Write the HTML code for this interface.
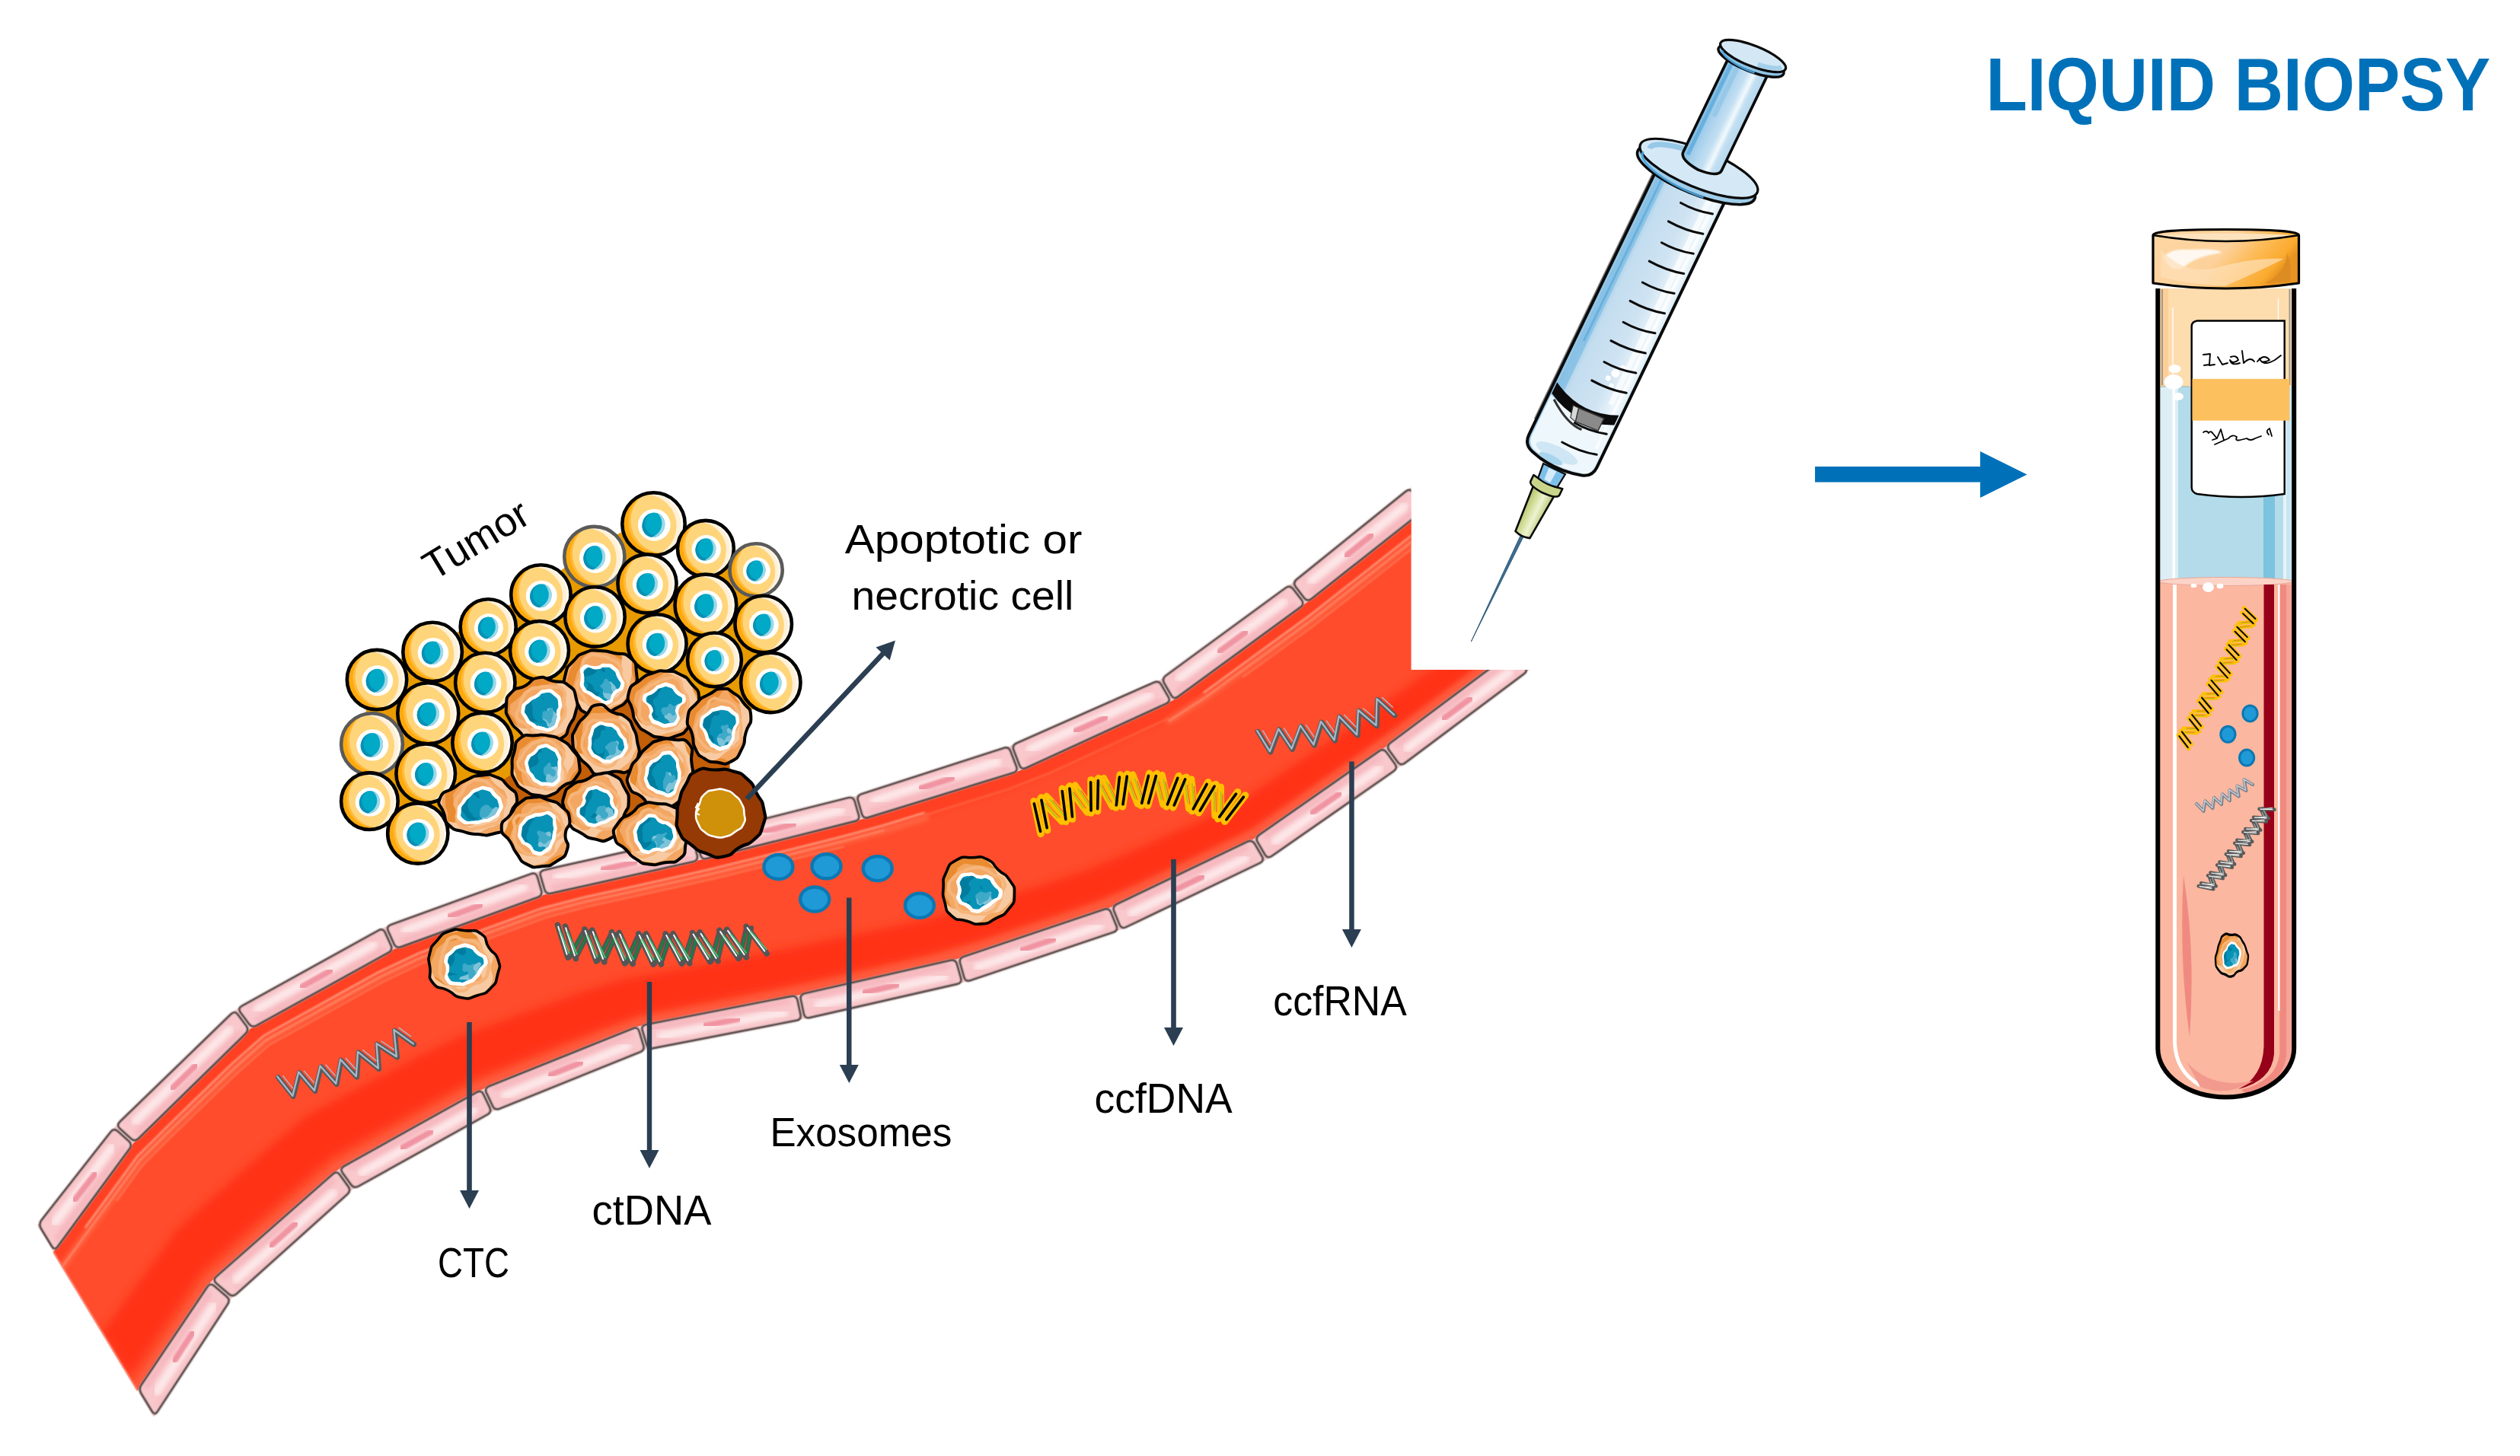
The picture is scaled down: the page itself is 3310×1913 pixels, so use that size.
<!DOCTYPE html>
<html><head><meta charset="utf-8"><title>Liquid biopsy</title>
<style>
html,body{margin:0;padding:0;background:#fff;}
body{width:3310px;height:1913px;overflow:hidden;font-family:"Liberation Sans",sans-serif;}
svg{display:block;}
text{font-family:"Liberation Sans",sans-serif;}
</style></head><body>
<svg width="3310" height="1913" viewBox="0 0 3310 1913">
<defs>
<clipPath id="vclip"><path d="M0 0H1853.5V880H3310V1913H0Z"/></clipPath>
<filter id="blur3" x="-5%" y="-5%" width="110%" height="110%"><feGaussianBlur stdDeviation="3"/></filter>
<filter id="blur6" x="-5%" y="-5%" width="110%" height="110%"><feGaussianBlur stdDeviation="6"/></filter>
<filter id="blur1" x="-5%" y="-5%" width="110%" height="110%"><feGaussianBlur stdDeviation="1.2"/></filter>
<clipPath id="lumclip"><path d="M70.3,1645 175.5,1502.1 329,1351.7 518.3,1247.1 715,1175.7 919.4,1130.1 1131.8,1076.8 1339.5,1012.7 1540,920.7 1715.5,792.4 1874.8,666.5 2031.3,540.5 L2100.5,771 1989.5,854 1819,981.7 1646.6,1101.9 1458.8,1191.9 1257.2,1259.7 1048.3,1307.2 839.8,1347.8 634,1430.7 444.1,1536.6 277.4,1683.2 180.7,1827Z"/></clipPath>
<radialGradient id="ycell" cx="0.5" cy="0.5" r="0.5">
<stop offset="0" stop-color="#ffd57c"/><stop offset="0.74" stop-color="#ffd57c"/><stop offset="0.80" stop-color="#ffc24a"/><stop offset="1" stop-color="#ffb11e"/></radialGradient>
<clipPath id="c858_688"><circle cx="858.5" cy="688.5" r="41.2"/></clipPath>
<clipPath id="n858_688"><ellipse cx="858.4" cy="689.7" rx="14.8" ry="16.3" transform="rotate(18 858.4 689.7)"/></clipPath>
<clipPath id="c926_720"><circle cx="926.9" cy="720.8" r="36.9"/></clipPath>
<clipPath id="n926_720"><ellipse cx="926.9" cy="721.9" rx="13.3" ry="14.7" transform="rotate(18 926.9 721.9)"/></clipPath>
<clipPath id="c780_731"><circle cx="780.8" cy="731.5" r="39.6"/></clipPath>
<clipPath id="n780_731"><ellipse cx="780.7" cy="732.7" rx="14.2" ry="15.7" transform="rotate(18 780.7 732.7)"/></clipPath>
<clipPath id="c993_748"><circle cx="993.1" cy="748.8" r="34.6"/></clipPath>
<clipPath id="n993_748"><ellipse cx="993" cy="749.9" rx="12.4" ry="13.7" transform="rotate(18 993 749.9)"/></clipPath>
<clipPath id="c850_766"><circle cx="850" cy="766.9" r="38.5"/></clipPath>
<clipPath id="n850_766"><ellipse cx="850" cy="768.1" rx="13.8" ry="15.3" transform="rotate(18 850 768.1)"/></clipPath>
<clipPath id="c710_781"><circle cx="710.4" cy="781.5" r="39.2"/></clipPath>
<clipPath id="n710_781"><ellipse cx="710.4" cy="782.7" rx="14.1" ry="15.6" transform="rotate(18 710.4 782.7)"/></clipPath>
<clipPath id="c926_795"><circle cx="926.9" cy="795" r="40.4"/></clipPath>
<clipPath id="n926_795"><ellipse cx="926.9" cy="796.2" rx="14.5" ry="16" transform="rotate(18 926.9 796.2)"/></clipPath>
<clipPath id="c781_810"><circle cx="781.5" cy="810.4" r="39.2"/></clipPath>
<clipPath id="n781_810"><ellipse cx="781.5" cy="811.6" rx="14.1" ry="15.6" transform="rotate(18 781.5 811.6)"/></clipPath>
<clipPath id="c1002_820"><circle cx="1002.7" cy="820" r="37.3"/></clipPath>
<clipPath id="n1002_820"><ellipse cx="1002.7" cy="821.1" rx="13.4" ry="14.8" transform="rotate(18 1002.7 821.1)"/></clipPath>
<clipPath id="c641_823"><circle cx="641.2" cy="823.8" r="36.5"/></clipPath>
<clipPath id="n641_823"><ellipse cx="641.1" cy="824.9" rx="13.1" ry="14.5" transform="rotate(18 641.1 824.9)"/></clipPath>
<clipPath id="c863_845"><circle cx="863.1" cy="845.8" r="38.5"/></clipPath>
<clipPath id="n863_845"><ellipse cx="863" cy="846.9" rx="13.8" ry="15.3" transform="rotate(18 863 846.9)"/></clipPath>
<clipPath id="c708_854"><circle cx="708.5" cy="854.6" r="38.5"/></clipPath>
<clipPath id="n708_854"><ellipse cx="708.4" cy="855.8" rx="13.8" ry="15.3" transform="rotate(18 708.4 855.8)"/></clipPath>
<clipPath id="c568_856"><circle cx="568.1" cy="856.5" r="38.8"/></clipPath>
<clipPath id="n568_856"><ellipse cx="568" cy="857.7" rx="14" ry="15.4" transform="rotate(18 568 857.7)"/></clipPath>
<clipPath id="c938_866"><circle cx="938.5" cy="866.9" r="35.4"/></clipPath>
<clipPath id="n938_866"><ellipse cx="938.4" cy="868" rx="12.7" ry="14" transform="rotate(18 938.4 868)"/></clipPath>
<clipPath id="c495_893"><circle cx="495" cy="893.1" r="39.2"/></clipPath>
<clipPath id="n495_893"><ellipse cx="495" cy="894.3" rx="14.1" ry="15.6" transform="rotate(18 495 894.3)"/></clipPath>
<clipPath id="c1012_896"><circle cx="1012.3" cy="896.9" r="39.2"/></clipPath>
<clipPath id="n1012_896"><ellipse cx="1012.3" cy="898.1" rx="14.1" ry="15.6" transform="rotate(18 1012.3 898.1)"/></clipPath>
<clipPath id="c637_896"><circle cx="637.3" cy="896.9" r="39.2"/></clipPath>
<clipPath id="n637_896"><ellipse cx="637.3" cy="898.1" rx="14.1" ry="15.6" transform="rotate(18 637.3 898.1)"/></clipPath>
<clipPath id="c562_937"><circle cx="562.3" cy="937.3" r="40"/></clipPath>
<clipPath id="n562_937"><ellipse cx="562.3" cy="938.5" rx="14.4" ry="15.9" transform="rotate(18 562.3 938.5)"/></clipPath>
<clipPath id="c633_975"><circle cx="633.5" cy="975.8" r="39.2"/></clipPath>
<clipPath id="n633_975"><ellipse cx="633.4" cy="976.9" rx="14.1" ry="15.6" transform="rotate(18 633.4 976.9)"/></clipPath>
<clipPath id="c488_977"><circle cx="488.5" cy="977.7" r="40.4"/></clipPath>
<clipPath id="n488_977"><ellipse cx="488.4" cy="978.9" rx="14.5" ry="16" transform="rotate(18 488.4 978.9)"/></clipPath>
<clipPath id="c559_1016"><circle cx="559.2" cy="1016.2" r="38.8"/></clipPath>
<clipPath id="n559_1016"><ellipse cx="559.2" cy="1017.3" rx="14" ry="15.4" transform="rotate(18 559.2 1017.3)"/></clipPath>
<clipPath id="c485_1052"><circle cx="485.4" cy="1052.7" r="37.3"/></clipPath>
<clipPath id="n485_1052"><ellipse cx="485.4" cy="1053.8" rx="13.4" ry="14.8" transform="rotate(18 485.4 1053.8)"/></clipPath>
<clipPath id="c548_1095"><circle cx="548.8" cy="1095" r="39.6"/></clipPath>
<clipPath id="n548_1095"><ellipse cx="548.8" cy="1096.2" rx="14.2" ry="15.7" transform="rotate(18 548.8 1096.2)"/></clipPath>
<clipPath id="o789_895"><path d="M833.1 903.9C829 915.9 831.8 911.1 823.7 920.1C815.6 929.1 819.7 924.6 808.7 930.8C797.7 936.9 803.8 936.6 790.8 938.6C777.8 940.6 781.3 942.6 769.7 936.8C758.2 931.1 764.5 931.8 756.1 921.4C747.6 910.9 748.8 917.4 744.4 905.4C740 893.5 739.9 897.8 742.8 885.6C745.7 873.3 744.4 878.1 753 868.7C761.7 859.3 757.1 861.8 768.7 857.3C780.3 852.8 775.2 854.9 787.8 855.1C800.4 855.4 793.1 854.9 806.5 858C819.8 861 818 855.5 827.9 864.3C837.7 873 834.3 870.9 836 884.1C837.7 897.3 837.1 891.9 833.1 903.9Z"/></clipPath>
<clipPath id="on789_895"><path d="M814.7 901.3C812.8 907.8 810.5 902.8 805.2 909.2C799.8 915.5 804.9 918.2 798.6 920.3C792.3 922.4 793.2 919 786.2 915.5C779.3 912.1 783.6 914.1 777.7 910C771.7 905.9 771.6 909.3 768.3 903.3C764.9 897.2 767.3 900 767.6 891.7C767.9 883.4 763.7 882.4 769.3 878.4C774.8 874.4 776 880.3 784.3 879.6C792.6 879 787.3 876.4 794.2 876.5C801.1 876.6 799.4 875.6 805 880C810.5 884.4 807.5 882.6 810.8 889.7C814 896.8 816.6 894.8 814.7 901.3Z"/></clipPath>
<clipPath id="o712_932"><path d="M755.8 936.7C753 948.3 754.1 941.8 748.3 952.7C742.5 963.5 748.6 962.8 738.5 969.2C728.4 975.6 731.7 970.3 718.1 971.8C704.4 973.3 709.5 977.5 697.4 973.8C685.4 970.1 691.2 970 682 960.8C672.8 951.6 675.4 957.3 669.7 946.2C664.1 935.1 664.3 939.8 665.1 927.6C665.8 915.3 663.7 918.4 672 909.5C680.4 900.6 678.7 907.2 690.1 900.9C701.5 894.6 694.3 892.7 706.2 890.6C718.2 888.4 712.4 891.3 725.8 894.6C739.2 897.8 736.1 892.5 746.4 900.3C756.8 908 753.7 905.7 756.8 917.8C759.9 929.9 758.6 925 755.8 936.7Z"/></clipPath>
<clipPath id="on712_932"><path d="M731.1 935.3C730.1 942 733 938.6 730.6 945.3C728.2 951.9 730.4 952.3 723.9 955.3C717.4 958.4 718.9 956.2 711.1 954.4C703.3 952.7 706.6 954.2 700.6 950C694.5 945.9 696.7 948.2 693 941.9C689.4 935.6 688.5 937.7 689.7 931.2C690.8 924.7 691.4 927 696.5 922.3C701.7 917.6 698.8 921.1 705.2 917.1C711.5 913.1 707.9 911.2 715.6 910.2C723.2 909.3 722.1 909.3 728 914.3C734 919.3 732.4 918.2 733.4 925.2C734.4 932.2 732 928.6 731.1 935.3Z"/></clipPath>
<clipPath id="o871_924"><path d="M911.1 936.7C906.3 949.7 911.9 945.5 904 955.7C896.1 965.8 899.3 962.7 887.4 967.2C875.4 971.6 880.3 970.5 868.1 969C855.8 967.5 861.1 968.9 850.5 962.6C840 956.3 843.2 960.4 836.5 950.1C829.7 939.8 833.9 945 830.4 931.7C826.8 918.5 822.6 923 825.8 910.4C829.1 897.7 829.7 902.5 840.2 893.9C850.7 885.2 845.5 888.3 857.3 884.3C869.1 880.3 863.5 881.2 875.6 881.8C887.7 882.4 882.7 880.6 893.6 886.2C904.5 891.7 900.1 888.3 908.3 898.5C916.5 908.6 917.3 903.9 918.2 916.7C919.1 929.4 915.8 923.7 911.1 936.7Z"/></clipPath>
<clipPath id="on871_924"><path d="M887.5 930.5C884.9 938.5 891.7 937.3 888.4 943.9C885.1 950.5 885.1 948.9 877.6 950.4C870.1 951.9 872.8 951.3 865.9 948.3C859 945.4 859.8 947.7 856.9 941.6C854 935.5 860 937.7 857.2 930C854.4 922.3 847.8 925 848.5 918.5C849.2 911.9 852.6 915.3 859.2 910.4C865.8 905.5 861.5 906 868.4 903.7C875.3 901.3 873.3 900.8 879.8 903.3C886.3 905.8 882.4 905.7 887.8 911.2C893.3 916.7 896.3 913.5 896.2 919.9C896.1 926.3 890.1 922.5 887.5 930.5Z"/></clipPath>
<clipPath id="o945_953"><path d="M979.6 962.7C975.6 977.1 980.9 971.5 974.3 984.2C967.7 996.8 970.8 995 959.9 1000.7C948.9 1006.5 953 1002.7 941.5 1001.4C930 1000 934.8 1002.6 925.5 996.8C916.2 991 918.9 994.6 913.5 984C908.1 973.4 912.7 978.6 909.3 965C905.8 951.4 901.1 957.1 903.2 943.2C905.3 929.3 906 933.7 915.5 923.3C925 913 920.7 918.3 931.8 912.1C942.8 906 937.7 905.3 948.6 905C959.5 904.6 955 905 964.4 911.1C973.8 917.3 969.4 913.5 976.7 923.5C984 933.4 985.4 927.9 986.3 941C987.2 954 983.6 948.3 979.6 962.7Z"/></clipPath>
<clipPath id="on945_953"><path d="M962 959.5C959.5 968.1 963.5 965.5 959.5 972.4C955.5 979.3 956.5 978.2 950 980.1C943.4 982.1 945.6 981.1 939.9 978.3C934.2 975.6 936.4 977.2 932.8 971.8C929.1 966.5 932.1 969.7 929 962.3C925.8 954.9 922.2 957.5 923.3 949.6C924.4 941.7 926.1 943.8 932.4 938.7C938.7 933.5 935.8 935.9 942.2 934.1C948.5 932.3 945.5 932.2 951.4 933.2C957.4 934.3 954.9 932.8 960 937.2C965.2 941.7 966.2 939.2 966.8 946.6C967.4 954 964.4 950.8 962 959.5Z"/></clipPath>
<clipPath id="o796_974"><path d="M837.1 974.6C839.1 987.1 841.6 982.1 838 994.8C834.5 1007.5 837.5 1006.3 826.5 1012.6C815.5 1018.9 818.5 1011.7 805.1 1013.7C791.6 1015.7 797.3 1021.4 786.1 1018.6C775 1015.8 780.5 1014.2 771.6 1005.4C762.7 996.7 765.8 1002.6 759.3 992.3C752.9 982.1 753 986.8 752.3 974.6C751.5 962.4 751.5 967.1 757 955.8C762.6 944.4 759.7 950.5 769 940.6C778.4 930.7 773.1 927.6 785.1 926.1C797.1 924.5 792.7 930.5 805 935.9C817.3 941.3 812.9 935.2 821.9 942.3C831 949.4 827.1 946.5 832.1 957.3C837.2 968.1 835.1 962.1 837.1 974.6Z"/></clipPath>
<clipPath id="on796_974"><path d="M819.1 975.9C820.5 982.9 821 981.6 817.1 987.7C813.2 993.8 814.1 990.7 807.4 994.2C800.7 997.6 803.8 998.3 797 998.1C790.2 997.9 793.1 997.4 786.9 993.6C780.7 989.9 781.6 992.7 778.4 986.8C775.2 980.9 777.3 983.1 777.4 975.9C777.5 968.7 776.2 972.3 778.8 965.2C781.3 958.1 778.9 958.3 784.9 954.6C791 951 789.6 953.2 797 954.3C804.4 955.4 801.9 953.9 807.2 957.9C812.5 962 809 960.6 812.9 966.6C816.9 972.5 817.7 968.9 819.1 975.9Z"/></clipPath>
<clipPath id="o714_1004"><path d="M756 1022.3C748.9 1032.3 749.6 1025.7 739.4 1032.8C729.3 1040 736.3 1039.6 725.6 1043.7C714.8 1047.8 719.2 1046.8 707.2 1045.1C695.2 1043.3 699.9 1045.2 689.6 1038.5C679.3 1031.8 681.8 1035.6 676.2 1024.8C670.6 1014.1 673 1018.6 672.7 1006.3C672.4 994.1 671.8 1000.3 675.4 988.2C678.9 976.1 674.1 977.3 683.3 970C692.6 962.7 690.6 967.4 703.1 966.3C715.6 965.1 709.3 964.6 720.8 966.7C732.3 968.8 727.3 966.5 737.6 972.5C747.9 978.5 743.9 974.7 751.6 984.7C759.3 994.8 759.2 990.2 760.7 1002.7C762.2 1015.2 763.1 1012.2 756 1022.3Z"/></clipPath>
<clipPath id="on714_1004"><path d="M732.3 1013.1C731.4 1020.3 734.6 1020.4 729.8 1025.3C725 1030.2 725.4 1027.9 717.8 1027.8C710.2 1027.7 712.9 1028.6 707 1025.1C701 1021.6 703.9 1022.9 699.9 1017.3C696 1011.7 696.5 1014.9 695 1008.3C693.5 1001.8 692.7 1003.5 695.5 997.6C698.3 991.7 697.9 995.4 703.5 990.5C709 985.6 705.4 984.6 712.2 982.8C719 981.1 717.4 981.7 723.8 985.2C730.2 988.8 728.6 987.3 731.5 993.5C734.4 999.6 732.3 997.1 732.6 1003.7C732.8 1010.3 733.2 1005.9 732.3 1013.1Z"/></clipPath>
<clipPath id="o870_1016"><path d="M909.7 1020.1C908.8 1032.8 911.4 1028.2 905.6 1039.2C899.8 1050.1 902.4 1045.7 892.3 1052.9C882.3 1060.1 887.4 1058.1 875.5 1060.7C863.6 1063.4 867.4 1065.5 856.6 1060.9C845.8 1056.4 853.1 1056.1 843.1 1047.1C833.1 1038.1 831.7 1045.8 826.6 1034C821.5 1022.3 823.7 1024.9 827.8 1011.8C831.8 998.8 831.2 1005.1 838.7 995C846.3 984.8 841.2 988.9 850.4 981.4C859.5 973.9 854.7 975.7 866.1 972.5C877.6 969.3 871.7 970.1 884.8 971.8C897.8 973.6 897.4 968 905.2 977.7C913 987.4 906.8 986.9 908.3 1001C909.8 1015.1 910.6 1007.3 909.7 1020.1Z"/></clipPath>
<clipPath id="on870_1016"><path d="M890.1 1019.4C889.6 1026.4 890.2 1022.6 887.2 1029.9C884.2 1037.2 887 1038.2 881.1 1041.3C875.2 1044.5 876.5 1041.4 869.4 1039.4C862.3 1037.5 865.7 1039.5 859.8 1035.5C854 1031.6 854.5 1034.2 851.8 1027.6C849.1 1020.9 850.5 1023.1 851.8 1015.5C853.1 1008 851.5 1010.2 855.7 1004.9C859.8 999.5 858.2 1003.9 864.4 999.4C870.6 995 867.3 992.4 874.2 991.5C881.1 990.7 880.3 991.1 885.1 996.8C889.9 1002.6 887 1001.4 888.6 1008.9C890.3 1016.4 890.5 1012.4 890.1 1019.4Z"/></clipPath>
<clipPath id="o629_1058"><path d="M678.9 1048.5C680.3 1059.7 675.6 1054.3 671.7 1066.7C667.8 1079 675.2 1075.9 667.3 1085.5C659.3 1095.2 661.2 1092 647.9 1095.5C634.6 1099 640.4 1097 627.4 1096.1C614.3 1095.1 621.1 1096.3 608.8 1092.6C596.5 1088.8 599.2 1093 590.5 1084.8C581.9 1076.6 587 1080.1 582.8 1067.9C578.7 1055.8 573.4 1059.4 578 1048.4C582.6 1037.3 585 1042.6 596.7 1034.8C608.3 1026.9 601.2 1030.1 612.9 1024.8C624.7 1019.4 618.9 1019.9 632 1018.7C645.1 1017.5 640.5 1016.5 652.3 1021.2C664.1 1026 658.5 1024 667.3 1033C676.2 1042.1 677.4 1037.3 678.9 1048.5Z"/></clipPath>
<clipPath id="on629_1058"><path d="M654.6 1054.8C656.2 1061.5 656.4 1059.6 653 1065.8C649.6 1072.1 650.7 1070 644.4 1073.6C638.1 1077.1 641.1 1074.9 634 1076.5C626.8 1078.1 631.3 1078.4 623 1078.4C614.7 1078.4 614.8 1081.2 609.1 1076.6C603.4 1072 605.2 1072.1 605.8 1064.7C606.5 1057.3 607 1060.2 611.1 1054.3C615.1 1048.5 612.8 1051.8 618 1047.1C623.2 1042.3 619.5 1042.9 626.6 1040C633.6 1037.1 632 1036.4 639.1 1038.4C646.3 1040.3 642.9 1040.4 648 1045.9C653.2 1051.4 652.9 1048.2 654.6 1054.8Z"/></clipPath>
<clipPath id="o783_1059"><path d="M819.9 1070.5C815.7 1081.3 819.4 1075.5 813.1 1086C806.8 1096.5 811.9 1096.5 801.1 1101.9C790.2 1107.4 793.3 1104.9 780.5 1102.3C767.8 1099.7 773.8 1100.8 762.8 1094.2C751.9 1087.7 754.8 1092.4 747.8 1082.6C740.7 1072.8 744 1077.1 741.7 1064.9C739.4 1052.7 737.4 1057.4 740.9 1046.1C744.3 1034.7 742.7 1038 752.1 1030.9C761.6 1023.9 757.9 1029.5 769.3 1024.8C780.7 1020.2 773.8 1018.8 786.3 1017C798.9 1015.2 795.7 1013.3 807 1019.3C818.3 1025.4 814 1023.7 820.3 1035.1C826.5 1046.5 825.8 1041.7 825.7 1053.5C825.6 1065.3 824.1 1059.7 819.9 1070.5Z"/></clipPath>
<clipPath id="on783_1059"><path d="M807.2 1067.5C806 1073.7 804.4 1071.3 798.2 1075.2C792.1 1079.1 795.6 1077 788.7 1079.2C781.9 1081.4 784.5 1083.2 777.7 1081.8C770.9 1080.5 773.6 1080.6 768.3 1075.1C762.9 1069.6 761.5 1071.9 761.6 1065.4C761.8 1059 766 1062.4 768.8 1055.7C771.6 1049 766.7 1051.4 770.1 1045.3C773.4 1039.3 772 1039.3 778.9 1037.5C785.8 1035.7 783.6 1037.1 790.6 1040C797.7 1043 796.3 1040.7 800 1046.2C803.7 1051.8 799.4 1049.6 801.8 1056.7C804.2 1063.8 808.4 1061.4 807.2 1067.5Z"/></clipPath>
<clipPath id="o706_1092"><path d="M742.6 1095.9C741.5 1109.2 748.8 1104.5 745 1116.4C741.2 1128.3 742.2 1124.3 731.2 1131.6C720.2 1138.9 725 1136.9 712 1138.2C699.1 1139.6 703.3 1141.2 692.3 1135.6C681.2 1130 686.1 1131.4 678.8 1121.5C671.5 1111.6 677 1117.2 670.3 1105.9C663.6 1094.6 658.6 1099.5 658.7 1087.5C658.8 1075.5 662.7 1080.8 670.7 1069.9C678.8 1059 672.8 1062.1 682.9 1054.7C693.1 1047.3 688.8 1048.7 701.2 1047.6C713.6 1046.4 708 1047.1 720.1 1051.2C732.2 1055.2 728.2 1051.2 737.5 1059.7C746.9 1068.2 746.5 1064.6 748.2 1076.7C749.9 1088.7 743.6 1082.7 742.6 1095.9Z"/></clipPath>
<clipPath id="on706_1092"><path d="M725.9 1095.5C724.8 1102.5 726.4 1099 723.3 1105.5C720.2 1112 722.7 1110.7 716.6 1115C710.4 1119.3 711.6 1120.3 704.9 1118.5C698.2 1116.7 702.1 1114.8 696.3 1109.6C690.6 1104.4 691.2 1109.1 687.6 1103C684 1096.9 684.5 1098.7 685.5 1091.4C686.5 1084.1 686 1086.6 690.6 1081.1C695.3 1075.6 693.1 1077.8 699.4 1075C705.7 1072.1 701.8 1073.6 709.5 1072.6C717.2 1071.6 716.8 1067.9 722.5 1071.9C728.2 1075.8 725.4 1076.7 726.6 1084.5C727.7 1092.4 727 1088.5 725.9 1095.5Z"/></clipPath>
<clipPath id="o858_1095"><path d="M900.6 1091.2C900.7 1103.6 903.1 1096.8 900.6 1109.1C898.2 1121.4 902.7 1119.9 893.2 1128C883.7 1136.1 885.7 1130.9 872.1 1133.5C858.6 1136 865 1137.3 852.6 1135.6C840.3 1133.9 845.3 1134.9 835.1 1128.4C824.8 1121.9 831.2 1125.3 822 1116C812.7 1106.8 810.4 1112.4 807.4 1100.5C804.3 1088.7 805.3 1091.2 812.7 1080.5C820.2 1069.8 819.1 1076.4 829.7 1068.4C840.3 1060.4 833 1060.6 844.5 1056.5C856 1052.4 851.1 1054.9 864.2 1056C877.2 1057.2 871.6 1054.6 883.6 1059.9C895.6 1065.2 894.5 1061.4 900.1 1071.8C905.8 1082.2 900.4 1078.7 900.6 1091.2Z"/></clipPath>
<clipPath id="on858_1095"><path d="M883.5 1094.2C884.9 1101.2 884.9 1099.2 881.3 1105.7C877.6 1112.3 879.3 1111.2 872.6 1113.8C865.8 1116.5 868.8 1112.6 861.1 1113.7C853.3 1114.8 855.9 1118.8 849.3 1117.1C842.8 1115.5 845.4 1114.8 841.4 1108.7C837.4 1102.6 838.4 1105.8 837.4 1098.8C836.4 1091.9 835.5 1094.4 838.4 1088C841.4 1081.5 840.1 1084.3 846.3 1079.6C852.5 1074.9 850.2 1073.4 857.1 1073.9C864 1074.5 860.2 1077.7 866.9 1081.2C873.6 1084.8 871.6 1080.4 877.1 1084.7C882.7 1089 882.1 1087.2 883.5 1094.2Z"/></clipPath>
<clipPath id="o608_1266"><path d="M653.6 1280.3C650.4 1292.8 653.6 1288.9 644.6 1298.2C635.5 1307.4 639.4 1303.8 626.5 1308C613.6 1312.2 618.8 1313.1 605.9 1310.8C593.1 1308.4 600.3 1307.3 587.9 1301C575.5 1294.6 576.5 1301.3 568.8 1291.6C561.1 1281.9 566.2 1284.8 564.8 1271.8C563.4 1258.9 561.5 1264.7 564.5 1252.8C567.6 1240.8 565.5 1245.6 574 1235.9C582.6 1226.2 577.8 1228 590.2 1223.6C602.6 1219.2 597.3 1221.5 611.3 1222.7C625.2 1223.9 621.8 1219.7 632.1 1227.1C642.4 1234.6 634.8 1233.9 642.1 1245.1C649.5 1256.4 650.3 1249 654.1 1260.8C657.9 1272.5 656.7 1267.8 653.6 1280.3Z"/></clipPath>
<clipPath id="on608_1266"><path d="M628.8 1273.7C624.7 1280.2 628.1 1277.2 623.4 1282C618.7 1286.9 621.6 1285.3 614.6 1288.1C607.7 1290.9 610.8 1291.4 602.5 1290.5C594.2 1289.5 593.7 1291.6 589.7 1285.3C585.7 1279 590.9 1279.7 590.5 1271.6C590.1 1263.6 586.9 1267.5 588.4 1261.2C589.8 1254.8 589.6 1257.6 594.9 1252.5C600.1 1247.5 597 1248.3 604.1 1246.1C611.3 1243.8 609.1 1243.3 616.3 1245.8C623.5 1248.2 619.3 1247.8 625.7 1253.4C632.1 1258.9 634.5 1255.6 635.5 1262.4C636.6 1269.1 632.8 1267.1 628.8 1273.7Z"/></clipPath>
<clipPath id="o1283_1170"><path d="M1332.4 1175.5C1332 1188.5 1332.7 1184.4 1324.5 1194.9C1316.2 1205.4 1319.5 1200.5 1307.6 1206.9C1295.8 1213.2 1301.6 1212.9 1288.9 1213.9C1276.1 1214.9 1282.3 1213.5 1269.3 1209.9C1256.3 1206.3 1259.3 1211.3 1249.8 1203.1C1240.3 1194.8 1244.4 1197.3 1240.8 1185C1237.2 1172.7 1238.5 1178.9 1239.1 1166.1C1239.7 1153.3 1237 1158.6 1242.6 1146.7C1248.2 1134.8 1244.3 1137 1255.8 1130.3C1267.3 1123.7 1263.3 1127 1277.1 1126.7C1290.9 1126.3 1285.9 1124 1297.3 1129.4C1308.6 1134.8 1301.7 1134 1311.2 1142.9C1320.6 1151.7 1318.6 1144.9 1325.7 1155.8C1332.7 1166.7 1332.8 1162.4 1332.4 1175.5Z"/></clipPath>
<clipPath id="on1283_1170"><path d="M1311.8 1174.6C1310.8 1181.6 1307.7 1178.8 1301.3 1184C1294.8 1189.1 1299 1186.5 1292.4 1190.1C1285.9 1193.6 1288.4 1195.4 1281.6 1194.7C1274.8 1194 1278.5 1192.4 1272 1188C1265.5 1183.5 1265.1 1187.4 1262.1 1181.3C1259.1 1175.3 1262.9 1178 1262.9 1169.7C1262.9 1161.5 1258.4 1162.9 1262.2 1156.6C1265.9 1150.3 1266.3 1151.5 1274.2 1150.8C1282 1150.2 1278.1 1153.4 1285.6 1154.6C1293.2 1155.8 1290.5 1151.7 1296.7 1154.5C1302.9 1157.3 1299.3 1156.2 1304.3 1162.9C1309.3 1169.6 1312.8 1167.6 1311.8 1174.6Z"/></clipPath>
<linearGradient id="barrelg" x1="0" x2="1" y1="0" y2="0">
<stop offset="0" stop-color="#8fc4e6"/><stop offset="0.10" stop-color="#9fcdea"/><stop offset="0.22" stop-color="#c3ddef"/>
<stop offset="0.62" stop-color="#cfe3f2"/><stop offset="0.80" stop-color="#e3f0f8"/><stop offset="0.90" stop-color="#f4fafd"/><stop offset="1" stop-color="#d5e8f4"/></linearGradient>
<linearGradient id="shaftg" x1="0" x2="1" y1="0" y2="0">
<stop offset="0" stop-color="#7fbce3"/><stop offset="0.25" stop-color="#a6d0ec"/><stop offset="0.55" stop-color="#c4e0f2"/>
<stop offset="0.70" stop-color="#f2f9fd"/><stop offset="0.80" stop-color="#c4e0f2"/><stop offset="1" stop-color="#b5d7ee"/></linearGradient>
<linearGradient id="hubg" x1="0" x2="1" y1="0" y2="0">
<stop offset="0" stop-color="#aebf62"/><stop offset="0.35" stop-color="#d6e09e"/><stop offset="0.6" stop-color="#eef2d2"/><stop offset="1" stop-color="#b9c774"/></linearGradient>
<clipPath id="tubeclip"><path d="M2834.3 379 V1377.5 A89.4 64 0 0 0 3013.2 1377.5 V379 Z"/></clipPath>
<linearGradient id="capg" x1="0" x2="1" y1="0" y2="0.35">
<stop offset="0" stop-color="#fdd6a2"/><stop offset="0.55" stop-color="#fdd19a"/><stop offset="0.75" stop-color="#fdbb58"/><stop offset="0.93" stop-color="#fbab30"/><stop offset="1" stop-color="#e89422"/></linearGradient>
<clipPath id="o2930_1255"><path d="M2979.2 1264.8C2976.6 1277.5 2976.9 1274.1 2966.5 1282.1C2956.1 1290 2959.6 1283.3 2948 1288.6C2936.5 1293.9 2943.5 1296.1 2931.8 1297.9C2920.2 1299.7 2925.7 1298.1 2913.2 1294C2900.7 1289.9 2903.8 1294.7 2894.3 1285.6C2884.8 1276.5 2886.2 1279.7 2884.7 1266.7C2883.3 1253.8 2885.8 1259.2 2889.9 1246.7C2894 1234.2 2890.3 1240.3 2896.9 1229.3C2903.5 1218.3 2898.8 1218.9 2909.7 1213.8C2920.7 1208.8 2916.8 1213.8 2929.8 1214.2C2942.9 1214.6 2937.5 1210.6 2948.9 1215C2960.2 1219.4 2955.2 1217.8 2963.8 1227.4C2972.3 1237 2969.3 1231.4 2974.5 1243.9C2979.6 1256.4 2981.9 1252.1 2979.2 1264.8Z"/></clipPath>
<clipPath id="on2930_1255"><path d="M2951.7 1260.4C2949.5 1267.7 2952.3 1266 2947.5 1270.5C2942.8 1275.1 2944.2 1271.8 2937.5 1274.1C2930.8 1276.4 2935.1 1276.8 2927.4 1277.5C2919.7 1278.1 2920.2 1280.8 2914.4 1276.2C2908.6 1271.6 2911.2 1271.8 2910 1263.8C2908.8 1255.7 2907.8 1258.4 2910.8 1252.1C2913.7 1245.7 2914.1 1250.2 2918.8 1244.8C2923.5 1239.3 2919.1 1239.7 2924.9 1235.7C2930.8 1231.7 2929.3 1231.6 2936.4 1232.8C2943.6 1234.1 2940.5 1234.2 2946.4 1239.4C2952.4 1244.7 2952.5 1241.6 2954.3 1248.6C2956.1 1255.5 2954 1253.1 2951.7 1260.4Z"/></clipPath>
</defs>
<g clip-path="url(#vclip)">
<path d="M49,1610 151,1480 310,1326 505,1218 706,1145 912,1099 1123,1046 1327,980 1524,893 1696,767 1853.5,640 2010,514 L2120,797 2009,880 1838,1008 1663,1130 1471,1222 1266,1291 1055,1339 849,1379 648,1460 463,1563 304,1706 202,1862Z" fill="#f8c9cd"/>
<path d="M70.3,1645 175.5,1502.1 329,1351.7 518.3,1247.1 715,1175.7 919.4,1130.1 1131.8,1076.8 1339.5,1012.7 1540,920.7 1715.5,792.4 1874.8,666.5 2031.3,540.5 L2100.5,771 1989.5,854 1819,981.7 1646.6,1101.9 1458.8,1191.9 1257.2,1259.7 1048.3,1307.2 839.8,1347.8 634,1430.7 444.1,1536.6 277.4,1683.2 180.7,1827Z" fill="#ff4c2c"/>
<g clip-path="url(#lumclip)">
<path d="M134.3,1750.6 167.5,1705.2 200.6,1659.7 233.7,1614.3 275.3,1576.4 317.6,1539.2 360,1502 403.1,1465.7 453,1439.1 503.2,1412.7 553.3,1386.3 604.1,1361.6 657.5,1342.2 710.8,1322.8 764.1,1303.4 818.2,1286.8 874.2,1276.6 930.2,1266.3 986.1,1256.1 1041.8,1245 1097.4,1233.3 1152.9,1221.5 1208.3,1209.4 1263,1194.9 1317.2,1178.4 1371.3,1161.9 1425,1144.3 1477,1122.6 1528.5,1099.6 1580,1076.6 1630.3,1051.7 1676.8,1020.4 1723.4,989.1 1769.9,957.8 1815.9,925.9 1861.3,893.1 1906.7,860.4 1952.1,827.6 1997.4,794.9 2042.7,762.2 2088.1,729.5 L2097.8,761.8 2052.7,795.1 2007.7,828.5 1962.7,861.9 1917.7,895.2 1872.6,928.6 1827.6,962 1781.8,994.4 1735.7,1026.3 1689.5,1058.2 1643.4,1090 1592.9,1114.5 1542.1,1138.4 1491.3,1162.3 1439.8,1184.6 1386.5,1202.4 1333.1,1220 1279.7,1237.5 1225.6,1252.6 1170.8,1264.9 1115.8,1277.2 1060.9,1289.5 1005.8,1300.7 950.5,1311.3 895.2,1321.9 840,1332.5 787.1,1351.4 734.8,1372 682.4,1392.6 630.1,1413.1 580.5,1439.4 531.2,1466.5 481.9,1493.6 432.9,1521.1 390.6,1557.9 348.4,1595 306.2,1632.1 264.9,1670 233.2,1716.2 201.4,1762.5 169.7,1808.8 Z" fill="#ff3217" filter="url(#blur6)"/>
<path d="M175.2,1817.9 206.7,1771.3 238.1,1724.8 269.6,1678.2 310.7,1640.2 352.8,1603 394.9,1565.8 437,1528.7 485.8,1500.9 534.8,1473.5 583.9,1446.2 633.3,1419.5 685.4,1398.6 737.6,1377.7 789.7,1356.8 842.3,1337.5 897.5,1326.6 952.6,1315.8 1007.7,1305 1062.7,1293.5 1117.5,1281 1172.2,1268.5 1227,1255.9 1280.9,1240.6 1334.2,1222.7 1387.5,1204.9 1440.6,1186.8 1492,1164.2 1542.7,1140 1593.4,1115.8 1643.8,1091.1 1689.8,1058.9 1735.8,1026.7 1781.9,994.5 1827.5,961.8 1872.5,928.1 1917.4,894.4 1962.3,860.6 2007.2,826.9 2052.2,793.2 2097.1,759.4 L2101.9,775.6 2057,809.1 2012.1,842.7 1967.1,876.2 1922.2,909.8 1877.3,943.4 1832.4,976.9 1786.7,1009.4 1740.7,1041.5 1694.7,1073.5 1648.7,1105.6 1598.1,1129.8 1547.6,1154 1497,1178.3 1445.8,1200.7 1392.6,1218.6 1339.5,1236.5 1286.3,1254.4 1232.4,1269.6 1177.8,1282 1123.1,1294.4 1068.4,1306.8 1013.5,1318 958.4,1328.7 903.4,1339.4 848.4,1350.1 796,1369.9 744,1390.9 692,1411.9 640,1432.8 590.8,1459.7 541.9,1487 492.9,1514.3 444.3,1542.1 402.2,1579.1 360,1616.1 317.9,1653.1 276.7,1691 245.4,1737.5 214.2,1784 182.9,1830.6 Z" fill="#ff5a3c" filter="url(#blur3)"/>
<path d="M68.1,1641.4 102.3,1595 136.5,1548.6 170.8,1502.2 211.4,1461.3 252.5,1420.9 293.7,1380.5 336.7,1342.5 387.2,1314.6 437.6,1286.7 488.1,1258.8 540.3,1234.6 594.5,1215 648.7,1195.3 702.9,1175.7 758.9,1161.9 815.2,1149.3 871.4,1136.8 927.7,1123.9 983.6,1109.8 1039.5,1095.7 1095.4,1081.7 1151.1,1066.4 1206.2,1049.4 1261.3,1032.4 1316.4,1015.5 1369.8,994.1 1422.3,970.1 1474.7,946 1527.1,922 1574.9,890 1621.4,856 1668,821.9 1714.5,787.8 1759.7,752 1804.9,716.2 1850.2,680.5 1895.2,644.5 1940.1,608.3 1985,572.1 2029.9,535.9 L2038.2,563.5 1993.3,599.4 1948.4,635.3 1903.5,671.2 1858.5,706.9 1813.3,742.4 1768.1,778 1722.8,813.4 1676.4,847.2 1629.9,881.1 1583.4,914.9 1535.3,946 1483.1,970 1430.9,994.1 1378.6,1018 1325.2,1038.9 1270.3,1056 1215.4,1073.1 1160.4,1089.9 1104.9,1104.8 1049.2,1118.7 993.4,1132.5 937.6,1146.3 881.5,1158.9 825.3,1171.3 769.2,1183.6 713.7,1198.1 659.7,1217.9 605.7,1237.7 551.8,1257.5 500,1282 449.7,1309.8 399.4,1337.7 349.1,1365.5 306.2,1403.4 264.9,1443.4 223.7,1483.4 183,1523.9 149.1,1570.4 115.2,1616.8 81.3,1663.2 Z" fill="#ff4122" filter="url(#blur3)"/>
<path d="M81.9,1664.1 115.7,1617.7 149.6,1571.3 183.5,1524.8 224.2,1484.3 265.4,1444.3 306.7,1404.4 349.6,1366.5 399.9,1338.6 450.2,1310.8 500.5,1283 552.2,1258.5 606.2,1238.6 660.2,1218.8 714.1,1199 769.6,1184.5 825.8,1172.2 881.9,1159.8 938,1147.2 993.8,1133.5 1049.6,1119.6 1105.3,1105.7 1160.8,1090.9 1215.8,1074" fill="none" stroke="#ff7f5c" stroke-width="9" opacity="0.55" stroke-linecap="round" filter="url(#blur3)"/>
<path d="M112.5,1612.3 146.5,1565.8 180.4,1519.4 221.1,1478.8 262.3,1438.7 303.6,1398.6 346.5,1360.7 396.8,1332.9 447.2,1305 497.5,1277.2 549.4,1252.7 603.4,1233 657.4,1213.2 711.4,1193.4 767,1179.1 823.2,1166.7 879.4,1154.3 935.5,1141.6 991.3,1127.8 1047.1,1113.9 1103,1099.9 1158.5,1085 1213.5,1068.1" fill="none" stroke="#ffa68c" stroke-width="2.6" opacity="0.85" stroke-linecap="round" filter="url(#blur1)"/>
<path d="M81.9,1664.1 115.7,1617.7 149.6,1571.3 183.5,1524.8 224.2,1484.3 265.4,1444.3 306.7,1404.4 349.6,1366.5 399.9,1338.6 450.2,1310.8 500.5,1283 552.2,1258.5 606.2,1238.6 660.2,1218.8 714.1,1199 769.6,1184.5 825.8,1172.2 881.9,1159.8 938,1147.2 993.8,1133.5 1049.6,1119.6 1105.3,1105.7 1160.8,1090.9" fill="none" stroke="#ff9272" stroke-width="2.2" opacity="0.8" stroke-linecap="round" filter="url(#blur1)"/>
<path d="M153.3,1577.6 187.1,1531.2 227.8,1490.8 269.1,1450.9 310.4,1411 353.2,1373.2 403.4,1345.4 453.7,1317.5 503.9,1289.7 555.6,1265.1 609.5,1245.3 663.4,1225.4 717.3,1205.6 772.6,1190.9 828.7,1178.6 884.8,1166.3 940.9,1153.8 996.6,1140.1 1052.4,1126.3 1108.1,1112.5" fill="none" stroke="#ff8a68" stroke-width="2.0" opacity="0.7" stroke-linecap="round" filter="url(#blur1)"/>
<path d="M1535.7,947 1583.8,915.9 1630.2,882.1 1676.7,848.3 1723.2,814.4 1768.4,779 1813.6,743.5 1858.8,708 1903.9,672.3 1948.8,636.4 1993.7,600.6 2038.6,564.7" fill="none" stroke="#ff7f5c" stroke-width="9" opacity="0.55" stroke-linecap="round" filter="url(#blur3)"/>
<path d="M1581.6,909.7 1628.1,875.8 1674.6,841.9 1721.1,808.1 1766.3,772.6 1811.6,737 1856.8,701.4 1901.8,665.6 1946.7,629.7 1991.6,593.7 2036.5,557.8" fill="none" stroke="#ffa68c" stroke-width="2.6" opacity="0.85" stroke-linecap="round" filter="url(#blur1)"/>
<path d="M1535.7,947 1583.8,915.9 1630.2,882.1 1676.7,848.3 1723.2,814.4 1768.4,779 1813.6,743.5 1858.8,708 1903.9,672.3 1948.8,636.4 1993.7,600.6" fill="none" stroke="#ff9272" stroke-width="2.2" opacity="0.8" stroke-linecap="round" filter="url(#blur1)"/>
<path d="M1632.7,889.4 1679.2,855.7 1725.6,821.9 1770.9,786.6 1816.1,751.2 1861.3,715.7 1906.3,680.1 1951.2,644.3" fill="none" stroke="#ff8a68" stroke-width="2.0" opacity="0.7" stroke-linecap="round" filter="url(#blur1)"/>
<path d="M1214.6,1071.1 1269.5,1054 1324.5,1036.9 1377.9,1016 1430.2,992.1 1482.4,968 1534.6,944" fill="none" stroke="#ff6f4e" stroke-width="3" opacity="0.6" stroke-linecap="round" filter="url(#blur1)"/>
</g>
<path d="M54 1614.3 Q50.4 1608.3 54.7 1602.8L145.3 1487.2 Q149.6 1481.7 154.8 1486.4L169 1499.1 Q174.2 1503.8 170 1509.5L75.8 1637.7 Q71.6 1643.3 68 1637.3Z" fill="#f9c8cc"/>
<path d="M72.4,1605 L145.9,1507.9" stroke="#fde9ea" stroke-width="13" stroke-linecap="round" opacity="0.95" filter="url(#blur3)"/>
<path d="M75.2,1627.6 L162.3,1509.3" stroke="#f4aeb6" stroke-width="7" stroke-linecap="round" opacity="0.8" filter="url(#blur3)"/>
<path d="M60.3,1603 L145.2,1493.8" stroke="#f6bcc2" stroke-width="5" stroke-linecap="round" opacity="0.8" filter="url(#blur3)"/>
<path d="M97.9 1576.6 L125 1542" stroke="#f08c9b" stroke-width="8" stroke-linecap="round" opacity="0.9" filter="url(#blur1)"/>
<path d="M54 1614.3 Q50.4 1608.3 54.7 1602.8L145.3 1487.2 Q149.6 1481.7 154.8 1486.4L169 1499.1 Q174.2 1503.8 170 1509.5L75.8 1637.7 Q71.6 1643.3 68 1637.3Z" fill="none" stroke="#9a8c8a" stroke-width="5" opacity="0.45"/>
<path d="M54 1614.3 Q50.4 1608.3 54.7 1602.8L145.3 1487.2 Q149.6 1481.7 154.8 1486.4L169 1499.1 Q174.2 1503.8 170 1509.5L75.8 1637.7 Q71.6 1643.3 68 1637.3Z" fill="none" stroke="#5c4e4c" stroke-width="2.4" opacity="0.9"/>
<path d="M157.8 1483.2 Q152.6 1478.5 157.6 1473.6L303.4 1332.4 Q308.4 1327.5 312.6 1333.2L323.3 1347.6 Q327.5 1353.2 322.5 1358.1L182.1 1495.7 Q177.1 1500.6 171.9 1495.9Z" fill="#f9c8cc"/>
<path d="M178.2,1472 L300.2,1353.1" stroke="#fde9ea" stroke-width="13" stroke-linecap="round" opacity="0.95" filter="url(#blur3)"/>
<path d="M181.3,1488.2 L315.4,1357" stroke="#f4aeb6" stroke-width="7" stroke-linecap="round" opacity="0.8" filter="url(#blur3)"/>
<path d="M164.1,1472.8 L302.1,1339" stroke="#f6bcc2" stroke-width="5" stroke-linecap="round" opacity="0.8" filter="url(#blur3)"/>
<path d="M225.6 1430.3 L257.2 1399.6" stroke="#f08c9b" stroke-width="8" stroke-linecap="round" opacity="0.9" filter="url(#blur1)"/>
<path d="M157.8 1483.2 Q152.6 1478.5 157.6 1473.6L303.4 1332.4 Q308.4 1327.5 312.6 1333.2L323.3 1347.6 Q327.5 1353.2 322.5 1358.1L182.1 1495.7 Q177.1 1500.6 171.9 1495.9Z" fill="none" stroke="#9a8c8a" stroke-width="5" opacity="0.45"/>
<path d="M157.8 1483.2 Q152.6 1478.5 157.6 1473.6L303.4 1332.4 Q308.4 1327.5 312.6 1333.2L323.3 1347.6 Q327.5 1353.2 322.5 1358.1L182.1 1495.7 Q177.1 1500.6 171.9 1495.9Z" fill="none" stroke="#5c4e4c" stroke-width="2.4" opacity="0.9"/>
<path d="M316.1 1330.6 Q311.9 1324.9 318 1321.5L497 1222.5 Q503.1 1219.1 506 1225.4L513.4 1241.8 Q516.3 1248.2 510.2 1251.6L337.1 1347.3 Q331 1350.6 326.8 1345Z" fill="#f9c8cc"/>
<path d="M338.8,1324.6 L489.1,1241.4" stroke="#fde9ea" stroke-width="13" stroke-linecap="round" opacity="0.95" filter="url(#blur3)"/>
<path d="M338,1340.2 L503.4,1248.8" stroke="#f4aeb6" stroke-width="7" stroke-linecap="round" opacity="0.8" filter="url(#blur3)"/>
<path d="M324.7,1322.2 L494.2,1228.4" stroke="#f6bcc2" stroke-width="5" stroke-linecap="round" opacity="0.8" filter="url(#blur3)"/>
<path d="M396.3 1296.4 L434.8 1275.1" stroke="#f08c9b" stroke-width="8" stroke-linecap="round" opacity="0.9" filter="url(#blur1)"/>
<path d="M316.1 1330.6 Q311.9 1324.9 318 1321.5L497 1222.5 Q503.1 1219.1 506 1225.4L513.4 1241.8 Q516.3 1248.2 510.2 1251.6L337.1 1347.3 Q331 1350.6 326.8 1345Z" fill="none" stroke="#9a8c8a" stroke-width="5" opacity="0.45"/>
<path d="M316.1 1330.6 Q311.9 1324.9 318 1321.5L497 1222.5 Q503.1 1219.1 506 1225.4L513.4 1241.8 Q516.3 1248.2 510.2 1251.6L337.1 1347.3 Q331 1350.6 326.8 1345Z" fill="none" stroke="#5c4e4c" stroke-width="2.4" opacity="0.9"/>
<path d="M510 1223.6 Q507.1 1217.2 513.6 1214.9L697.4 1148.1 Q703.9 1145.8 705.9 1152.5L710.9 1169.7 Q712.9 1176.5 706.3 1178.9L526.9 1244 Q520.3 1246.4 517.4 1240Z" fill="#f9c8cc"/>
<path d="M533,1221.4 L686.8,1165.5" stroke="#fde9ea" stroke-width="13" stroke-linecap="round" opacity="0.95" filter="url(#blur3)"/>
<path d="M529.2,1237 L700,1175" stroke="#f4aeb6" stroke-width="7" stroke-linecap="round" opacity="0.8" filter="url(#blur3)"/>
<path d="M519.9,1216.6 L693.7,1153.5" stroke="#f6bcc2" stroke-width="5" stroke-linecap="round" opacity="0.8" filter="url(#blur3)"/>
<path d="M590.4 1204 L631.7 1189" stroke="#f08c9b" stroke-width="8" stroke-linecap="round" opacity="0.9" filter="url(#blur1)"/>
<path d="M510 1223.6 Q507.1 1217.2 513.6 1214.9L697.4 1148.1 Q703.9 1145.8 705.9 1152.5L710.9 1169.7 Q712.9 1176.5 706.3 1178.9L526.9 1244 Q520.3 1246.4 517.4 1240Z" fill="none" stroke="#9a8c8a" stroke-width="5" opacity="0.45"/>
<path d="M510 1223.6 Q507.1 1217.2 513.6 1214.9L697.4 1148.1 Q703.9 1145.8 705.9 1152.5L710.9 1169.7 Q712.9 1176.5 706.3 1178.9L526.9 1244 Q520.3 1246.4 517.4 1240Z" fill="none" stroke="#5c4e4c" stroke-width="2.4" opacity="0.9"/>
<path d="M710.1 1151.2 Q708.1 1144.5 715 1143L903 1101 Q909.9 1099.5 911.5 1106.3L915.6 1123.8 Q917.2 1130.6 910.4 1132.1L723.9 1173.7 Q717.1 1175.2 715.2 1168.5Z" fill="#f9c8cc"/>
<path d="M733.2,1152 L891.3,1116.7" stroke="#fde9ea" stroke-width="13" stroke-linecap="round" opacity="0.95" filter="url(#blur3)"/>
<path d="M727.2,1167.1 L904.2,1127.6" stroke="#f4aeb6" stroke-width="7" stroke-linecap="round" opacity="0.8" filter="url(#blur3)"/>
<path d="M720.9,1145.6 L899,1105.8" stroke="#f6bcc2" stroke-width="5" stroke-linecap="round" opacity="0.8" filter="url(#blur3)"/>
<path d="M791.6 1142.3 L834.6 1132.7" stroke="#f08c9b" stroke-width="8" stroke-linecap="round" opacity="0.9" filter="url(#blur1)"/>
<path d="M710.1 1151.2 Q708.1 1144.5 715 1143L903 1101 Q909.9 1099.5 911.5 1106.3L915.6 1123.8 Q917.2 1130.6 910.4 1132.1L723.9 1173.7 Q717.1 1175.2 715.2 1168.5Z" fill="none" stroke="#9a8c8a" stroke-width="5" opacity="0.45"/>
<path d="M710.1 1151.2 Q708.1 1144.5 715 1143L903 1101 Q909.9 1099.5 911.5 1106.3L915.6 1123.8 Q917.2 1130.6 910.4 1132.1L723.9 1173.7 Q717.1 1175.2 715.2 1168.5Z" fill="none" stroke="#5c4e4c" stroke-width="2.4" opacity="0.9"/>
<path d="M915.7 1105.3 Q914.1 1098.5 920.9 1096.8L1114.1 1048.2 Q1120.9 1046.5 1122.8 1053.3L1127.8 1070.6 Q1129.7 1077.3 1122.9 1079L928.3 1127.9 Q921.5 1129.6 919.9 1122.8Z" fill="#f9c8cc"/>
<path d="M938.4,1105.6 L1103.1,1064.2" stroke="#fde9ea" stroke-width="13" stroke-linecap="round" opacity="0.95" filter="url(#blur3)"/>
<path d="M931.8,1121.1 L1116.5,1074.7" stroke="#f4aeb6" stroke-width="7" stroke-linecap="round" opacity="0.8" filter="url(#blur3)"/>
<path d="M926.7,1099.3 L1110.3,1053.2" stroke="#f6bcc2" stroke-width="5" stroke-linecap="round" opacity="0.8" filter="url(#blur3)"/>
<path d="M1000.2 1093.3 L1042.9 1082.6" stroke="#f08c9b" stroke-width="8" stroke-linecap="round" opacity="0.9" filter="url(#blur1)"/>
<path d="M915.7 1105.3 Q914.1 1098.5 920.9 1096.8L1114.1 1048.2 Q1120.9 1046.5 1122.8 1053.3L1127.8 1070.6 Q1129.7 1077.3 1122.9 1079L928.3 1127.9 Q921.5 1129.6 919.9 1122.8Z" fill="none" stroke="#9a8c8a" stroke-width="5" opacity="0.45"/>
<path d="M915.7 1105.3 Q914.1 1098.5 920.9 1096.8L1114.1 1048.2 Q1120.9 1046.5 1122.8 1053.3L1127.8 1070.6 Q1129.7 1077.3 1122.9 1079L928.3 1127.9 Q921.5 1129.6 919.9 1122.8Z" fill="none" stroke="#5c4e4c" stroke-width="2.4" opacity="0.9"/>
<path d="M1127 1052.1 Q1125.1 1045.3 1131.8 1043.2L1318.2 982.8 Q1324.9 980.7 1327.4 987.2L1334.9 1006.8 Q1337.4 1013.4 1330.7 1015.4L1140.6 1074 Q1133.9 1076.1 1132 1069.4Z" fill="#f9c8cc"/>
<path d="M1149.6,1050.9 L1309,1000.5" stroke="#fde9ea" stroke-width="13" stroke-linecap="round" opacity="0.95" filter="url(#blur3)"/>
<path d="M1143.7,1066.9 L1323.7,1011.2" stroke="#f4aeb6" stroke-width="7" stroke-linecap="round" opacity="0.8" filter="url(#blur3)"/>
<path d="M1137.6,1045.3 L1315,988.3" stroke="#f6bcc2" stroke-width="5" stroke-linecap="round" opacity="0.8" filter="url(#blur3)"/>
<path d="M1209.4 1035.6 L1251.3 1022.1" stroke="#f08c9b" stroke-width="8" stroke-linecap="round" opacity="0.9" filter="url(#blur1)"/>
<path d="M1127 1052.1 Q1125.1 1045.3 1131.8 1043.2L1318.2 982.8 Q1324.9 980.7 1327.4 987.2L1334.9 1006.8 Q1337.4 1013.4 1330.7 1015.4L1140.6 1074 Q1133.9 1076.1 1132 1069.4Z" fill="none" stroke="#9a8c8a" stroke-width="5" opacity="0.45"/>
<path d="M1127 1052.1 Q1125.1 1045.3 1131.8 1043.2L1318.2 982.8 Q1324.9 980.7 1327.4 987.2L1334.9 1006.8 Q1337.4 1013.4 1330.7 1015.4L1140.6 1074 Q1133.9 1076.1 1132 1069.4Z" fill="none" stroke="#5c4e4c" stroke-width="2.4" opacity="0.9"/>
<path d="M1331.5 985.7 Q1329 979.1 1335.4 976.3L1515.6 896.7 Q1522 893.9 1525.5 899.9L1534.5 915.5 Q1538 921.6 1531.6 924.5L1347.8 1008.9 Q1341.5 1011.8 1339 1005.3Z" fill="#f9c8cc"/>
<path d="M1354.1,983.3 L1508.3,913.9" stroke="#fde9ea" stroke-width="13" stroke-linecap="round" opacity="0.95" filter="url(#blur3)"/>
<path d="M1350.2,1001.1 L1524.1,921.5" stroke="#f4aeb6" stroke-width="7" stroke-linecap="round" opacity="0.8" filter="url(#blur3)"/>
<path d="M1341.5,978.2 L1512.9,902.1" stroke="#f6bcc2" stroke-width="5" stroke-linecap="round" opacity="0.8" filter="url(#blur3)"/>
<path d="M1412.5 960.5 L1452.7 942.7" stroke="#f08c9b" stroke-width="8" stroke-linecap="round" opacity="0.9" filter="url(#blur1)"/>
<path d="M1331.5 985.7 Q1329 979.1 1335.4 976.3L1515.6 896.7 Q1522 893.9 1525.5 899.9L1534.5 915.5 Q1538 921.6 1531.6 924.5L1347.8 1008.9 Q1341.5 1011.8 1339 1005.3Z" fill="none" stroke="#9a8c8a" stroke-width="5" opacity="0.45"/>
<path d="M1331.5 985.7 Q1329 979.1 1335.4 976.3L1515.6 896.7 Q1522 893.9 1525.5 899.9L1534.5 915.5 Q1538 921.6 1531.6 924.5L1347.8 1008.9 Q1341.5 1011.8 1339 1005.3Z" fill="none" stroke="#5c4e4c" stroke-width="2.4" opacity="0.9"/>
<path d="M1529.3 897.8 Q1525.8 891.7 1531.4 887.6L1688.6 772.4 Q1694.2 768.3 1698.5 773.8L1709.5 788.1 Q1713.7 793.7 1708.1 797.8L1547.4 915.3 Q1541.8 919.4 1538.3 913.3Z" fill="#f9c8cc"/>
<path d="M1549.9,889.8 L1684.3,791.4" stroke="#fde9ea" stroke-width="13" stroke-linecap="round" opacity="0.95" filter="url(#blur3)"/>
<path d="M1548.6,907.3 L1700.5,796.2" stroke="#f4aeb6" stroke-width="7" stroke-linecap="round" opacity="0.8" filter="url(#blur3)"/>
<path d="M1537.4,887.9 L1686.9,778.4" stroke="#f6bcc2" stroke-width="5" stroke-linecap="round" opacity="0.8" filter="url(#blur3)"/>
<path d="M1601.1 856.3 L1636.6 830.3" stroke="#f08c9b" stroke-width="8" stroke-linecap="round" opacity="0.9" filter="url(#blur1)"/>
<path d="M1529.3 897.8 Q1525.8 891.7 1531.4 887.6L1688.6 772.4 Q1694.2 768.3 1698.5 773.8L1709.5 788.1 Q1713.7 793.7 1708.1 797.8L1547.4 915.3 Q1541.8 919.4 1538.3 913.3Z" fill="none" stroke="#9a8c8a" stroke-width="5" opacity="0.45"/>
<path d="M1529.3 897.8 Q1525.8 891.7 1531.4 887.6L1688.6 772.4 Q1694.2 768.3 1698.5 773.8L1709.5 788.1 Q1713.7 793.7 1708.1 797.8L1547.4 915.3 Q1541.8 919.4 1538.3 913.3Z" fill="none" stroke="#5c4e4c" stroke-width="2.4" opacity="0.9"/>
<path d="M1702 771.2 Q1697.7 765.6 1703.2 761.2L1846.3 645.8 Q1851.8 641.4 1856.2 646.8L1868.7 662.4 Q1873.1 667.9 1867.6 672.2L1722.7 786.6 Q1717.2 791 1712.9 785.4Z" fill="#f9c8cc"/>
<path d="M1722.6,762 L1843.2,665.8" stroke="#fde9ea" stroke-width="13" stroke-linecap="round" opacity="0.95" filter="url(#blur3)"/>
<path d="M1723,778.9 L1859.9,670.6" stroke="#f4aeb6" stroke-width="7" stroke-linecap="round" opacity="0.8" filter="url(#blur3)"/>
<path d="M1709.4,761.1 L1845,652.1" stroke="#f6bcc2" stroke-width="5" stroke-linecap="round" opacity="0.8" filter="url(#blur3)"/>
<path d="M1767.8 730.3 L1802.1 702.7" stroke="#f08c9b" stroke-width="8" stroke-linecap="round" opacity="0.9" filter="url(#blur1)"/>
<path d="M1702 771.2 Q1697.7 765.6 1703.2 761.2L1846.3 645.8 Q1851.8 641.4 1856.2 646.8L1868.7 662.4 Q1873.1 667.9 1867.6 672.2L1722.7 786.6 Q1717.2 791 1712.9 785.4Z" fill="none" stroke="#9a8c8a" stroke-width="5" opacity="0.45"/>
<path d="M1702 771.2 Q1697.7 765.6 1703.2 761.2L1846.3 645.8 Q1851.8 641.4 1856.2 646.8L1868.7 662.4 Q1873.1 667.9 1867.6 672.2L1722.7 786.6 Q1717.2 791 1712.9 785.4Z" fill="none" stroke="#5c4e4c" stroke-width="2.4" opacity="0.9"/>
<path d="M1859.6 644.1 Q1855.2 638.6 1860.7 634.2L2002.8 519.8 Q2008.3 515.4 2012.7 520.8L2025.2 536.4 Q2029.6 541.9 2024.2 546.3L1882 660.7 Q1876.5 665.1 1872.2 659.6Z" fill="#f9c8cc"/>
<path d="M1880.9,635.4 L1999.7,539.8" stroke="#fde9ea" stroke-width="13" stroke-linecap="round" opacity="0.95" filter="url(#blur3)"/>
<path d="M1882.1,652.8 L2016.4,544.6" stroke="#f4aeb6" stroke-width="7" stroke-linecap="round" opacity="0.8" filter="url(#blur3)"/>
<path d="M1867.1,634.3 L2001.5,526.1" stroke="#f6bcc2" stroke-width="5" stroke-linecap="round" opacity="0.8" filter="url(#blur3)"/>
<path d="M1925.3 604 L1959.5 576.4" stroke="#f08c9b" stroke-width="8" stroke-linecap="round" opacity="0.9" filter="url(#blur1)"/>
<path d="M1859.6 644.1 Q1855.2 638.6 1860.7 634.2L2002.8 519.8 Q2008.3 515.4 2012.7 520.8L2025.2 536.4 Q2029.6 541.9 2024.2 546.3L1882 660.7 Q1876.5 665.1 1872.2 659.6Z" fill="none" stroke="#9a8c8a" stroke-width="5" opacity="0.45"/>
<path d="M1859.6 644.1 Q1855.2 638.6 1860.7 634.2L2002.8 519.8 Q2008.3 515.4 2012.7 520.8L2025.2 536.4 Q2029.6 541.9 2024.2 546.3L1882 660.7 Q1876.5 665.1 1872.2 659.6Z" fill="none" stroke="#5c4e4c" stroke-width="2.4" opacity="0.9"/>
<path d="M199.6 1854.2 Q203.2 1860.2 207 1854.3L299 1713.7 Q302.8 1707.8 297.5 1703.3L281.5 1689.6 Q276.2 1685.1 272.3 1690.9L185.8 1819.3 Q181.9 1825.1 185.6 1831.1Z" fill="#f9c8cc"/>
<path d="M206.7,1827.7 L280.1,1717.1" stroke="#fde9ea" stroke-width="13" stroke-linecap="round" opacity="0.95" filter="url(#blur3)"/>
<path d="M192.3,1821.4 L274.4,1699.2" stroke="#f4aeb6" stroke-width="7" stroke-linecap="round" opacity="0.8" filter="url(#blur3)"/>
<path d="M207.2,1845.9 L293,1715.2" stroke="#f6bcc2" stroke-width="5" stroke-linecap="round" opacity="0.8" filter="url(#blur3)"/>
<path d="M229 1788 L253.1 1751.1" stroke="#f08c9b" stroke-width="8" stroke-linecap="round" opacity="0.9" filter="url(#blur1)"/>
<path d="M199.6 1854.2 Q203.2 1860.2 207 1854.3L299 1713.7 Q302.8 1707.8 297.5 1703.3L281.5 1689.6 Q276.2 1685.1 272.3 1690.9L185.8 1819.3 Q181.9 1825.1 185.6 1831.1Z" fill="none" stroke="#9a8c8a" stroke-width="5" opacity="0.45"/>
<path d="M199.6 1854.2 Q203.2 1860.2 207 1854.3L299 1713.7 Q302.8 1707.8 297.5 1703.3L281.5 1689.6 Q276.2 1685.1 272.3 1690.9L185.8 1819.3 Q181.9 1825.1 185.6 1831.1Z" fill="none" stroke="#5c4e4c" stroke-width="2.4" opacity="0.9"/>
<path d="M300.3 1700 Q305.6 1704.5 310.8 1699.8L456.2 1569.2 Q461.4 1564.5 457.3 1558.8L446.5 1543.7 Q442.5 1538 437.2 1542.6L284.3 1677.1 Q279.1 1681.7 284.4 1686.3Z" fill="#f9c8cc"/>
<path d="M311.4,1680.7 L437.5,1568.6" stroke="#fde9ea" stroke-width="13" stroke-linecap="round" opacity="0.95" filter="url(#blur3)"/>
<path d="M292.8,1677.8 L437,1550.8" stroke="#f4aeb6" stroke-width="7" stroke-linecap="round" opacity="0.8" filter="url(#blur3)"/>
<path d="M311.4,1693.8 L450.2,1569.3" stroke="#f6bcc2" stroke-width="5" stroke-linecap="round" opacity="0.8" filter="url(#blur3)"/>
<path d="M355.8 1636.9 L388.5 1607.5" stroke="#f08c9b" stroke-width="8" stroke-linecap="round" opacity="0.9" filter="url(#blur1)"/>
<path d="M300.3 1700 Q305.6 1704.5 310.8 1699.8L456.2 1569.2 Q461.4 1564.5 457.3 1558.8L446.5 1543.7 Q442.5 1538 437.2 1542.6L284.3 1677.1 Q279.1 1681.7 284.4 1686.3Z" fill="none" stroke="#9a8c8a" stroke-width="5" opacity="0.45"/>
<path d="M300.3 1700 Q305.6 1704.5 310.8 1699.8L456.2 1569.2 Q461.4 1564.5 457.3 1558.8L446.5 1543.7 Q442.5 1538 437.2 1542.6L284.3 1677.1 Q279.1 1681.7 284.4 1686.3Z" fill="none" stroke="#5c4e4c" stroke-width="2.4" opacity="0.9"/>
<path d="M460.9 1556.2 Q464.9 1561.9 471 1558.5L640 1464.5 Q646.1 1461.1 643.1 1454.8L635.1 1438.1 Q632.1 1431.7 626 1435.2L452.1 1532.1 Q446 1535.5 450.1 1541.2Z" fill="#f9c8cc"/>
<path d="M476.6,1540.6 L621.3,1460" stroke="#fde9ea" stroke-width="13" stroke-linecap="round" opacity="0.95" filter="url(#blur3)"/>
<path d="M459.9,1534.4 L624.1,1442.9" stroke="#f4aeb6" stroke-width="7" stroke-linecap="round" opacity="0.8" filter="url(#blur3)"/>
<path d="M473.1,1552.9 L633.9,1463.4" stroke="#f6bcc2" stroke-width="5" stroke-linecap="round" opacity="0.8" filter="url(#blur3)"/>
<path d="M528.1 1508.3 L566.5 1486.9" stroke="#f08c9b" stroke-width="8" stroke-linecap="round" opacity="0.9" filter="url(#blur1)"/>
<path d="M460.9 1556.2 Q464.9 1561.9 471 1558.5L640 1464.5 Q646.1 1461.1 643.1 1454.8L635.1 1438.1 Q632.1 1431.7 626 1435.2L452.1 1532.1 Q446 1535.5 450.1 1541.2Z" fill="none" stroke="#9a8c8a" stroke-width="5" opacity="0.45"/>
<path d="M460.9 1556.2 Q464.9 1561.9 471 1558.5L640 1464.5 Q646.1 1461.1 643.1 1454.8L635.1 1438.1 Q632.1 1431.7 626 1435.2L452.1 1532.1 Q446 1535.5 450.1 1541.2Z" fill="none" stroke="#5c4e4c" stroke-width="2.4" opacity="0.9"/>
<path d="M647 1452.9 Q650 1459.2 656.5 1456.6L840.5 1382.4 Q847 1379.8 845 1373.1L839.7 1355.4 Q837.7 1348.7 831.3 1351.3L642.5 1427.2 Q636 1429.9 639.1 1436.2Z" fill="#f9c8cc"/>
<path d="M664.8,1439.2 L822.9,1375.6" stroke="#fde9ea" stroke-width="13" stroke-linecap="round" opacity="0.95" filter="url(#blur3)"/>
<path d="M649.7,1430.6 L828.3,1358.8" stroke="#f4aeb6" stroke-width="7" stroke-linecap="round" opacity="0.8" filter="url(#blur3)"/>
<path d="M659.5,1451.2 L834.7,1380.6" stroke="#f6bcc2" stroke-width="5" stroke-linecap="round" opacity="0.8" filter="url(#blur3)"/>
<path d="M722.3 1412.6 L763.1 1396.2" stroke="#f08c9b" stroke-width="8" stroke-linecap="round" opacity="0.9" filter="url(#blur1)"/>
<path d="M647 1452.9 Q650 1459.2 656.5 1456.6L840.5 1382.4 Q847 1379.8 845 1373.1L839.7 1355.4 Q837.7 1348.7 831.3 1351.3L642.5 1427.2 Q636 1429.9 639.1 1436.2Z" fill="none" stroke="#9a8c8a" stroke-width="5" opacity="0.45"/>
<path d="M647 1452.9 Q650 1459.2 656.5 1456.6L840.5 1382.4 Q847 1379.8 845 1373.1L839.7 1355.4 Q837.7 1348.7 831.3 1351.3L642.5 1427.2 Q636 1429.9 639.1 1436.2Z" fill="none" stroke="#5c4e4c" stroke-width="2.4" opacity="0.9"/>
<path d="M849.2 1371.9 Q851.2 1378.6 858 1377.2L1046 1340.8 Q1052.8 1339.4 1051.4 1332.6L1047.6 1314.5 Q1046.1 1307.6 1039.3 1309L848.8 1346.1 Q841.9 1347.4 843.9 1354.1Z" fill="#f9c8cc"/>
<path d="M869.1,1361.9 L1028.6,1330.9" stroke="#fde9ea" stroke-width="13" stroke-linecap="round" opacity="0.95" filter="url(#blur3)"/>
<path d="M855.4,1350.7 L1035.6,1315.6" stroke="#f4aeb6" stroke-width="7" stroke-linecap="round" opacity="0.8" filter="url(#blur3)"/>
<path d="M861.8,1372.6 L1040.3,1337.9" stroke="#f6bcc2" stroke-width="5" stroke-linecap="round" opacity="0.8" filter="url(#blur3)"/>
<path d="M926.4 1347.5 L969.6 1339.1" stroke="#f08c9b" stroke-width="8" stroke-linecap="round" opacity="0.9" filter="url(#blur1)"/>
<path d="M849.2 1371.9 Q851.2 1378.6 858 1377.2L1046 1340.8 Q1052.8 1339.4 1051.4 1332.6L1047.6 1314.5 Q1046.1 1307.6 1039.3 1309L848.8 1346.1 Q841.9 1347.4 843.9 1354.1Z" fill="none" stroke="#9a8c8a" stroke-width="5" opacity="0.45"/>
<path d="M849.2 1371.9 Q851.2 1378.6 858 1377.2L1046 1340.8 Q1052.8 1339.4 1051.4 1332.6L1047.6 1314.5 Q1046.1 1307.6 1039.3 1309L848.8 1346.1 Q841.9 1347.4 843.9 1354.1Z" fill="none" stroke="#5c4e4c" stroke-width="2.4" opacity="0.9"/>
<path d="M1055.7 1331.7 Q1057.1 1338.5 1064 1337L1257 1293 Q1263.9 1291.5 1262 1284.7L1257 1266.9 Q1255.1 1260.2 1248.2 1261.8L1057.3 1305.2 Q1050.4 1306.7 1051.9 1313.6Z" fill="#f9c8cc"/>
<path d="M1075.9,1320.9 L1238.9,1283.9" stroke="#fde9ea" stroke-width="13" stroke-linecap="round" opacity="0.95" filter="url(#blur3)"/>
<path d="M1063.3,1309.8 L1244.9,1268.5" stroke="#f4aeb6" stroke-width="7" stroke-linecap="round" opacity="0.8" filter="url(#blur3)"/>
<path d="M1068,1332 L1251.1,1290.4" stroke="#f6bcc2" stroke-width="5" stroke-linecap="round" opacity="0.8" filter="url(#blur3)"/>
<path d="M1135.2 1304.1 L1178.1 1294.3" stroke="#f08c9b" stroke-width="8" stroke-linecap="round" opacity="0.9" filter="url(#blur1)"/>
<path d="M1055.7 1331.7 Q1057.1 1338.5 1064 1337L1257 1293 Q1263.9 1291.5 1262 1284.7L1257 1266.9 Q1255.1 1260.2 1248.2 1261.8L1057.3 1305.2 Q1050.4 1306.7 1051.9 1313.6Z" fill="none" stroke="#9a8c8a" stroke-width="5" opacity="0.45"/>
<path d="M1055.7 1331.7 Q1057.1 1338.5 1064 1337L1257 1293 Q1263.9 1291.5 1262 1284.7L1257 1266.9 Q1255.1 1260.2 1248.2 1261.8L1057.3 1305.2 Q1050.4 1306.7 1051.9 1313.6Z" fill="none" stroke="#5c4e4c" stroke-width="2.4" opacity="0.9"/>
<path d="M1266.2 1283.6 Q1268.1 1290.3 1274.7 1288.1L1462.3 1224.9 Q1468.9 1222.7 1466.3 1216.2L1459.3 1199.1 Q1456.7 1192.6 1450.1 1194.8L1265.9 1256.8 Q1259.3 1259 1261.2 1265.8Z" fill="#f9c8cc"/>
<path d="M1285.4,1270.8 L1443.2,1217.7" stroke="#fde9ea" stroke-width="13" stroke-linecap="round" opacity="0.95" filter="url(#blur3)"/>
<path d="M1272.2,1260.8 L1447.5,1201.8" stroke="#f4aeb6" stroke-width="7" stroke-linecap="round" opacity="0.8" filter="url(#blur3)"/>
<path d="M1278.4,1282.7 L1456.1,1222.9" stroke="#f6bcc2" stroke-width="5" stroke-linecap="round" opacity="0.8" filter="url(#blur3)"/>
<path d="M1342.4 1248.2 L1384.1 1234.1" stroke="#f08c9b" stroke-width="8" stroke-linecap="round" opacity="0.9" filter="url(#blur1)"/>
<path d="M1266.2 1283.6 Q1268.1 1290.3 1274.7 1288.1L1462.3 1224.9 Q1468.9 1222.7 1466.3 1216.2L1459.3 1199.1 Q1456.7 1192.6 1450.1 1194.8L1265.9 1256.8 Q1259.3 1259 1261.2 1265.8Z" fill="none" stroke="#9a8c8a" stroke-width="5" opacity="0.45"/>
<path d="M1266.2 1283.6 Q1268.1 1290.3 1274.7 1288.1L1462.3 1224.9 Q1468.9 1222.7 1466.3 1216.2L1459.3 1199.1 Q1456.7 1192.6 1450.1 1194.8L1265.9 1256.8 Q1259.3 1259 1261.2 1265.8Z" fill="none" stroke="#5c4e4c" stroke-width="2.4" opacity="0.9"/>
<path d="M1470.4 1214.6 Q1473 1221 1479.3 1218L1654.7 1134 Q1661 1131 1657.5 1124.9L1648.2 1108.9 Q1644.6 1102.9 1638.3 1105.9L1467.1 1187.9 Q1460.8 1190.9 1463.4 1197.4Z" fill="#f9c8cc"/>
<path d="M1487.9,1199.5 L1634.6,1129.2" stroke="#fde9ea" stroke-width="13" stroke-linecap="round" opacity="0.95" filter="url(#blur3)"/>
<path d="M1473.8,1191.2 L1636.8,1113.1" stroke="#f4aeb6" stroke-width="7" stroke-linecap="round" opacity="0.8" filter="url(#blur3)"/>
<path d="M1482.3,1212.3 L1648.2,1132.8" stroke="#f6bcc2" stroke-width="5" stroke-linecap="round" opacity="0.8" filter="url(#blur3)"/>
<path d="M1540 1171 L1579.7 1151.9" stroke="#f08c9b" stroke-width="8" stroke-linecap="round" opacity="0.9" filter="url(#blur1)"/>
<path d="M1470.4 1214.6 Q1473 1221 1479.3 1218L1654.7 1134 Q1661 1131 1657.5 1124.9L1648.2 1108.9 Q1644.6 1102.9 1638.3 1105.9L1467.1 1187.9 Q1460.8 1190.9 1463.4 1197.4Z" fill="none" stroke="#9a8c8a" stroke-width="5" opacity="0.45"/>
<path d="M1470.4 1214.6 Q1473 1221 1479.3 1218L1654.7 1134 Q1661 1131 1657.5 1124.9L1648.2 1108.9 Q1644.6 1102.9 1638.3 1105.9L1467.1 1187.9 Q1460.8 1190.9 1463.4 1197.4Z" fill="none" stroke="#5c4e4c" stroke-width="2.4" opacity="0.9"/>
<path d="M1661.3 1122.7 Q1664.8 1128.7 1670.5 1124.7L1830.5 1013.3 Q1836.2 1009.3 1832.1 1003.6L1821.3 988.6 Q1817.2 982.9 1811.4 986.9L1654.2 1096.7 Q1648.4 1100.7 1652 1106.7Z" fill="#f9c8cc"/>
<path d="M1676.3,1104.9 L1810.5,1011.3" stroke="#fde9ea" stroke-width="13" stroke-linecap="round" opacity="0.95" filter="url(#blur3)"/>
<path d="M1661.2,1098.9 L1810.7,994.5" stroke="#f4aeb6" stroke-width="7" stroke-linecap="round" opacity="0.8" filter="url(#blur3)"/>
<path d="M1672.7,1118.5 L1824.1,1013" stroke="#f6bcc2" stroke-width="5" stroke-linecap="round" opacity="0.8" filter="url(#blur3)"/>
<path d="M1723.6 1068 L1759.7 1042.8" stroke="#f08c9b" stroke-width="8" stroke-linecap="round" opacity="0.9" filter="url(#blur1)"/>
<path d="M1661.3 1122.7 Q1664.8 1128.7 1670.5 1124.7L1830.5 1013.3 Q1836.2 1009.3 1832.1 1003.6L1821.3 988.6 Q1817.2 982.9 1811.4 986.9L1654.2 1096.7 Q1648.4 1100.7 1652 1106.7Z" fill="none" stroke="#9a8c8a" stroke-width="5" opacity="0.45"/>
<path d="M1661.3 1122.7 Q1664.8 1128.7 1670.5 1124.7L1830.5 1013.3 Q1836.2 1009.3 1832.1 1003.6L1821.3 988.6 Q1817.2 982.9 1811.4 986.9L1654.2 1096.7 Q1648.4 1100.7 1652 1106.7Z" fill="none" stroke="#5c4e4c" stroke-width="2.4" opacity="0.9"/>
<path d="M1835.7 1001 Q1839.8 1006.7 1845.4 1002.5L2001.6 885.5 Q2007.2 881.3 2003 875.7L1992 860.9 Q1987.8 855.3 1982.2 859.5L1826.3 976.1 Q1820.7 980.3 1824.8 986Z" fill="#f9c8cc"/>
<path d="M1849.8,983 L1981.8,884.1" stroke="#fde9ea" stroke-width="13" stroke-linecap="round" opacity="0.95" filter="url(#blur3)"/>
<path d="M1833.8,977.9 L1981.7,867.2" stroke="#f4aeb6" stroke-width="7" stroke-linecap="round" opacity="0.8" filter="url(#blur3)"/>
<path d="M1847.1,996.3 L1995.3,885.4" stroke="#f6bcc2" stroke-width="5" stroke-linecap="round" opacity="0.8" filter="url(#blur3)"/>
<path d="M1896.3 944.1 L1931.5 917.7" stroke="#f08c9b" stroke-width="8" stroke-linecap="round" opacity="0.9" filter="url(#blur1)"/>
<path d="M1835.7 1001 Q1839.8 1006.7 1845.4 1002.5L2001.6 885.5 Q2007.2 881.3 2003 875.7L1992 860.9 Q1987.8 855.3 1982.2 859.5L1826.3 976.1 Q1820.7 980.3 1824.8 986Z" fill="none" stroke="#9a8c8a" stroke-width="5" opacity="0.45"/>
<path d="M1835.7 1001 Q1839.8 1006.7 1845.4 1002.5L2001.6 885.5 Q2007.2 881.3 2003 875.7L1992 860.9 Q1987.8 855.3 1982.2 859.5L1826.3 976.1 Q1820.7 980.3 1824.8 986Z" fill="none" stroke="#5c4e4c" stroke-width="2.4" opacity="0.9"/>
<path d="M2006.6 873.1 Q2010.8 878.7 2016.4 874.5L2112.6 802.5 Q2118.2 798.3 2114 792.7L2103 777.9 Q2098.8 772.3 2093.2 776.5L1996.9 848.5 Q1991.3 852.7 1995.5 858.3Z" fill="#f9c8cc"/>
<path d="M2020.6,855.1 L2092.8,801.1" stroke="#fde9ea" stroke-width="13" stroke-linecap="round" opacity="0.95" filter="url(#blur3)"/>
<path d="M2004.4,850.2 L2092.7,784.2" stroke="#f4aeb6" stroke-width="7" stroke-linecap="round" opacity="0.8" filter="url(#blur3)"/>
<path d="M2018,868.4 L2106.3,802.4" stroke="#f6bcc2" stroke-width="5" stroke-linecap="round" opacity="0.8" filter="url(#blur3)"/>
<path d="M2037.1 838.7 L2072.4 812.3" stroke="#f08c9b" stroke-width="8" stroke-linecap="round" opacity="0.9" filter="url(#blur1)"/>
<path d="M2006.6 873.1 Q2010.8 878.7 2016.4 874.5L2112.6 802.5 Q2118.2 798.3 2114 792.7L2103 777.9 Q2098.8 772.3 2093.2 776.5L1996.9 848.5 Q1991.3 852.7 1995.5 858.3Z" fill="none" stroke="#9a8c8a" stroke-width="5" opacity="0.45"/>
<path d="M2006.6 873.1 Q2010.8 878.7 2016.4 874.5L2112.6 802.5 Q2118.2 798.3 2114 792.7L2103 777.9 Q2098.8 772.3 2093.2 776.5L1996.9 848.5 Q1991.3 852.7 1995.5 858.3Z" fill="none" stroke="#5c4e4c" stroke-width="2.4" opacity="0.9"/>
<path d="M70.3,1645 L180.7,1827" stroke="#ff7a66" stroke-width="3" opacity="0.7"/>
</g>
<path d="M858.5 688.5 L780.8 731.5" stroke="#e79b00" stroke-width="22.2"/>
<path d="M858.5 688.5 L780.8 731.5 L850 766.9 Z" fill="#e79b00"/>
<path d="M858.5 688.5 L926.9 720.8" stroke="#e79b00" stroke-width="21.5"/>
<path d="M858.5 688.5 L850 766.9" stroke="#e79b00" stroke-width="21.9"/>
<path d="M780.8 731.5 L710.4 781.5" stroke="#e79b00" stroke-width="21.7"/>
<path d="M780.8 731.5 L710.4 781.5 L781.5 810.4 Z" fill="#e79b00"/>
<path d="M780.8 731.5 L850 766.9" stroke="#e79b00" stroke-width="21.5"/>
<path d="M780.8 731.5 L850 766.9 L781.5 810.4 Z" fill="#e79b00"/>
<path d="M780.8 731.5 L781.5 810.4" stroke="#e79b00" stroke-width="21.7"/>
<path d="M926.9 720.8 L993.1 748.8" stroke="#e79b00" stroke-width="19.7"/>
<path d="M926.9 720.8 L993.1 748.8 L926.9 795 Z" fill="#e79b00"/>
<path d="M926.9 720.8 L926.9 795" stroke="#e79b00" stroke-width="21.3"/>
<path d="M993.1 748.8 L926.9 795" stroke="#e79b00" stroke-width="20.6"/>
<path d="M993.1 748.8 L926.9 795 L1002.7 820 Z" fill="#e79b00"/>
<path d="M993.1 748.8 L1002.7 820" stroke="#e79b00" stroke-width="19.8"/>
<path d="M710.4 781.5 L781.5 810.4" stroke="#e79b00" stroke-width="21.6"/>
<path d="M710.4 781.5 L781.5 810.4 L708.5 854.6 Z" fill="#e79b00"/>
<path d="M710.4 781.5 L641.2 823.8" stroke="#e79b00" stroke-width="20.8"/>
<path d="M710.4 781.5 L641.2 823.8 L708.5 854.6 Z" fill="#e79b00"/>
<path d="M710.4 781.5 L708.5 854.6" stroke="#e79b00" stroke-width="21.4"/>
<path d="M850 766.9 L781.5 810.4" stroke="#e79b00" stroke-width="21.4"/>
<path d="M850 766.9 L781.5 810.4 L863.1 845.8 Z" fill="#e79b00"/>
<path d="M850 766.9 L926.9 795" stroke="#e79b00" stroke-width="21.7"/>
<path d="M850 766.9 L926.9 795 L863.1 845.8 Z" fill="#e79b00"/>
<path d="M850 766.9 L863.1 845.8" stroke="#e79b00" stroke-width="21.2"/>
<path d="M781.5 810.4 L708.5 854.6" stroke="#e79b00" stroke-width="21.4"/>
<path d="M781.5 810.4 L708.5 854.6 L789.2 895 Z" fill="#e79b00"/>
<path d="M781.5 810.4 L863.1 845.8" stroke="#e79b00" stroke-width="21.4"/>
<path d="M781.5 810.4 L863.1 845.8 L789.2 895 Z" fill="#e79b00"/>
<path d="M781.5 810.4 L789.2 895" stroke="#e79b00" stroke-width="23"/>
<path d="M926.9 795 L1002.7 820" stroke="#e79b00" stroke-width="21.4"/>
<path d="M926.9 795 L1002.7 820 L938.5 866.9 Z" fill="#e79b00"/>
<path d="M926.9 795 L863.1 845.8" stroke="#e79b00" stroke-width="21.7"/>
<path d="M926.9 795 L863.1 845.8 L938.5 866.9 Z" fill="#e79b00"/>
<path d="M926.9 795 L938.5 866.9" stroke="#e79b00" stroke-width="20.8"/>
<path d="M1002.7 820 L938.5 866.9" stroke="#e79b00" stroke-width="20"/>
<path d="M1002.7 820 L938.5 866.9 L1012.3 896.9 Z" fill="#e79b00"/>
<path d="M1002.7 820 L1012.3 896.9" stroke="#e79b00" stroke-width="21"/>
<path d="M641.2 823.8 L708.5 854.6" stroke="#e79b00" stroke-width="20.6"/>
<path d="M641.2 823.8 L708.5 854.6 L637.3 896.9 Z" fill="#e79b00"/>
<path d="M641.2 823.8 L568.1 856.5" stroke="#e79b00" stroke-width="20.7"/>
<path d="M641.2 823.8 L568.1 856.5 L637.3 896.9 Z" fill="#e79b00"/>
<path d="M641.2 823.8 L637.3 896.9" stroke="#e79b00" stroke-width="20.8"/>
<path d="M708.5 854.6 L637.3 896.9" stroke="#e79b00" stroke-width="21.4"/>
<path d="M708.5 854.6 L637.3 896.9 L712.3 932.3 Z" fill="#e79b00"/>
<path d="M708.5 854.6 L789.2 895" stroke="#e79b00" stroke-width="22.7"/>
<path d="M708.5 854.6 L789.2 895 L712.3 932.3 Z" fill="#e79b00"/>
<path d="M708.5 854.6 L712.3 932.3" stroke="#e79b00" stroke-width="22.5"/>
<path d="M863.1 845.8 L938.5 866.9" stroke="#e79b00" stroke-width="20.3"/>
<path d="M863.1 845.8 L938.5 866.9 L871.9 924.6 Z" fill="#e79b00"/>
<path d="M863.1 845.8 L789.2 895" stroke="#e79b00" stroke-width="22.7"/>
<path d="M863.1 845.8 L789.2 895 L871.9 924.6 Z" fill="#e79b00"/>
<path d="M863.1 845.8 L871.9 924.6" stroke="#e79b00" stroke-width="22.7"/>
<path d="M938.5 866.9 L1012.3 896.9" stroke="#e79b00" stroke-width="20.5"/>
<path d="M938.5 866.9 L1012.3 896.9 L945 953.8 Z" fill="#e79b00"/>
<path d="M938.5 866.9 L871.9 924.6" stroke="#e79b00" stroke-width="21.9"/>
<path d="M938.5 866.9 L871.9 924.6 L945 953.8 Z" fill="#e79b00"/>
<path d="M938.5 866.9 L945 953.8" stroke="#e79b00" stroke-width="21.8"/>
<path d="M1012.3 896.9 L945 953.8" stroke="#e79b00" stroke-width="22.8"/>
<path d="M568.1 856.5 L637.3 896.9" stroke="#e79b00" stroke-width="21.5"/>
<path d="M568.1 856.5 L637.3 896.9 L562.3 937.3 Z" fill="#e79b00"/>
<path d="M568.1 856.5 L495 893.1" stroke="#e79b00" stroke-width="21.5"/>
<path d="M568.1 856.5 L495 893.1 L562.3 937.3 Z" fill="#e79b00"/>
<path d="M568.1 856.5 L562.3 937.3" stroke="#e79b00" stroke-width="21.7"/>
<path d="M637.3 896.9 L562.3 937.3" stroke="#e79b00" stroke-width="21.8"/>
<path d="M637.3 896.9 L562.3 937.3 L633.5 975.8 Z" fill="#e79b00"/>
<path d="M637.3 896.9 L633.5 975.8" stroke="#e79b00" stroke-width="21.6"/>
<path d="M637.3 896.9 L633.5 975.8 L712.3 932.3 Z" fill="#e79b00"/>
<path d="M637.3 896.9 L712.3 932.3" stroke="#e79b00" stroke-width="22.7"/>
<path d="M495 893.1 L562.3 937.3" stroke="#e79b00" stroke-width="21.8"/>
<path d="M495 893.1 L562.3 937.3 L488.5 977.7 Z" fill="#e79b00"/>
<path d="M495 893.1 L488.5 977.7" stroke="#e79b00" stroke-width="21.9"/>
<path d="M562.3 937.3 L633.5 975.8" stroke="#e79b00" stroke-width="21.8"/>
<path d="M562.3 937.3 L633.5 975.8 L559.2 1016.2 Z" fill="#e79b00"/>
<path d="M562.3 937.3 L488.5 977.7" stroke="#e79b00" stroke-width="22.1"/>
<path d="M562.3 937.3 L488.5 977.7 L559.2 1016.2 Z" fill="#e79b00"/>
<path d="M562.3 937.3 L559.2 1016.2" stroke="#e79b00" stroke-width="21.7"/>
<path d="M633.5 975.8 L559.2 1016.2" stroke="#e79b00" stroke-width="21.5"/>
<path d="M633.5 975.8 L559.2 1016.2 L629.6 1058.5 Z" fill="#e79b00"/>
<path d="M633.5 975.8 L712.3 932.3" stroke="#e79b00" stroke-width="22.7"/>
<path d="M633.5 975.8 L712.3 932.3 L714.2 1004.6 Z" fill="#e79b00"/>
<path d="M633.5 975.8 L714.2 1004.6" stroke="#e79b00" stroke-width="22.3"/>
<path d="M633.5 975.8 L714.2 1004.6 L629.6 1058.5 Z" fill="#e79b00"/>
<path d="M633.5 975.8 L629.6 1058.5" stroke="#e79b00" stroke-width="22.8"/>
<path d="M488.5 977.7 L559.2 1016.2" stroke="#e79b00" stroke-width="21.8"/>
<path d="M488.5 977.7 L559.2 1016.2 L485.4 1052.7 Z" fill="#e79b00"/>
<path d="M488.5 977.7 L485.4 1052.7" stroke="#e79b00" stroke-width="21.4"/>
<path d="M559.2 1016.2 L485.4 1052.7" stroke="#e79b00" stroke-width="20.9"/>
<path d="M559.2 1016.2 L485.4 1052.7 L548.8 1095 Z" fill="#e79b00"/>
<path d="M559.2 1016.2 L548.8 1095" stroke="#e79b00" stroke-width="21.6"/>
<path d="M559.2 1016.2 L548.8 1095 L629.6 1058.5 Z" fill="#e79b00"/>
<path d="M559.2 1016.2 L629.6 1058.5" stroke="#e79b00" stroke-width="22.7"/>
<path d="M485.4 1052.7 L548.8 1095" stroke="#e79b00" stroke-width="21.2"/>
<path d="M548.8 1095 L629.6 1058.5" stroke="#e79b00" stroke-width="22.9"/>
<path d="M789.2 895 L712.3 932.3" stroke="#e79b00" stroke-width="24.1"/>
<path d="M789.2 895 L712.3 932.3 L796.2 974.6 Z" fill="#e79b00"/>
<path d="M789.2 895 L871.9 924.6" stroke="#e79b00" stroke-width="24.3"/>
<path d="M789.2 895 L871.9 924.6 L796.2 974.6 Z" fill="#e79b00"/>
<path d="M789.2 895 L796.2 974.6" stroke="#e79b00" stroke-width="24"/>
<path d="M712.3 932.3 L796.2 974.6" stroke="#e79b00" stroke-width="23.8"/>
<path d="M712.3 932.3 L796.2 974.6 L714.2 1004.6 Z" fill="#e79b00"/>
<path d="M712.3 932.3 L714.2 1004.6" stroke="#e79b00" stroke-width="23.5"/>
<path d="M871.9 924.6 L945 953.8" stroke="#e79b00" stroke-width="24.2"/>
<path d="M871.9 924.6 L945 953.8 L870.8 1016.2 Z" fill="#e79b00"/>
<path d="M871.9 924.6 L796.2 974.6" stroke="#e79b00" stroke-width="24"/>
<path d="M871.9 924.6 L796.2 974.6 L870.8 1016.2 Z" fill="#e79b00"/>
<path d="M871.9 924.6 L870.8 1016.2" stroke="#e79b00" stroke-width="24.1"/>
<path d="M945 953.8 L870.8 1016.2" stroke="#e79b00" stroke-width="24"/>
<path d="M796.2 974.6 L714.2 1004.6" stroke="#e79b00" stroke-width="23.4"/>
<path d="M796.2 974.6 L714.2 1004.6 L783.5 1059.2 Z" fill="#e79b00"/>
<path d="M796.2 974.6 L870.8 1016.2" stroke="#e79b00" stroke-width="23.8"/>
<path d="M796.2 974.6 L870.8 1016.2 L783.5 1059.2 Z" fill="#e79b00"/>
<path d="M796.2 974.6 L783.5 1059.2" stroke="#e79b00" stroke-width="23.5"/>
<path d="M714.2 1004.6 L629.6 1058.5" stroke="#e79b00" stroke-width="23.5"/>
<path d="M714.2 1004.6 L629.6 1058.5 L706.5 1092.3 Z" fill="#e79b00"/>
<path d="M714.2 1004.6 L783.5 1059.2" stroke="#e79b00" stroke-width="23.2"/>
<path d="M714.2 1004.6 L783.5 1059.2 L706.5 1092.3 Z" fill="#e79b00"/>
<path d="M714.2 1004.6 L706.5 1092.3" stroke="#e79b00" stroke-width="23.5"/>
<path d="M870.8 1016.2 L783.5 1059.2" stroke="#e79b00" stroke-width="23.6"/>
<path d="M870.8 1016.2 L783.5 1059.2 L858.5 1095.4 Z" fill="#e79b00"/>
<path d="M870.8 1016.2 L858.5 1095.4" stroke="#e79b00" stroke-width="23.9"/>
<path d="M629.6 1058.5 L706.5 1092.3" stroke="#e79b00" stroke-width="24"/>
<path d="M783.5 1059.2 L706.5 1092.3" stroke="#e79b00" stroke-width="23.6"/>
<path d="M783.5 1059.2 L858.5 1095.4" stroke="#e79b00" stroke-width="23.6"/>
<path d="M789.2 895 L712.3 932.3" stroke="#c25e08" stroke-width="24.1"/>
<path d="M789.2 895 L712.3 932.3 L796.2 974.6 Z" fill="#c25e08"/>
<path d="M789.2 895 L871.9 924.6" stroke="#c25e08" stroke-width="24.3"/>
<path d="M789.2 895 L871.9 924.6 L796.2 974.6 Z" fill="#c25e08"/>
<path d="M789.2 895 L796.2 974.6" stroke="#c25e08" stroke-width="24"/>
<path d="M712.3 932.3 L796.2 974.6" stroke="#c25e08" stroke-width="23.8"/>
<path d="M712.3 932.3 L796.2 974.6 L714.2 1004.6 Z" fill="#c25e08"/>
<path d="M712.3 932.3 L714.2 1004.6" stroke="#c25e08" stroke-width="23.5"/>
<path d="M871.9 924.6 L945 953.8" stroke="#c25e08" stroke-width="24.2"/>
<path d="M871.9 924.6 L945 953.8 L870.8 1016.2 Z" fill="#c25e08"/>
<path d="M871.9 924.6 L796.2 974.6" stroke="#c25e08" stroke-width="24"/>
<path d="M871.9 924.6 L796.2 974.6 L870.8 1016.2 Z" fill="#c25e08"/>
<path d="M871.9 924.6 L870.8 1016.2" stroke="#c25e08" stroke-width="24.1"/>
<path d="M945 953.8 L870.8 1016.2" stroke="#c25e08" stroke-width="24"/>
<path d="M945 953.8 L870.8 1016.2 L945 1066.9 Z" fill="#c25e08"/>
<path d="M945 953.8 L945 1066.9" stroke="#c25e08" stroke-width="27.2"/>
<path d="M796.2 974.6 L714.2 1004.6" stroke="#c25e08" stroke-width="23.4"/>
<path d="M796.2 974.6 L714.2 1004.6 L783.5 1059.2 Z" fill="#c25e08"/>
<path d="M796.2 974.6 L870.8 1016.2" stroke="#c25e08" stroke-width="23.8"/>
<path d="M796.2 974.6 L870.8 1016.2 L783.5 1059.2 Z" fill="#c25e08"/>
<path d="M796.2 974.6 L783.5 1059.2" stroke="#c25e08" stroke-width="23.5"/>
<path d="M714.2 1004.6 L629.6 1058.5" stroke="#c25e08" stroke-width="23.5"/>
<path d="M714.2 1004.6 L629.6 1058.5 L706.5 1092.3 Z" fill="#c25e08"/>
<path d="M714.2 1004.6 L783.5 1059.2" stroke="#c25e08" stroke-width="23.2"/>
<path d="M714.2 1004.6 L783.5 1059.2 L706.5 1092.3 Z" fill="#c25e08"/>
<path d="M714.2 1004.6 L706.5 1092.3" stroke="#c25e08" stroke-width="23.5"/>
<path d="M870.8 1016.2 L783.5 1059.2" stroke="#c25e08" stroke-width="23.6"/>
<path d="M870.8 1016.2 L783.5 1059.2 L858.5 1095.4 Z" fill="#c25e08"/>
<path d="M870.8 1016.2 L858.5 1095.4" stroke="#c25e08" stroke-width="23.9"/>
<path d="M870.8 1016.2 L858.5 1095.4 L945 1066.9 Z" fill="#c25e08"/>
<path d="M870.8 1016.2 L945 1066.9" stroke="#c25e08" stroke-width="27.1"/>
<path d="M629.6 1058.5 L706.5 1092.3" stroke="#c25e08" stroke-width="24"/>
<path d="M783.5 1059.2 L706.5 1092.3" stroke="#c25e08" stroke-width="23.6"/>
<path d="M783.5 1059.2 L858.5 1095.4" stroke="#c25e08" stroke-width="23.6"/>
<path d="M858.5 1095.4 L945 1066.9" stroke="#c25e08" stroke-width="27.1"/>
<circle cx="858.5" cy="688.5" r="41.2" fill="#ffd57c"/>
<g clip-path="url(#c858_688)">
<circle cx="858.5" cy="688.5" r="41.2" fill="#ffa90c"/>
<circle cx="866.3" cy="685.6" r="41.2" fill="#ffbb3c"/>
<circle cx="871.2" cy="683.9" r="42.8" fill="#ffd57c"/>
<circle cx="847.4" cy="690.9" r="53.5" fill="none" stroke="#fff0d8" stroke-width="24.7"/>
<circle cx="853.1" cy="689.7" r="53.5" fill="none" stroke="#fffaf0" stroke-width="24.7"/>
</g>
<ellipse cx="859.3" cy="689.7" rx="21.4" ry="21" fill="#fff"/>
<g clip-path="url(#n858_688)">
<rect x="839.9" y="671.2" width="37" height="37" fill="#00a9c6"/>
<circle cx="862.7" cy="688.2" r="18.2" fill="none" stroke="#0890b4" stroke-width="5.2"/>
<circle cx="850.7" cy="687.8" r="21" fill="none" stroke="#9fd8e8" stroke-width="4.6"/>
<circle cx="850.7" cy="687.8" r="25" fill="none" stroke="#d8eff5" stroke-width="4.6"/>
</g>
<circle cx="858.5" cy="688.5" r="41.2" fill="none" stroke="#000" stroke-width="4.6"/>
<circle cx="926.9" cy="720.8" r="36.9" fill="#ffd57c"/>
<g clip-path="url(#c926_720)">
<circle cx="926.9" cy="720.8" r="36.9" fill="#ffa90c"/>
<circle cx="933.9" cy="718.2" r="36.9" fill="#ffbb3c"/>
<circle cx="938.4" cy="716.7" r="38.4" fill="#ffd57c"/>
<circle cx="917" cy="723" r="48" fill="none" stroke="#fff0d8" stroke-width="22.2"/>
<circle cx="922.1" cy="721.9" r="48" fill="none" stroke="#fffaf0" stroke-width="22.2"/>
</g>
<ellipse cx="927.7" cy="721.9" rx="19.2" ry="18.8" fill="#fff"/>
<g clip-path="url(#n926_720)">
<rect x="910.3" y="705.3" width="33.2" height="33.2" fill="#00a9c6"/>
<circle cx="930.8" cy="720.5" r="16.3" fill="none" stroke="#0890b4" stroke-width="4.7"/>
<circle cx="920" cy="720.2" r="18.8" fill="none" stroke="#9fd8e8" stroke-width="4.1"/>
<circle cx="920" cy="720.2" r="22.4" fill="none" stroke="#d8eff5" stroke-width="4.1"/>
</g>
<circle cx="926.9" cy="720.8" r="36.9" fill="none" stroke="#000" stroke-width="4.6"/>
<circle cx="780.8" cy="731.5" r="39.6" fill="#ffd57c"/>
<g clip-path="url(#c780_731)">
<circle cx="780.8" cy="731.5" r="39.6" fill="#ffa90c"/>
<circle cx="788.3" cy="728.8" r="39.6" fill="#ffbb3c"/>
<circle cx="793" cy="727.2" r="41.2" fill="#ffd57c"/>
<circle cx="770.1" cy="733.9" r="51.5" fill="none" stroke="#fff0d8" stroke-width="23.8"/>
<circle cx="775.6" cy="732.7" r="51.5" fill="none" stroke="#fffaf0" stroke-width="23.8"/>
</g>
<ellipse cx="781.6" cy="732.7" rx="20.6" ry="20.2" fill="#fff"/>
<g clip-path="url(#n780_731)">
<rect x="762.9" y="714.9" width="35.6" height="35.6" fill="#00a9c6"/>
<circle cx="784.9" cy="731.2" r="17.5" fill="none" stroke="#0890b4" stroke-width="5"/>
<circle cx="773.3" cy="730.9" r="20.2" fill="none" stroke="#9fd8e8" stroke-width="4.4"/>
<circle cx="773.3" cy="730.9" r="24" fill="none" stroke="#d8eff5" stroke-width="4.4"/>
</g>
<circle cx="780.8" cy="731.5" r="39.6" fill="none" stroke="#5a5a5a" stroke-width="4.6"/>
<circle cx="993.1" cy="748.8" r="34.6" fill="#ffd57c"/>
<g clip-path="url(#c993_748)">
<circle cx="993.1" cy="748.8" r="34.6" fill="#ffa90c"/>
<circle cx="999.7" cy="746.4" r="34.6" fill="#ffbb3c"/>
<circle cx="1003.8" cy="745" r="36" fill="#ffd57c"/>
<circle cx="983.7" cy="750.9" r="45" fill="none" stroke="#fff0d8" stroke-width="20.8"/>
<circle cx="988.6" cy="749.9" r="45" fill="none" stroke="#fffaf0" stroke-width="20.8"/>
</g>
<ellipse cx="993.8" cy="749.9" rx="18" ry="17.6" fill="#fff"/>
<g clip-path="url(#n993_748)">
<rect x="977.5" y="734.3" width="31.1" height="31.1" fill="#00a9c6"/>
<circle cx="996.7" cy="748.6" r="15.3" fill="none" stroke="#0890b4" stroke-width="4.4"/>
<circle cx="986.6" cy="748.3" r="17.6" fill="none" stroke="#9fd8e8" stroke-width="3.9"/>
<circle cx="986.6" cy="748.3" r="21" fill="none" stroke="#d8eff5" stroke-width="3.9"/>
</g>
<circle cx="993.1" cy="748.8" r="34.6" fill="none" stroke="#5a5a5a" stroke-width="4.6"/>
<circle cx="850" cy="766.9" r="38.5" fill="#ffd57c"/>
<g clip-path="url(#c850_766)">
<circle cx="850" cy="766.9" r="38.5" fill="#ffa90c"/>
<circle cx="857.3" cy="764.2" r="38.5" fill="#ffbb3c"/>
<circle cx="861.9" cy="762.7" r="40" fill="#ffd57c"/>
<circle cx="839.6" cy="769.2" r="50" fill="none" stroke="#fff0d8" stroke-width="23.1"/>
<circle cx="845" cy="768.1" r="50" fill="none" stroke="#fffaf0" stroke-width="23.1"/>
</g>
<ellipse cx="850.8" cy="768.1" rx="20" ry="19.6" fill="#fff"/>
<g clip-path="url(#n850_766)">
<rect x="832.7" y="750.8" width="34.6" height="34.6" fill="#00a9c6"/>
<circle cx="854" cy="766.6" r="17" fill="none" stroke="#0890b4" stroke-width="4.9"/>
<circle cx="842.8" cy="766.3" r="19.6" fill="none" stroke="#9fd8e8" stroke-width="4.3"/>
<circle cx="842.8" cy="766.3" r="23.3" fill="none" stroke="#d8eff5" stroke-width="4.3"/>
</g>
<circle cx="850" cy="766.9" r="38.5" fill="none" stroke="#000" stroke-width="4.6"/>
<circle cx="710.4" cy="781.5" r="39.2" fill="#ffd57c"/>
<g clip-path="url(#c710_781)">
<circle cx="710.4" cy="781.5" r="39.2" fill="#ffa90c"/>
<circle cx="717.8" cy="778.8" r="39.2" fill="#ffbb3c"/>
<circle cx="722.5" cy="777.2" r="40.8" fill="#ffd57c"/>
<circle cx="699.8" cy="783.9" r="51" fill="none" stroke="#fff0d8" stroke-width="23.5"/>
<circle cx="705.3" cy="782.7" r="51" fill="none" stroke="#fffaf0" stroke-width="23.5"/>
</g>
<ellipse cx="711.2" cy="782.7" rx="20.4" ry="20" fill="#fff"/>
<g clip-path="url(#n710_781)">
<rect x="692.7" y="765.1" width="35.3" height="35.3" fill="#00a9c6"/>
<circle cx="714.5" cy="781.2" r="17.3" fill="none" stroke="#0890b4" stroke-width="5"/>
<circle cx="703" cy="781" r="20" fill="none" stroke="#9fd8e8" stroke-width="4.4"/>
<circle cx="703" cy="781" r="23.8" fill="none" stroke="#d8eff5" stroke-width="4.4"/>
</g>
<circle cx="710.4" cy="781.5" r="39.2" fill="none" stroke="#000" stroke-width="4.6"/>
<circle cx="926.9" cy="795" r="40.4" fill="#ffd57c"/>
<g clip-path="url(#c926_795)">
<circle cx="926.9" cy="795" r="40.4" fill="#ffa90c"/>
<circle cx="934.6" cy="792.2" r="40.4" fill="#ffbb3c"/>
<circle cx="939.4" cy="790.6" r="42" fill="#ffd57c"/>
<circle cx="916" cy="797.4" r="52.5" fill="none" stroke="#fff0d8" stroke-width="24.2"/>
<circle cx="921.7" cy="796.2" r="52.5" fill="none" stroke="#fffaf0" stroke-width="24.2"/>
</g>
<ellipse cx="927.7" cy="796.2" rx="21" ry="20.6" fill="#fff"/>
<g clip-path="url(#n926_795)">
<rect x="908.7" y="778.1" width="36.3" height="36.3" fill="#00a9c6"/>
<circle cx="931.1" cy="794.7" r="17.8" fill="none" stroke="#0890b4" stroke-width="5.1"/>
<circle cx="919.3" cy="794.4" r="20.6" fill="none" stroke="#9fd8e8" stroke-width="4.5"/>
<circle cx="919.3" cy="794.4" r="24.5" fill="none" stroke="#d8eff5" stroke-width="4.5"/>
</g>
<circle cx="926.9" cy="795" r="40.4" fill="none" stroke="#000" stroke-width="4.6"/>
<circle cx="781.5" cy="810.4" r="39.2" fill="#ffd57c"/>
<g clip-path="url(#c781_810)">
<circle cx="781.5" cy="810.4" r="39.2" fill="#ffa90c"/>
<circle cx="789" cy="807.6" r="39.2" fill="#ffbb3c"/>
<circle cx="793.7" cy="806.1" r="40.8" fill="#ffd57c"/>
<circle cx="770.9" cy="812.7" r="51" fill="none" stroke="#fff0d8" stroke-width="23.5"/>
<circle cx="776.4" cy="811.6" r="51" fill="none" stroke="#fffaf0" stroke-width="23.5"/>
</g>
<ellipse cx="782.3" cy="811.6" rx="20.4" ry="20" fill="#fff"/>
<g clip-path="url(#n781_810)">
<rect x="763.9" y="793.9" width="35.3" height="35.3" fill="#00a9c6"/>
<circle cx="785.6" cy="810.1" r="17.3" fill="none" stroke="#0890b4" stroke-width="5"/>
<circle cx="774.2" cy="809.8" r="20" fill="none" stroke="#9fd8e8" stroke-width="4.4"/>
<circle cx="774.2" cy="809.8" r="23.8" fill="none" stroke="#d8eff5" stroke-width="4.4"/>
</g>
<circle cx="781.5" cy="810.4" r="39.2" fill="none" stroke="#000" stroke-width="4.6"/>
<circle cx="1002.7" cy="820" r="37.3" fill="#ffd57c"/>
<g clip-path="url(#c1002_820)">
<circle cx="1002.7" cy="820" r="37.3" fill="#ffa90c"/>
<circle cx="1009.8" cy="817.4" r="37.3" fill="#ffbb3c"/>
<circle cx="1014.3" cy="815.9" r="38.8" fill="#ffd57c"/>
<circle cx="992.6" cy="822.2" r="48.5" fill="none" stroke="#fff0d8" stroke-width="22.4"/>
<circle cx="997.8" cy="821.1" r="48.5" fill="none" stroke="#fffaf0" stroke-width="22.4"/>
</g>
<ellipse cx="1003.4" cy="821.1" rx="19.4" ry="19" fill="#fff"/>
<g clip-path="url(#n1002_820)">
<rect x="985.9" y="804.4" width="33.5" height="33.5" fill="#00a9c6"/>
<circle cx="1006.6" cy="819.7" r="16.5" fill="none" stroke="#0890b4" stroke-width="4.7"/>
<circle cx="995.7" cy="819.4" r="19" fill="none" stroke="#9fd8e8" stroke-width="4.2"/>
<circle cx="995.7" cy="819.4" r="22.6" fill="none" stroke="#d8eff5" stroke-width="4.2"/>
</g>
<circle cx="1002.7" cy="820" r="37.3" fill="none" stroke="#000" stroke-width="4.6"/>
<circle cx="641.2" cy="823.8" r="36.5" fill="#ffd57c"/>
<g clip-path="url(#c641_823)">
<circle cx="641.2" cy="823.8" r="36.5" fill="#ffa90c"/>
<circle cx="648.1" cy="821.3" r="36.5" fill="#ffbb3c"/>
<circle cx="652.5" cy="819.8" r="38" fill="#ffd57c"/>
<circle cx="631.3" cy="826" r="47.5" fill="none" stroke="#fff0d8" stroke-width="21.9"/>
<circle cx="636.4" cy="824.9" r="47.5" fill="none" stroke="#fffaf0" stroke-width="21.9"/>
</g>
<ellipse cx="641.9" cy="824.9" rx="19" ry="18.6" fill="#fff"/>
<g clip-path="url(#n641_823)">
<rect x="624.7" y="808.5" width="32.8" height="32.8" fill="#00a9c6"/>
<circle cx="645" cy="823.6" r="16.1" fill="none" stroke="#0890b4" stroke-width="4.7"/>
<circle cx="634.3" cy="823.3" r="18.6" fill="none" stroke="#9fd8e8" stroke-width="4.1"/>
<circle cx="634.3" cy="823.3" r="22.2" fill="none" stroke="#d8eff5" stroke-width="4.1"/>
</g>
<circle cx="641.2" cy="823.8" r="36.5" fill="none" stroke="#000" stroke-width="4.6"/>
<circle cx="863.1" cy="845.8" r="38.5" fill="#ffd57c"/>
<g clip-path="url(#c863_845)">
<circle cx="863.1" cy="845.8" r="38.5" fill="#ffa90c"/>
<circle cx="870.4" cy="843.1" r="38.5" fill="#ffbb3c"/>
<circle cx="875" cy="841.5" r="40" fill="#ffd57c"/>
<circle cx="852.7" cy="848.1" r="50" fill="none" stroke="#fff0d8" stroke-width="23.1"/>
<circle cx="858.1" cy="846.9" r="50" fill="none" stroke="#fffaf0" stroke-width="23.1"/>
</g>
<ellipse cx="863.8" cy="846.9" rx="20" ry="19.6" fill="#fff"/>
<g clip-path="url(#n863_845)">
<rect x="845.8" y="829.6" width="34.6" height="34.6" fill="#00a9c6"/>
<circle cx="867.1" cy="845.5" r="17" fill="none" stroke="#0890b4" stroke-width="4.9"/>
<circle cx="855.8" cy="845.2" r="19.6" fill="none" stroke="#9fd8e8" stroke-width="4.3"/>
<circle cx="855.8" cy="845.2" r="23.3" fill="none" stroke="#d8eff5" stroke-width="4.3"/>
</g>
<circle cx="863.1" cy="845.8" r="38.5" fill="none" stroke="#000" stroke-width="4.6"/>
<circle cx="708.5" cy="854.6" r="38.5" fill="#ffd57c"/>
<g clip-path="url(#c708_854)">
<circle cx="708.5" cy="854.6" r="38.5" fill="#ffa90c"/>
<circle cx="715.8" cy="851.9" r="38.5" fill="#ffbb3c"/>
<circle cx="720.4" cy="850.4" r="40" fill="#ffd57c"/>
<circle cx="698.1" cy="856.9" r="50" fill="none" stroke="#fff0d8" stroke-width="23.1"/>
<circle cx="703.5" cy="855.8" r="50" fill="none" stroke="#fffaf0" stroke-width="23.1"/>
</g>
<ellipse cx="709.2" cy="855.8" rx="20" ry="19.6" fill="#fff"/>
<g clip-path="url(#n708_854)">
<rect x="691.2" y="838.5" width="34.6" height="34.6" fill="#00a9c6"/>
<circle cx="712.5" cy="854.3" r="17" fill="none" stroke="#0890b4" stroke-width="4.9"/>
<circle cx="701.2" cy="854" r="19.6" fill="none" stroke="#9fd8e8" stroke-width="4.3"/>
<circle cx="701.2" cy="854" r="23.3" fill="none" stroke="#d8eff5" stroke-width="4.3"/>
</g>
<circle cx="708.5" cy="854.6" r="38.5" fill="none" stroke="#000" stroke-width="4.6"/>
<circle cx="568.1" cy="856.5" r="38.8" fill="#ffd57c"/>
<g clip-path="url(#c568_856)">
<circle cx="568.1" cy="856.5" r="38.8" fill="#ffa90c"/>
<circle cx="575.5" cy="853.8" r="38.8" fill="#ffbb3c"/>
<circle cx="580.1" cy="852.3" r="40.4" fill="#ffd57c"/>
<circle cx="557.6" cy="858.9" r="50.5" fill="none" stroke="#fff0d8" stroke-width="23.3"/>
<circle cx="563" cy="857.7" r="50.5" fill="none" stroke="#fffaf0" stroke-width="23.3"/>
</g>
<ellipse cx="568.9" cy="857.7" rx="20.2" ry="19.8" fill="#fff"/>
<g clip-path="url(#n568_856)">
<rect x="550.6" y="840.3" width="34.9" height="34.9" fill="#00a9c6"/>
<circle cx="572.1" cy="856.2" r="17.2" fill="none" stroke="#0890b4" stroke-width="4.9"/>
<circle cx="560.8" cy="856" r="19.8" fill="none" stroke="#9fd8e8" stroke-width="4.4"/>
<circle cx="560.8" cy="856" r="23.6" fill="none" stroke="#d8eff5" stroke-width="4.4"/>
</g>
<circle cx="568.1" cy="856.5" r="38.8" fill="none" stroke="#000" stroke-width="4.6"/>
<circle cx="938.5" cy="866.9" r="35.4" fill="#ffd57c"/>
<g clip-path="url(#c938_866)">
<circle cx="938.5" cy="866.9" r="35.4" fill="#ffa90c"/>
<circle cx="945.2" cy="864.4" r="35.4" fill="#ffbb3c"/>
<circle cx="949.4" cy="863" r="36.8" fill="#ffd57c"/>
<circle cx="928.9" cy="869" r="46" fill="none" stroke="#fff0d8" stroke-width="21.2"/>
<circle cx="933.9" cy="868" r="46" fill="none" stroke="#fffaf0" stroke-width="21.2"/>
</g>
<ellipse cx="939.2" cy="868" rx="18.4" ry="18" fill="#fff"/>
<g clip-path="url(#n938_866)">
<rect x="922.5" y="852.1" width="31.8" height="31.8" fill="#00a9c6"/>
<circle cx="942.1" cy="866.7" r="15.6" fill="none" stroke="#0890b4" stroke-width="4.5"/>
<circle cx="931.8" cy="866.4" r="18" fill="none" stroke="#9fd8e8" stroke-width="4"/>
<circle cx="931.8" cy="866.4" r="21.5" fill="none" stroke="#d8eff5" stroke-width="4"/>
</g>
<circle cx="938.5" cy="866.9" r="35.4" fill="none" stroke="#000" stroke-width="4.6"/>
<circle cx="495" cy="893.1" r="39.2" fill="#ffd57c"/>
<g clip-path="url(#c495_893)">
<circle cx="495" cy="893.1" r="39.2" fill="#ffa90c"/>
<circle cx="502.5" cy="890.3" r="39.2" fill="#ffbb3c"/>
<circle cx="507.2" cy="888.8" r="40.8" fill="#ffd57c"/>
<circle cx="484.4" cy="895.4" r="51" fill="none" stroke="#fff0d8" stroke-width="23.5"/>
<circle cx="489.9" cy="894.3" r="51" fill="none" stroke="#fffaf0" stroke-width="23.5"/>
</g>
<ellipse cx="495.8" cy="894.3" rx="20.4" ry="20" fill="#fff"/>
<g clip-path="url(#n495_893)">
<rect x="477.3" y="876.6" width="35.3" height="35.3" fill="#00a9c6"/>
<circle cx="499.1" cy="892.8" r="17.3" fill="none" stroke="#0890b4" stroke-width="5"/>
<circle cx="487.6" cy="892.5" r="20" fill="none" stroke="#9fd8e8" stroke-width="4.4"/>
<circle cx="487.6" cy="892.5" r="23.8" fill="none" stroke="#d8eff5" stroke-width="4.4"/>
</g>
<circle cx="495" cy="893.1" r="39.2" fill="none" stroke="#000" stroke-width="4.6"/>
<circle cx="1012.3" cy="896.9" r="39.2" fill="#ffd57c"/>
<g clip-path="url(#c1012_896)">
<circle cx="1012.3" cy="896.9" r="39.2" fill="#ffa90c"/>
<circle cx="1019.8" cy="894.2" r="39.2" fill="#ffbb3c"/>
<circle cx="1024.5" cy="892.6" r="40.8" fill="#ffd57c"/>
<circle cx="1001.7" cy="899.3" r="51" fill="none" stroke="#fff0d8" stroke-width="23.5"/>
<circle cx="1007.2" cy="898.1" r="51" fill="none" stroke="#fffaf0" stroke-width="23.5"/>
</g>
<ellipse cx="1013.1" cy="898.1" rx="20.4" ry="20" fill="#fff"/>
<g clip-path="url(#n1012_896)">
<rect x="994.7" y="880.5" width="35.3" height="35.3" fill="#00a9c6"/>
<circle cx="1016.4" cy="896.6" r="17.3" fill="none" stroke="#0890b4" stroke-width="5"/>
<circle cx="1004.9" cy="896.3" r="20" fill="none" stroke="#9fd8e8" stroke-width="4.4"/>
<circle cx="1004.9" cy="896.3" r="23.8" fill="none" stroke="#d8eff5" stroke-width="4.4"/>
</g>
<circle cx="1012.3" cy="896.9" r="39.2" fill="none" stroke="#000" stroke-width="4.6"/>
<circle cx="637.3" cy="896.9" r="39.2" fill="#ffd57c"/>
<g clip-path="url(#c637_896)">
<circle cx="637.3" cy="896.9" r="39.2" fill="#ffa90c"/>
<circle cx="644.8" cy="894.2" r="39.2" fill="#ffbb3c"/>
<circle cx="649.5" cy="892.6" r="40.8" fill="#ffd57c"/>
<circle cx="626.7" cy="899.3" r="51" fill="none" stroke="#fff0d8" stroke-width="23.5"/>
<circle cx="632.2" cy="898.1" r="51" fill="none" stroke="#fffaf0" stroke-width="23.5"/>
</g>
<ellipse cx="638.1" cy="898.1" rx="20.4" ry="20" fill="#fff"/>
<g clip-path="url(#n637_896)">
<rect x="619.7" y="880.5" width="35.3" height="35.3" fill="#00a9c6"/>
<circle cx="641.4" cy="896.6" r="17.3" fill="none" stroke="#0890b4" stroke-width="5"/>
<circle cx="629.9" cy="896.3" r="20" fill="none" stroke="#9fd8e8" stroke-width="4.4"/>
<circle cx="629.9" cy="896.3" r="23.8" fill="none" stroke="#d8eff5" stroke-width="4.4"/>
</g>
<circle cx="637.3" cy="896.9" r="39.2" fill="none" stroke="#000" stroke-width="4.6"/>
<circle cx="562.3" cy="937.3" r="40" fill="#ffd57c"/>
<g clip-path="url(#c562_937)">
<circle cx="562.3" cy="937.3" r="40" fill="#ffa90c"/>
<circle cx="569.9" cy="934.5" r="40" fill="#ffbb3c"/>
<circle cx="574.7" cy="932.9" r="41.6" fill="#ffd57c"/>
<circle cx="551.5" cy="939.7" r="52" fill="none" stroke="#fff0d8" stroke-width="24"/>
<circle cx="557.1" cy="938.5" r="52" fill="none" stroke="#fffaf0" stroke-width="24"/>
</g>
<ellipse cx="563.1" cy="938.5" rx="20.8" ry="20.4" fill="#fff"/>
<g clip-path="url(#n562_937)">
<rect x="544.3" y="920.5" width="35.9" height="35.9" fill="#00a9c6"/>
<circle cx="566.5" cy="937" r="17.7" fill="none" stroke="#0890b4" stroke-width="5.1"/>
<circle cx="554.8" cy="936.7" r="20.4" fill="none" stroke="#9fd8e8" stroke-width="4.5"/>
<circle cx="554.8" cy="936.7" r="24.3" fill="none" stroke="#d8eff5" stroke-width="4.5"/>
</g>
<circle cx="562.3" cy="937.3" r="40" fill="none" stroke="#000" stroke-width="4.6"/>
<circle cx="633.5" cy="975.8" r="39.2" fill="#ffd57c"/>
<g clip-path="url(#c633_975)">
<circle cx="633.5" cy="975.8" r="39.2" fill="#ffa90c"/>
<circle cx="640.9" cy="973" r="39.2" fill="#ffbb3c"/>
<circle cx="645.6" cy="971.5" r="40.8" fill="#ffd57c"/>
<circle cx="622.9" cy="978.1" r="51" fill="none" stroke="#fff0d8" stroke-width="23.5"/>
<circle cx="628.4" cy="976.9" r="51" fill="none" stroke="#fffaf0" stroke-width="23.5"/>
</g>
<ellipse cx="634.2" cy="976.9" rx="20.4" ry="20" fill="#fff"/>
<g clip-path="url(#n633_975)">
<rect x="615.8" y="959.3" width="35.3" height="35.3" fill="#00a9c6"/>
<circle cx="637.5" cy="975.5" r="17.3" fill="none" stroke="#0890b4" stroke-width="5"/>
<circle cx="626.1" cy="975.2" r="20" fill="none" stroke="#9fd8e8" stroke-width="4.4"/>
<circle cx="626.1" cy="975.2" r="23.8" fill="none" stroke="#d8eff5" stroke-width="4.4"/>
</g>
<circle cx="633.5" cy="975.8" r="39.2" fill="none" stroke="#000" stroke-width="4.6"/>
<circle cx="488.5" cy="977.7" r="40.4" fill="#ffd57c"/>
<g clip-path="url(#c488_977)">
<circle cx="488.5" cy="977.7" r="40.4" fill="#ffa90c"/>
<circle cx="496.1" cy="974.9" r="40.4" fill="#ffbb3c"/>
<circle cx="501" cy="973.2" r="42" fill="#ffd57c"/>
<circle cx="477.6" cy="980.1" r="52.5" fill="none" stroke="#fff0d8" stroke-width="24.2"/>
<circle cx="483.2" cy="978.9" r="52.5" fill="none" stroke="#fffaf0" stroke-width="24.2"/>
</g>
<ellipse cx="489.3" cy="978.9" rx="21" ry="20.6" fill="#fff"/>
<g clip-path="url(#n488_977)">
<rect x="470.3" y="960.8" width="36.3" height="36.3" fill="#00a9c6"/>
<circle cx="492.7" cy="977.4" r="17.8" fill="none" stroke="#0890b4" stroke-width="5.1"/>
<circle cx="480.9" cy="977.1" r="20.6" fill="none" stroke="#9fd8e8" stroke-width="4.5"/>
<circle cx="480.9" cy="977.1" r="24.5" fill="none" stroke="#d8eff5" stroke-width="4.5"/>
</g>
<circle cx="488.5" cy="977.7" r="40.4" fill="none" stroke="#5a5a5a" stroke-width="4.6"/>
<circle cx="559.2" cy="1016.2" r="38.8" fill="#ffd57c"/>
<g clip-path="url(#c559_1016)">
<circle cx="559.2" cy="1016.2" r="38.8" fill="#ffa90c"/>
<circle cx="566.6" cy="1013.4" r="38.8" fill="#ffbb3c"/>
<circle cx="571.3" cy="1011.9" r="40.4" fill="#ffd57c"/>
<circle cx="548.7" cy="1018.5" r="50.5" fill="none" stroke="#fff0d8" stroke-width="23.3"/>
<circle cx="554.2" cy="1017.3" r="50.5" fill="none" stroke="#fffaf0" stroke-width="23.3"/>
</g>
<ellipse cx="560" cy="1017.3" rx="20.2" ry="19.8" fill="#fff"/>
<g clip-path="url(#n559_1016)">
<rect x="541.7" y="999.9" width="34.9" height="34.9" fill="#00a9c6"/>
<circle cx="563.3" cy="1015.9" r="17.2" fill="none" stroke="#0890b4" stroke-width="4.9"/>
<circle cx="551.9" cy="1015.6" r="19.8" fill="none" stroke="#9fd8e8" stroke-width="4.4"/>
<circle cx="551.9" cy="1015.6" r="23.6" fill="none" stroke="#d8eff5" stroke-width="4.4"/>
</g>
<circle cx="559.2" cy="1016.2" r="38.8" fill="none" stroke="#000" stroke-width="4.6"/>
<circle cx="485.4" cy="1052.7" r="37.3" fill="#ffd57c"/>
<g clip-path="url(#c485_1052)">
<circle cx="485.4" cy="1052.7" r="37.3" fill="#ffa90c"/>
<circle cx="492.5" cy="1050.1" r="37.3" fill="#ffbb3c"/>
<circle cx="496.9" cy="1048.6" r="38.8" fill="#ffd57c"/>
<circle cx="475.3" cy="1054.9" r="48.5" fill="none" stroke="#fff0d8" stroke-width="22.4"/>
<circle cx="480.5" cy="1053.8" r="48.5" fill="none" stroke="#fffaf0" stroke-width="22.4"/>
</g>
<ellipse cx="486.1" cy="1053.8" rx="19.4" ry="19" fill="#fff"/>
<g clip-path="url(#n485_1052)">
<rect x="468.6" y="1037" width="33.5" height="33.5" fill="#00a9c6"/>
<circle cx="489.3" cy="1052.4" r="16.5" fill="none" stroke="#0890b4" stroke-width="4.7"/>
<circle cx="478.4" cy="1052.1" r="19" fill="none" stroke="#9fd8e8" stroke-width="4.2"/>
<circle cx="478.4" cy="1052.1" r="22.6" fill="none" stroke="#d8eff5" stroke-width="4.2"/>
</g>
<circle cx="485.4" cy="1052.7" r="37.3" fill="none" stroke="#000" stroke-width="4.6"/>
<circle cx="548.8" cy="1095" r="39.6" fill="#ffd57c"/>
<g clip-path="url(#c548_1095)">
<circle cx="548.8" cy="1095" r="39.6" fill="#ffa90c"/>
<circle cx="556.4" cy="1092.2" r="39.6" fill="#ffbb3c"/>
<circle cx="561.1" cy="1090.6" r="41.2" fill="#ffd57c"/>
<circle cx="538.1" cy="1097.4" r="51.5" fill="none" stroke="#fff0d8" stroke-width="23.8"/>
<circle cx="543.7" cy="1096.2" r="51.5" fill="none" stroke="#fffaf0" stroke-width="23.8"/>
</g>
<ellipse cx="549.6" cy="1096.2" rx="20.6" ry="20.2" fill="#fff"/>
<g clip-path="url(#n548_1095)">
<rect x="531" y="1078.4" width="35.6" height="35.6" fill="#00a9c6"/>
<circle cx="553" cy="1094.7" r="17.5" fill="none" stroke="#0890b4" stroke-width="5"/>
<circle cx="541.4" cy="1094.4" r="20.2" fill="none" stroke="#9fd8e8" stroke-width="4.4"/>
<circle cx="541.4" cy="1094.4" r="24" fill="none" stroke="#d8eff5" stroke-width="4.4"/>
</g>
<circle cx="548.8" cy="1095" r="39.6" fill="none" stroke="#000" stroke-width="4.6"/>
<path d="M833.1 903.9C829 915.9 831.8 911.1 823.7 920.1C815.6 929.1 819.7 924.6 808.7 930.8C797.7 936.9 803.8 936.6 790.8 938.6C777.8 940.6 781.3 942.6 769.7 936.8C758.2 931.1 764.5 931.8 756.1 921.4C747.6 910.9 748.8 917.4 744.4 905.4C740 893.5 739.9 897.8 742.8 885.6C745.7 873.3 744.4 878.1 753 868.7C761.7 859.3 757.1 861.8 768.7 857.3C780.3 852.8 775.2 854.9 787.8 855.1C800.4 855.4 793.1 854.9 806.5 858C819.8 861 818 855.5 827.9 864.3C837.7 873 834.3 870.9 836 884.1C837.7 897.3 837.1 891.9 833.1 903.9Z" fill="#f3a762"/>
<g clip-path="url(#o789_895)">
<path d="M840.5 908.8C839.5 921.8 842.3 918.6 833.8 928.4C825.3 938.2 827.7 932.7 815 938.2C802.2 943.7 809.3 943.1 795.4 944.8C781.5 946.6 785.8 949.1 773.2 943.5C760.5 938 765.5 939.5 757.4 928.2C749.3 917 751 922.3 748.8 909.8C746.6 897.2 747.7 902.7 750.8 890.6C753.9 878.5 751.8 885.3 758.1 873.3C764.3 861.4 758.2 862.5 769.5 854.7C780.8 847 777.7 848.7 792 850.1C806.3 851.6 800.2 852 812.5 859.1C824.8 866.2 820.7 861.3 828.9 871.4C837 881.4 833.1 876.8 837 889.2C840.9 901.7 841.6 895.7 840.5 908.8Z" fill="none" stroke="#e98b30" stroke-width="10"/>
<path d="M820.7 894.8C818.4 907.1 823.3 903.8 816.1 913.2C808.9 922.5 810.8 915.8 799.1 922.8C787.4 929.8 793.9 932.9 781 934.2C768.1 935.6 772.2 933.8 760.4 926.8C748.6 919.8 755.2 923 745.5 913.2C735.9 903.4 735.9 909.7 731.4 897.5C726.8 885.4 727.1 888.6 732 876.8C736.8 865 737.1 871.8 745.8 862.1C754.5 852.3 747.4 852.7 758 847.5C768.7 842.2 764.1 847.6 777.8 846.4C791.5 845.1 785.3 841 799.2 843.6C813.1 846.3 811.6 843.5 819.5 854.3C827.5 865.2 822.6 862.7 823 876.2C823.4 889.7 823 882.5 820.7 894.8Z" fill="none" stroke="#f8caa2" stroke-width="13.6"/>
<path d="M821.5 901.5C821.3 910 821.3 907.3 815.4 914.1C809.6 920.8 812.2 916.8 803.8 921.8C795.5 926.9 800.2 927.8 790.5 929.2C780.8 930.6 783 931.2 774.8 926C766.5 920.9 771.2 921.7 765.6 913.8C760.1 905.9 759.1 910.3 758.1 902.3C757.1 894.2 760.6 898.1 762.6 889.6C764.7 881.1 761.1 885.6 764.2 876.8C767.2 867.9 763.9 868.2 771.9 863.1C779.8 858 777.8 860.3 788 861.5C798.2 862.6 793.8 861.9 802.5 866.5C811.2 871 809.7 867.7 814.2 875.1C818.8 882.5 813.6 879.9 816.1 888.8C818.5 897.6 821.7 893.1 821.5 901.5Z" fill="none" stroke="#f6b57a" stroke-width="4.5"/>
</g>
<path d="M819.5 902.3C817.3 910.3 815.3 904.8 808.8 912.3C802.4 919.8 808.1 922.3 800.2 924.9C792.4 927.5 793.9 923.9 785.3 920.1C776.7 916.3 781.7 918.6 774.5 913.5C767.3 908.3 767.5 912.3 763.6 904.7C759.7 897.2 762.2 900.6 762.8 890.7C763.4 880.9 758.9 880.4 765.5 875.2C772.1 870 772.8 876.3 782.7 875.2C792.6 874.1 786.6 871.4 795.1 871.9C803.6 872.3 801.4 871 808.2 876.5C815 882 811.6 879.7 815.4 888.2C819.2 896.8 821.7 894.2 819.5 902.3Z" fill="#fff"/>
<g clip-path="url(#on789_895)">
<path d="M814.7 901.3C812.8 907.8 810.5 902.8 805.2 909.2C799.8 915.5 804.9 918.2 798.6 920.3C792.3 922.4 793.2 919 786.2 915.5C779.3 912.1 783.6 914.1 777.7 910C771.7 905.9 771.6 909.3 768.3 903.3C764.9 897.2 767.3 900 767.6 891.7C767.9 883.4 763.7 882.4 769.3 878.4C774.8 874.4 776 880.3 784.3 879.6C792.6 879 787.3 876.4 794.2 876.5C801.1 876.6 799.4 875.6 805 880C810.5 884.4 807.5 882.6 810.8 889.7C814 896.8 816.6 894.8 814.7 901.3Z" fill="#0893b6"/>
<path d="M785.1 895.1C782.8 904.4 790.1 902.6 787.9 909.6C785.6 916.6 784.6 915 778.4 916.2C772.1 917.4 771.5 919.1 769.2 913.1C766.9 907.1 774.4 905.9 771.4 898.2C768.3 890.6 760.7 895.9 760.1 890.1C759.6 884.2 763.9 886.1 769.7 880.6C775.5 875.2 772.4 874.6 777.5 873.8C782.5 872.9 779.1 875.4 784.8 878.1C790.6 880.8 794.7 876.2 794.8 881.8C794.9 887.5 787.4 885.9 785.1 895.1Z" fill="#007c9f"/>
<path d="M796 896.8C795 904.6 800.3 905.7 797.5 909.9C794.7 914 793 910.1 787.5 909.2C782.1 908.3 784.3 910 781.1 907.1C777.9 904.1 781.9 905.7 778 900.5C774 895.2 768.5 896.4 769.2 891.4C770 886.4 774.5 889.4 780.2 885.6C785.8 881.7 782 880.8 786.2 879.9C790.3 879 787.9 880.6 792.7 882.8C797.4 885.1 799.3 882 800.4 886.6C801.5 891.3 797 889.1 796 896.8Z" fill="#0893b6"/>
<path d="M813.9 910.6C813.9 914.7 813.3 913.5 809.7 916.7C806 919.8 807.6 919.6 803.1 920C798.5 920.3 799.6 920.4 796 917.8C792.4 915.2 793.5 916 792.3 912.2C791.1 908.3 792.5 910.9 792.4 906.3C792.4 901.6 789.6 901.8 792.1 898.2C794.6 894.5 795.2 894.9 800 895.4C804.8 895.9 803.2 896.6 806.5 899.7C809.7 902.7 807.3 900.9 809.8 904.5C812.3 908.2 814 906.6 813.9 910.6Z" fill="#7fc3d9"/>
<path d="M802.9 904.1C803.5 907.7 806.4 908.8 804.8 911.1C803.1 913.4 801.9 911.3 797.9 910.8C794 910.4 795.1 911.7 792.9 909.8C790.7 908 792.9 908.1 791.5 905.3C790 902.4 788.4 903.7 788.5 901.2C788.7 898.6 789.5 900.6 791.9 897.5C794.2 894.5 792.7 892.3 795.6 892C798.5 891.7 798.1 893.9 800.6 896.6C803 899.4 802.2 897.8 802.9 900.2C803.7 902.7 802.3 900.4 802.9 904.1Z" fill="#3fa9c8"/>
</g>
<path d="M833.1 903.9C829 915.9 831.8 911.1 823.7 920.1C815.6 929.1 819.7 924.6 808.7 930.8C797.7 936.9 803.8 936.6 790.8 938.6C777.8 940.6 781.3 942.6 769.7 936.8C758.2 931.1 764.5 931.8 756.1 921.4C747.6 910.9 748.8 917.4 744.4 905.4C740 893.5 739.9 897.8 742.8 885.6C745.7 873.3 744.4 878.1 753 868.7C761.7 859.3 757.1 861.8 768.7 857.3C780.3 852.8 775.2 854.9 787.8 855.1C800.4 855.4 793.1 854.9 806.5 858C819.8 861 818 855.5 827.9 864.3C837.7 873 834.3 870.9 836 884.1C837.7 897.3 837.1 891.9 833.1 903.9Z" fill="none" stroke="#000" stroke-width="4" stroke-linejoin="round"/>
<path d="M755.8 936.7C753 948.3 754.1 941.8 748.3 952.7C742.5 963.5 748.6 962.8 738.5 969.2C728.4 975.6 731.7 970.3 718.1 971.8C704.4 973.3 709.5 977.5 697.4 973.8C685.4 970.1 691.2 970 682 960.8C672.8 951.6 675.4 957.3 669.7 946.2C664.1 935.1 664.3 939.8 665.1 927.6C665.8 915.3 663.7 918.4 672 909.5C680.4 900.6 678.7 907.2 690.1 900.9C701.5 894.6 694.3 892.7 706.2 890.6C718.2 888.4 712.4 891.3 725.8 894.6C739.2 897.8 736.1 892.5 746.4 900.3C756.8 908 753.7 905.7 756.8 917.8C759.9 929.9 758.6 925 755.8 936.7Z" fill="#f3a762"/>
<g clip-path="url(#o712_932)">
<path d="M760.1 940.8C755.9 953.4 760.7 947.4 754.8 957.9C748.9 968.5 752.9 965.1 742.4 972.5C731.9 979.9 736.7 978.5 723.2 980.2C709.8 982 715.6 981.6 702 977.8C688.4 974 692.1 977.8 682.4 968.8C672.8 959.8 679 963.3 673 950.7C667 938.2 663.2 943.5 664.5 931.2C665.8 918.9 667.2 923.1 676.9 913.9C686.6 904.6 682.1 909.3 693.5 903.5C704.9 897.8 698.1 899.9 711 896.5C724 893.2 718.4 891.4 732.2 893.5C746.1 895.7 740.8 894.2 752.5 903C764.1 911.8 764.7 907.4 767.2 920C769.8 932.6 764.2 928.2 760.1 940.8Z" fill="none" stroke="#e98b30" stroke-width="10"/>
<path d="M749 928.7C747.6 941.1 749.8 936.5 742.7 946.9C735.6 957.2 739.4 955 727.7 959.8C716.1 964.7 721 960 707.8 961.3C694.5 962.7 700.8 966 688 963.9C675.2 961.8 680 963.3 669.3 955.1C658.5 946.8 660.8 951.2 655.7 939.2C650.6 927.2 651.1 931.4 654 919.1C656.8 906.9 655.9 911.7 664.4 902.5C672.8 893.3 668.7 898.7 679.3 891.5C689.9 884.3 683.7 883.2 696.1 881C708.5 878.7 703.3 880.6 716.4 884.6C729.6 888.6 725.3 884.6 735.4 892.9C745.6 901.2 742.4 897.6 746.9 909.5C751.4 921.4 750.3 916.2 749 928.7Z" fill="none" stroke="#f8caa2" stroke-width="13.6"/>
<path d="M742.6 935.3C741.7 943.1 741.9 939.6 737.5 946.5C733 953.5 736 950 729.2 956.2C722.5 962.4 726.5 962.4 717.1 965.1C707.6 967.8 709.4 968.7 700.8 964.3C692.3 959.9 698.5 959 691.4 951.9C684.3 944.8 682.5 950.6 679.4 943C676.4 935.5 680 937.8 682.3 929.3C684.6 920.8 682.2 924.9 686.3 917.6C690.4 910.3 687.4 912.2 694.6 907.4C701.9 902.5 698.6 904.6 708.1 903.1C717.5 901.6 712.4 901.6 722.9 902.7C733.4 903.9 733.8 899.8 739.7 906.6C745.5 913.4 739.4 913.6 740.4 923.2C741.4 932.7 743.6 927.6 742.6 935.3Z" fill="none" stroke="#f6b57a" stroke-width="4.5"/>
</g>
<path d="M735.9 935.8C734.8 944 737.9 940.1 734.6 948C731.3 955.9 733.9 955.9 725.9 959.5C718 963.2 720.1 960.9 710.7 959C701.3 957 705.1 958.8 697.7 953.7C690.4 948.6 692.9 951.4 688.6 943.8C684.3 936.1 683.5 938.7 684.8 930.7C686.1 922.7 686.4 925.5 692.5 919.6C698.7 913.7 695.3 917.6 703.1 913C711 908.3 706.8 906.5 716 905.7C725.3 904.9 723.6 904.7 730.9 910.6C738.1 916.5 736.2 914.9 737.8 923.3C739.5 931.8 737 927.6 735.9 935.8Z" fill="#fff"/>
<g clip-path="url(#on712_932)">
<path d="M731.1 935.3C730.1 942 733 938.6 730.6 945.3C728.2 951.9 730.4 952.3 723.9 955.3C717.4 958.4 718.9 956.2 711.1 954.4C703.3 952.7 706.6 954.2 700.6 950C694.5 945.9 696.7 948.2 693 941.9C689.4 935.6 688.5 937.7 689.7 931.2C690.8 924.7 691.4 927 696.5 922.3C701.7 917.6 698.8 921.1 705.2 917.1C711.5 913.1 707.9 911.2 715.6 910.2C723.2 909.3 722.1 909.3 728 914.3C734 919.3 732.4 918.2 733.4 925.2C734.4 932.2 732 928.6 731.1 935.3Z" fill="#0893b6"/>
<path d="M711.9 932.1C711.5 941.1 716.4 941.2 713.5 946.6C710.6 952 709.2 948.2 703.2 948.3C697.2 948.3 699.6 949.7 695.6 946.7C691.6 943.7 695.5 945 691.1 939.2C686.7 933.3 681.9 935.5 682.3 929.2C682.7 922.8 686.9 925.6 692.3 920.3C697.7 914.9 693.9 914.7 698.6 913C703.3 911.3 701 913.1 706.3 915.3C711.7 917.5 712.8 914 714.7 919.6C716.6 925.2 712.3 923.1 711.9 932.1Z" fill="#007c9f"/>
<path d="M723.2 933.6C723.3 939.2 722.8 937.7 719.2 942.5C715.6 947.3 717.3 946.7 712.4 948C707.6 949.3 708.8 949.2 704.7 946.4C700.6 943.6 701.8 944.6 700.1 939.5C698.4 934.5 699.9 937.5 699.6 931.3C699.4 925 696.8 925.9 699.4 920.6C701.9 915.4 702.2 915.9 707.3 915.5C712.4 915.2 710.8 916.3 714.6 919.7C718.5 923.1 716 921.1 718.9 925.7C721.7 930.4 723.1 928 723.2 933.6Z" fill="#0893b6"/>
<path d="M733.1 945.8C734.5 950.6 738.7 951.8 736.7 955C734.8 958.3 732.8 955.6 727.2 955.6C721.6 955.5 723.3 957.1 720 954.9C716.8 952.6 719.8 952.6 717.4 948.9C714.9 945.2 712.9 947.2 712.7 943.8C712.5 940.3 714 942.8 716.8 938.4C719.6 934 717.2 931.3 721.2 930.5C725.2 929.7 725 932.7 728.8 936.1C732.6 939.5 731.2 937.4 732.6 940.7C734.1 943.9 731.7 941 733.1 945.8Z" fill="#7fc3d9"/>
<path d="M726.3 940.5C725.8 943.1 726.4 940.9 725.1 944.1C723.9 947.4 725.2 949.8 722.5 950.4C719.9 950.9 720.5 948.1 717.2 945.9C714 943.7 714.4 946 712.8 943.8C711.2 941.5 712.1 942.1 712.5 939.1C712.8 936.1 711.8 936.5 713.9 934.8C715.9 933 715 935.5 718.6 934C722.2 932.4 721.9 929.3 724.6 930C727.3 930.8 726.1 932.8 726.7 936.3C727.3 939.8 726.8 937.9 726.3 940.5Z" fill="#3fa9c8"/>
</g>
<path d="M755.8 936.7C753 948.3 754.1 941.8 748.3 952.7C742.5 963.5 748.6 962.8 738.5 969.2C728.4 975.6 731.7 970.3 718.1 971.8C704.4 973.3 709.5 977.5 697.4 973.8C685.4 970.1 691.2 970 682 960.8C672.8 951.6 675.4 957.3 669.7 946.2C664.1 935.1 664.3 939.8 665.1 927.6C665.8 915.3 663.7 918.4 672 909.5C680.4 900.6 678.7 907.2 690.1 900.9C701.5 894.6 694.3 892.7 706.2 890.6C718.2 888.4 712.4 891.3 725.8 894.6C739.2 897.8 736.1 892.5 746.4 900.3C756.8 908 753.7 905.7 756.8 917.8C759.9 929.9 758.6 925 755.8 936.7Z" fill="none" stroke="#000" stroke-width="4" stroke-linejoin="round"/>
<path d="M911.1 936.7C906.3 949.7 911.9 945.5 904 955.7C896.1 965.8 899.3 962.7 887.4 967.2C875.4 971.6 880.3 970.5 868.1 969C855.8 967.5 861.1 968.9 850.5 962.6C840 956.3 843.2 960.4 836.5 950.1C829.7 939.8 833.9 945 830.4 931.7C826.8 918.5 822.6 923 825.8 910.4C829.1 897.7 829.7 902.5 840.2 893.9C850.7 885.2 845.5 888.3 857.3 884.3C869.1 880.3 863.5 881.2 875.6 881.8C887.7 882.4 882.7 880.6 893.6 886.2C904.5 891.7 900.1 888.3 908.3 898.5C916.5 908.6 917.3 903.9 918.2 916.7C919.1 929.4 915.8 923.7 911.1 936.7Z" fill="#f3a762"/>
<g clip-path="url(#o871_924)">
<path d="M916.1 941.5C913.3 955.6 919.4 951.6 912 963.8C904.7 976 907.2 974.7 894 978C880.7 981.4 886 976.5 872.3 973.8C858.7 971.2 863.6 976.6 853.1 970.1C842.7 963.6 847.7 965.6 841 954.4C834.4 943.2 837.4 949.8 833.3 936.5C829.2 923.2 825.4 927.5 828.8 914.5C832.2 901.4 832.8 906.8 843.4 897.4C854 887.9 848.2 892.6 860.6 886.1C873 879.6 868.1 876.6 880.7 877.9C893.3 879.1 887.6 881.5 898.4 889.8C909.2 898.1 905.7 892.1 913.1 902.7C920.4 913.3 919.4 908.7 920.4 921.6C921.4 934.5 918.8 927.4 916.1 941.5Z" fill="none" stroke="#e98b30" stroke-width="9.5"/>
<path d="M908.7 929.8C906.2 943.3 907.3 940 896.8 948.9C886.4 957.7 890 952.9 877.3 956.4C864.5 959.9 871.1 959.6 858.6 959.4C846.1 959.1 850.2 962 839.8 955.7C829.4 949.5 835.3 951.4 827.5 940.6C819.7 929.9 818.4 936 816.4 923.4C814.3 910.8 816.8 915.9 821.3 902.8C825.9 889.7 821.9 895.3 830 884.1C838.2 873 833.6 874.3 845.7 869.5C857.9 864.6 854 866.3 866.4 869.6C878.8 872.8 872.2 872.5 882.9 879.2C893.6 885.9 891.5 879.9 898.5 889.6C905.6 899.4 900.8 895 904.1 908.4C907.5 921.8 911.1 916.4 908.7 929.8Z" fill="none" stroke="#f8caa2" stroke-width="12.9"/>
<path d="M901 933.6C897.7 942.4 899.5 938.3 893.5 945.5C887.5 952.7 891.1 951.5 883 955.2C874.9 958.9 877.8 958 869.1 956.6C860.4 955.3 865.8 954.9 856.9 951.2C848.1 947.6 848.2 952.7 842.6 945.7C837 938.6 840.1 940.1 840.2 930C840.3 920 839.4 924.4 842.8 915.6C846.3 906.9 844.1 910 850.5 903.8C856.9 897.7 853.9 901.2 862 897.2C870.1 893.2 865.4 893.4 874.8 891.8C884.1 890.2 882.7 887.5 890.1 892.4C897.5 897.3 892.6 897.6 897 906.6C901.5 915.5 902 910.2 903.4 919.2C904.7 928.2 904.3 924.9 901 933.6Z" fill="none" stroke="#f6b57a" stroke-width="4.3"/>
</g>
<path d="M891.8 931.9C888.7 941.5 896 939.7 891.5 947.5C887.1 955.3 887.6 953.4 878.6 955.3C869.5 957.1 872.8 956.5 864.4 953.1C856 949.7 857.3 952.3 853.4 945C849.5 937.7 855.9 940.5 852.7 931.2C849.6 921.9 842.9 925.2 844 917.1C845.1 909 848.3 912.9 856.1 906.8C863.9 900.8 859.1 901.6 867.4 898.9C875.8 896.1 873.3 895.6 881.3 898.6C889.2 901.5 884.8 901.1 891.3 907.8C897.8 914.5 900.7 910.7 900.8 918.7C901 926.7 894.9 922.3 891.8 931.9Z" fill="#fff"/>
<g clip-path="url(#on871_924)">
<path d="M887.5 930.5C884.9 938.5 891.7 937.3 888.4 943.9C885.1 950.5 885.1 948.9 877.6 950.4C870.1 951.9 872.8 951.3 865.9 948.3C859 945.4 859.8 947.7 856.9 941.6C854 935.5 860 937.7 857.2 930C854.4 922.3 847.8 925 848.5 918.5C849.2 911.9 852.6 915.3 859.2 910.4C865.8 905.5 861.5 906 868.4 903.7C875.3 901.3 873.3 900.8 879.8 903.3C886.3 905.8 882.4 905.7 887.8 911.2C893.3 916.7 896.3 913.5 896.2 919.9C896.1 926.3 890.1 922.5 887.5 930.5Z" fill="#0893b6"/>
<path d="M874.4 927.3C872.6 934.8 872.8 932.7 867.7 938.4C862.6 944 864.5 943.4 859 944.3C853.6 945.2 855 945.4 851.4 941C847.9 936.6 848.9 938.2 848.5 931.2C848.1 924.1 848.5 928.1 850.3 919.9C852.1 911.6 849.5 912.6 853.9 906.3C858.2 900.1 858 900.8 863.4 901C868.8 901.2 866.9 902 870 906.9C873.2 911.9 871.5 909 872.9 915.8C874.3 922.6 876.1 919.8 874.4 927.3Z" fill="#007c9f"/>
<path d="M878.4 927.3C877.8 934.5 881.2 936.2 877.9 940.8C874.5 945.4 873.9 941.6 868.4 941C863 940.3 864.1 942.6 861.5 938.8C858.8 935.1 861.5 935.7 860.4 929.7C859.2 923.8 856.9 926.5 858.1 921C859.3 915.6 859.6 919.3 864 913.4C868.4 907.4 866.9 903.8 871.3 903.2C875.7 902.6 874.4 906.3 877.2 911.6C880 916.9 879.3 913.8 879.7 919.1C880.1 924.3 879 920.1 878.4 927.3Z" fill="#0893b6"/>
<path d="M891.6 940.9C890.1 944.7 891.6 941.5 889 946C886.3 950.6 887.2 954.4 883.6 954.7C879.9 954.9 881.6 950.8 878 946.7C874.5 942.7 874.3 946.2 873 942.5C871.6 938.7 872.6 939.8 874 935.5C875.4 931.1 874 931.3 877.2 929.3C880.5 927.2 878.5 930.7 883.7 929.2C888.9 927.8 889.5 923 892.8 924.9C896.1 926.7 893.9 929.3 893.5 934.7C893.1 940 893.1 937.1 891.6 940.9Z" fill="#7fc3d9"/>
<path d="M887.8 935.5C886.6 939.1 887.2 939.8 884.3 940.2C881.5 940.6 882.5 936.9 879.2 936.7C876 936.6 877.8 939.9 874.5 939.9C871.3 939.8 870.9 939.9 869.4 936.6C867.9 933.4 867.8 932.7 870.1 930.1C872.5 927.5 873.4 930.6 876.4 928.8C879.5 927.1 877 925.4 879.3 924.7C881.6 924 880.5 925.1 883.4 926.7C886.3 928.4 886.5 926.7 888 929.6C889.4 932.5 889 932 887.8 935.5Z" fill="#3fa9c8"/>
</g>
<path d="M911.1 936.7C906.3 949.7 911.9 945.5 904 955.7C896.1 965.8 899.3 962.7 887.4 967.2C875.4 971.6 880.3 970.5 868.1 969C855.8 967.5 861.1 968.9 850.5 962.6C840 956.3 843.2 960.4 836.5 950.1C829.7 939.8 833.9 945 830.4 931.7C826.8 918.5 822.6 923 825.8 910.4C829.1 897.7 829.7 902.5 840.2 893.9C850.7 885.2 845.5 888.3 857.3 884.3C869.1 880.3 863.5 881.2 875.6 881.8C887.7 882.4 882.7 880.6 893.6 886.2C904.5 891.7 900.1 888.3 908.3 898.5C916.5 908.6 917.3 903.9 918.2 916.7C919.1 929.4 915.8 923.7 911.1 936.7Z" fill="none" stroke="#000" stroke-width="4" stroke-linejoin="round"/>
<path d="M979.6 962.7C975.6 977.1 980.9 971.5 974.3 984.2C967.7 996.8 970.8 995 959.9 1000.7C948.9 1006.5 953 1002.7 941.5 1001.4C930 1000 934.8 1002.6 925.5 996.8C916.2 991 918.9 994.6 913.5 984C908.1 973.4 912.7 978.6 909.3 965C905.8 951.4 901.1 957.1 903.2 943.2C905.3 929.3 906 933.7 915.5 923.3C925 913 920.7 918.3 931.8 912.1C942.8 906 937.7 905.3 948.6 905C959.5 904.6 955 905 964.4 911.1C973.8 917.3 969.4 913.5 976.7 923.5C984 933.4 985.4 927.9 986.3 941C987.2 954 983.6 948.3 979.6 962.7Z" fill="#f3a762"/>
<g clip-path="url(#o945_953)">
<path d="M989.9 969.2C986.1 984.3 988.4 978.2 979.9 990.9C971.3 1003.5 975.6 1004 964.2 1007.2C952.8 1010.3 958 1000.8 945.8 1000.4C933.5 1000 937.9 1008.8 927.4 1006C916.9 1003.1 921.2 1003.2 914.4 991.8C907.6 980.4 909.4 986.3 907.1 971.8C904.7 957.3 903.6 963.1 907.4 948.2C911.1 933.3 908.9 937.5 918.3 927.2C927.7 916.9 924.1 925.2 935.7 917.2C947.2 909.2 942.3 903.1 952.9 903.1C963.6 903.2 957.9 909.5 967.6 917.4C977.4 925.3 974.3 917.5 982.1 926.9C990 936.3 988.7 931.4 991.2 945.5C993.8 959.7 993.6 954.1 989.9 969.2Z" fill="none" stroke="#e98b30" stroke-width="8.5"/>
<path d="M976.3 954.2C971.3 967.7 972.2 961.5 963.2 971.6C954.3 981.7 959.5 976.9 949.4 984.4C939.2 991.9 944.2 992.1 932.8 994.1C921.5 996.2 926.3 995.6 915.4 990.4C904.6 985.3 906.6 990 900.3 978.7C894 967.3 896.4 971.1 896.5 956.5C896.7 941.9 896.9 948.9 900.7 934.9C904.5 920.8 900.5 925.9 907.8 914.3C915.1 902.7 911.9 906 922.6 900.1C933.4 894.2 928.4 897.3 940 896.5C951.7 895.7 947.5 892.6 957.6 897.7C967.7 902.7 963.3 900.6 970.3 911.7C977.2 922.8 976.4 916.8 978.4 930.9C980.5 945.1 981.4 940.6 976.3 954.2Z" fill="none" stroke="#f8caa2" stroke-width="11.5"/>
<path d="M973.2 961.1C972.1 972 975.1 971.4 968.7 978.3C962.2 985.3 962.6 978.7 953.9 981.9C945.2 985.1 950 987.2 942.5 987.9C935 988.6 938.2 988 931.3 984C924.4 980 927.3 982.9 921.9 976C916.5 969 916.6 972.9 915 963.2C913.4 953.4 913.3 956.3 917.1 946.7C920.8 937.1 920.6 943.5 926.2 934.4C931.9 925.3 927 924 934.1 919.3C941.1 914.7 939.2 919.1 947.5 920.3C955.8 921.6 952.1 919.3 958.9 923.2C965.7 927.1 963.5 924.6 967.8 932C972.2 939.4 970.1 935.8 971.9 945.5C973.7 955.1 974.3 950.1 973.2 961.1Z" fill="none" stroke="#f6b57a" stroke-width="3.8"/>
</g>
<path d="M966 960.5C963.1 970.9 967.4 967.7 962.3 976C957.3 984.2 958.8 982.7 950.8 985.2C942.9 987.8 945.6 986.7 938.6 983.6C931.5 980.4 934.2 982.3 929.6 975.8C925 969.3 928.3 973.1 924.9 964C921.4 954.9 917.6 958.2 919.2 948.5C920.8 938.9 922.2 941.7 929.6 935.2C937 928.7 933.6 931.5 941.3 929.1C949 926.7 945.4 926.6 952.7 928C960 929.4 957.1 927.6 963.2 933.2C969.3 938.8 970.1 935.7 971 944.8C971.9 953.9 968.9 950.1 966 960.5Z" fill="#fff"/>
<g clip-path="url(#on945_953)">
<path d="M962 959.5C959.5 968.1 963.5 965.5 959.5 972.4C955.5 979.3 956.5 978.2 950 980.1C943.4 982.1 945.6 981.1 939.9 978.3C934.2 975.6 936.4 977.2 932.8 971.8C929.1 966.5 932.1 969.7 929 962.3C925.8 954.9 922.2 957.5 923.3 949.6C924.4 941.7 926.1 943.8 932.4 938.7C938.7 933.5 935.8 935.9 942.2 934.1C948.5 932.3 945.5 932.2 951.4 933.2C957.4 934.3 954.9 932.8 960 937.2C965.2 941.7 966.2 939.2 966.8 946.6C967.4 954 964.4 950.8 962 959.5Z" fill="#0893b6"/>
<path d="M944.6 954.7C943.5 964.2 946.4 965.1 942.7 971.6C939 978.1 938.9 973.9 933.5 974.2C928.1 974.5 929.3 976.8 926.5 972.4C923.7 968 926.1 968.7 925.2 961C924.3 953.3 922.2 957 923.8 949.4C925.4 941.7 925.3 946.1 929.9 938.1C934.6 930 933.1 926.6 937.7 925.1C942.3 923.6 940.8 927.6 943.6 933.6C946.4 939.6 945.8 936.1 946.2 943.1C946.5 950.1 945.8 945.2 944.6 954.7Z" fill="#007c9f"/>
<path d="M951.1 955.9C949.3 962.1 951 957.4 947.8 964.5C944.5 971.5 945.3 976 941.5 977.1C937.7 978.2 939.6 972.9 936.5 967.9C933.3 962.9 933 967.7 932 962.2C931 956.7 931.7 958.3 933.5 951.4C935.3 944.5 934 945.4 937.5 941.4C940.9 937.4 938.8 942.4 943.9 939.4C949.1 936.4 949.8 930.3 952.9 932.5C956 934.7 953.9 938.2 953.3 946C952.7 953.8 953 949.7 951.1 955.9Z" fill="#0893b6"/>
<path d="M966.3 971.6C964.8 977.1 965.5 978.1 961.9 979.1C958.3 980.1 959.6 974.3 955.4 974.6C951.3 974.9 953.6 979.5 949.5 979.9C945.3 980.3 944.8 980.5 943 975.8C941.1 971.1 940.9 970.1 943.9 965.9C946.8 961.7 948 966.2 951.9 963.2C955.8 960.1 952.6 958 955.5 956.6C958.5 955.3 957.1 957 960.7 959C964.4 961.1 964.7 958.5 966.5 962.7C968.4 966.9 967.8 966.2 966.3 971.6Z" fill="#7fc3d9"/>
<path d="M960.4 965.1C960.3 967.4 957.7 965.4 954.7 967.9C951.8 970.4 953.9 971.8 951.5 972.6C949.1 973.4 950.7 971.7 947.6 970.2C944.5 968.7 941.7 970.8 942.1 968.1C942.5 965.4 947.1 966.3 948.7 962.1C950.3 957.9 945.9 958.4 946.9 955.4C947.8 952.4 948.3 953.9 951.6 953.1C954.9 952.3 955.7 950.4 956.9 953C958 955.5 953.9 956.8 955 960.9C956.2 964.9 960.5 962.8 960.4 965.1Z" fill="#3fa9c8"/>
</g>
<path d="M979.6 962.7C975.6 977.1 980.9 971.5 974.3 984.2C967.7 996.8 970.8 995 959.9 1000.7C948.9 1006.5 953 1002.7 941.5 1001.4C930 1000 934.8 1002.6 925.5 996.8C916.2 991 918.9 994.6 913.5 984C908.1 973.4 912.7 978.6 909.3 965C905.8 951.4 901.1 957.1 903.2 943.2C905.3 929.3 906 933.7 915.5 923.3C925 913 920.7 918.3 931.8 912.1C942.8 906 937.7 905.3 948.6 905C959.5 904.6 955 905 964.4 911.1C973.8 917.3 969.4 913.5 976.7 923.5C984 933.4 985.4 927.9 986.3 941C987.2 954 983.6 948.3 979.6 962.7Z" fill="none" stroke="#000" stroke-width="4" stroke-linejoin="round"/>
<path d="M837.1 974.6C839.1 987.1 841.6 982.1 838 994.8C834.5 1007.5 837.5 1006.3 826.5 1012.6C815.5 1018.9 818.5 1011.7 805.1 1013.7C791.6 1015.7 797.3 1021.4 786.1 1018.6C775 1015.8 780.5 1014.2 771.6 1005.4C762.7 996.7 765.8 1002.6 759.3 992.3C752.9 982.1 753 986.8 752.3 974.6C751.5 962.4 751.5 967.1 757 955.8C762.6 944.4 759.7 950.5 769 940.6C778.4 930.7 773.1 927.6 785.1 926.1C797.1 924.5 792.7 930.5 805 935.9C817.3 941.3 812.9 935.2 821.9 942.3C831 949.4 827.1 946.5 832.1 957.3C837.2 968.1 835.1 962.1 837.1 974.6Z" fill="#f3a762"/>
<g clip-path="url(#o796_974)">
<path d="M849.8 978.9C852.5 991.2 850.2 987.9 842.8 999.3C835.5 1010.7 838.4 1004.7 827.8 1013.2C817.2 1021.7 823.5 1021 810.9 1024.8C798.3 1028.7 802.6 1028.6 790 1024.7C777.5 1020.7 784 1021.4 773.3 1013C762.7 1004.5 761.7 1010.7 758.1 999.3C754.6 988 762 992.2 762.7 978.9C763.3 965.7 758.2 972.9 760.1 959.5C762 946.1 758.5 947.8 768.3 938.6C778.2 929.4 775.7 933 789.7 931.9C803.8 930.9 797.8 931.1 810.4 935.4C823 939.7 819.5 935.9 827.6 944.9C835.7 953.9 827.3 951.1 834.8 962.4C842.2 973.7 847.2 966.6 849.8 978.9Z" fill="none" stroke="#e98b30" stroke-width="9.5"/>
<path d="M832.9 966C835 978.1 833.3 973.7 827.5 985.6C821.6 997.6 825.6 994.2 815.3 1001.9C805 1009.6 809.2 1006.9 796.5 1008.8C783.7 1010.8 788.7 1011.7 777.1 1007.8C765.6 1003.9 773.1 1004.1 761.9 997.1C750.7 990.1 749.5 997.1 743.7 986.7C737.8 976.4 743.5 979.4 744.3 966C745.1 952.6 741.1 958 746 946.4C750.9 934.8 748.7 939.2 759 931.3C769.3 923.4 764.4 925.2 776.8 922.7C789.2 920.2 783.6 921.3 796.3 923.9C809 926.5 806.6 922.1 814.9 930.5C823.3 939 815.4 937.5 821.4 949.3C827.4 961.1 830.9 953.9 832.9 966Z" fill="none" stroke="#f8caa2" stroke-width="12.9"/>
<path d="M828 974.6C827.5 983.9 829.6 981.3 824.5 988.2C819.4 995.1 819.7 989.5 812.7 995.3C805.6 1001.2 811.2 1002.2 803.3 1005.8C795.4 1009.3 797.9 1008.2 789 1005.9C780.2 1003.7 783.8 1004.9 776.7 999C769.6 993.1 771.8 996.4 767.8 988.3C763.8 980.2 764.2 983.5 764.7 974.6C765.2 965.7 765.7 970.3 769.3 961.7C772.9 953 768.5 953.4 775.4 948.6C782.3 943.8 780.8 948.3 789.9 947.3C799 946.3 793.9 945.1 802.8 945.7C811.6 946.3 808.7 944.3 816.4 949.2C824.1 954.1 822 951.8 825.8 960.3C829.7 968.8 828.5 965.3 828 974.6Z" fill="none" stroke="#f6b57a" stroke-width="4.3"/>
</g>
<path d="M823.8 975.9C825.2 984.5 825.8 982.6 821.1 990.1C816.4 997.5 817.7 994 809.7 998.3C801.7 1002.5 805.4 1003 797 1002.8C788.7 1002.7 792.2 1002.3 784.6 997.7C777.1 993.2 778.3 996.5 774.4 989.2C770.4 981.9 772.6 984.7 772.7 975.9C772.9 967.1 771.5 971.3 774.7 962.8C778 954.4 775.2 954.9 782.6 950.5C790 946.1 788 948.5 797 949.6C806 950.7 802.9 949 809.5 953.8C816.2 958.7 812.2 956.9 816.9 964.2C821.7 971.6 822.4 967.3 823.8 975.9Z" fill="#fff"/>
<g clip-path="url(#on796_974)">
<path d="M819.1 975.9C820.5 982.9 821 981.6 817.1 987.7C813.2 993.8 814.1 990.7 807.4 994.2C800.7 997.6 803.8 998.3 797 998.1C790.2 997.9 793.1 997.4 786.9 993.6C780.7 989.9 781.6 992.7 778.4 986.8C775.2 980.9 777.3 983.1 777.4 975.9C777.5 968.7 776.2 972.3 778.8 965.2C781.3 958.1 778.9 958.3 784.9 954.6C791 951 789.6 953.2 797 954.3C804.4 955.4 801.9 953.9 807.2 957.9C812.5 962 809 960.6 812.9 966.6C816.9 972.5 817.7 968.9 819.1 975.9Z" fill="#0893b6"/>
<path d="M796.3 973.3C796 980.4 796.6 975.6 794.7 983.6C792.7 991.5 794.8 994.8 790.5 997.1C786.1 999.4 787 994.4 781.7 990.4C776.5 986.4 777.6 990.8 774.8 985.1C771.9 979.4 773 981.1 773.1 973.3C773.1 965.5 771.9 967.1 774.9 961.7C777.9 956.3 776.7 961.2 781.9 957.1C787.1 953 786 947.6 790.5 949.3C795 951 793.6 954.1 795.5 962.1C797.4 970.1 796.6 966.1 796.3 973.3Z" fill="#007c9f"/>
<path d="M807 974.6C806.9 981.5 808 982 804.3 984.8C800.6 987.6 800.6 981.2 795.9 982.9C791.2 984.6 794.9 988.7 790.3 989.8C785.6 991 785.4 991.5 782 986.4C778.5 981.3 778.2 980.6 780 974.6C781.9 968.5 784 973.2 787.5 968.2C790.9 963.3 787.1 962.2 790.4 959.8C793.6 957.3 792.4 959.4 797.2 960.8C802 962.3 801.4 959.4 804.7 964C807.9 968.6 807.2 967.7 807 974.6Z" fill="#0893b6"/>
<path d="M822.2 987.7C823 990.5 818.2 988.9 814.7 992.8C811.2 996.7 814.9 997.7 811.6 999.3C808.2 1001 810.1 998.5 804.7 997.6C799.4 996.8 796 1000.1 795.5 996.8C795.1 993.5 802.5 993.2 803.3 987.7C804.1 982.2 797.6 984.2 797.9 980.4C798.2 976.5 799.4 978.2 804.2 976.2C808.9 974.2 809.4 971.7 812.1 974.4C814.9 977.1 809.1 979.9 812.4 984.4C815.8 988.8 821.4 984.9 822.2 987.7Z" fill="#7fc3d9"/>
<path d="M808.9 982.5C808.1 985.8 809.8 983.6 809 986.5C808.1 989.5 809 989.9 806.3 991.3C803.6 992.8 803.5 992.6 800.8 990.9C798.1 989.3 800.2 989.2 798.2 986.3C796.3 983.5 795.2 985.2 795 982.5C794.9 979.8 795.7 980.5 797.8 978.3C799.9 976 798.5 977.2 801.3 975.8C804.1 974.3 802.9 973.6 806.2 974C809.5 974.3 810.4 973.9 811.3 976.7C812.2 979.5 809.7 979.2 808.9 982.5Z" fill="#3fa9c8"/>
</g>
<path d="M837.1 974.6C839.1 987.1 841.6 982.1 838 994.8C834.5 1007.5 837.5 1006.3 826.5 1012.6C815.5 1018.9 818.5 1011.7 805.1 1013.7C791.6 1015.7 797.3 1021.4 786.1 1018.6C775 1015.8 780.5 1014.2 771.6 1005.4C762.7 996.7 765.8 1002.6 759.3 992.3C752.9 982.1 753 986.8 752.3 974.6C751.5 962.4 751.5 967.1 757 955.8C762.6 944.4 759.7 950.5 769 940.6C778.4 930.7 773.1 927.6 785.1 926.1C797.1 924.5 792.7 930.5 805 935.9C817.3 941.3 812.9 935.2 821.9 942.3C831 949.4 827.1 946.5 832.1 957.3C837.2 968.1 835.1 962.1 837.1 974.6Z" fill="none" stroke="#000" stroke-width="4" stroke-linejoin="round"/>
<path d="M756 1022.3C748.9 1032.3 749.6 1025.7 739.4 1032.8C729.3 1040 736.3 1039.6 725.6 1043.7C714.8 1047.8 719.2 1046.8 707.2 1045.1C695.2 1043.3 699.9 1045.2 689.6 1038.5C679.3 1031.8 681.8 1035.6 676.2 1024.8C670.6 1014.1 673 1018.6 672.7 1006.3C672.4 994.1 671.8 1000.3 675.4 988.2C678.9 976.1 674.1 977.3 683.3 970C692.6 962.7 690.6 967.4 703.1 966.3C715.6 965.1 709.3 964.6 720.8 966.7C732.3 968.8 727.3 966.5 737.6 972.5C747.9 978.5 743.9 974.7 751.6 984.7C759.3 994.8 759.2 990.2 760.7 1002.7C762.2 1015.2 763.1 1012.2 756 1022.3Z" fill="#f3a762"/>
<g clip-path="url(#o714_1004)">
<path d="M754.1 1023.8C748.3 1035 754.1 1030.3 746.6 1040.3C739.1 1050.3 743.5 1048.9 731.5 1053.7C719.5 1058.5 724.2 1056.8 710.5 1054.6C696.8 1052.5 699.9 1056.2 690.5 1047.3C681.1 1038.4 685.9 1040.3 682.3 1028C678.7 1015.7 681.7 1022.7 679.7 1010.4C677.7 998 673.4 1002.7 676.3 990.9C679.2 979.2 678.4 983.2 688.4 975.1C698.3 966.9 693.6 970.2 706.2 966.4C718.8 962.7 713.8 961.3 726.2 963.9C738.7 966.5 732.7 966.4 743.6 974.2C754.5 982 752.2 976.4 758.9 987.2C765.7 998.1 765.4 994.7 763.7 1006.9C762.1 1019.1 759.8 1012.7 754.1 1023.8Z" fill="none" stroke="#e98b30" stroke-width="9.3"/>
<path d="M740.4 1011.3C735.3 1022.3 740.2 1017.6 732.7 1027.4C725.1 1037.2 729.6 1036.4 717.8 1040.6C706 1044.9 710.4 1042.9 697.3 1040.2C684.3 1037.4 687.7 1040.9 678.6 1032.5C669.5 1024 674.3 1026.4 670.1 1014.8C665.8 1003.3 668 1009.9 665.9 997.9C663.7 985.9 660.5 990.4 663.7 978.9C666.8 967.3 665.5 970.9 675.4 963.2C685.2 955.5 680.8 959.2 693.2 955.8C705.5 952.4 700.3 950.8 712.4 953C724.5 955.3 718.9 955.1 729.4 962.6C739.9 970.1 737.7 964.9 744 975.6C750.2 986.2 749.3 982.6 748.1 994.5C747 1006.4 745.6 1000.4 740.4 1011.3Z" fill="none" stroke="#f8caa2" stroke-width="12.7"/>
<path d="M743 1016.8C742.7 1025.7 743.7 1023.7 737.3 1030.4C730.8 1037.1 732.9 1036 723.6 1036.9C714.3 1037.9 717.8 1036.5 709.3 1033.2C700.7 1029.9 703.7 1032.7 697.9 1027.1C692 1021.6 697.4 1023.6 691.7 1016.6C686 1009.6 682.7 1014 680.8 1006C679 998.1 681.7 1000.8 686.1 992.7C690.5 984.7 687.5 987.9 694 982C700.5 976 697 977.8 705.6 974.8C714.2 971.8 711.1 970.9 719.7 972.9C728.3 975 724.5 975 731.4 980.9C738.4 986.8 738.3 983 740.6 990.6C742.9 998.2 737.4 994.9 738.2 1003.6C739 1012.3 743.3 1007.8 743 1016.8Z" fill="none" stroke="#f6b57a" stroke-width="4.2"/>
</g>
<path d="M736.5 1014.9C735 1023.5 738.6 1023.2 732.6 1029C726.6 1034.9 727.5 1032.3 718.4 1032.4C709.2 1032.5 712.5 1033.4 705.2 1029.3C697.8 1025.2 701.2 1026.8 696.3 1020C691.4 1013.2 692.2 1017 690.5 1008.9C688.8 1000.8 687.9 1003.1 691.3 995.8C694.7 988.5 694 992.8 700.7 986.9C707.5 981.1 703.3 980.2 711.6 978.3C719.9 976.3 717.8 976.9 725.6 981C733.4 985.2 731.3 983.3 735.1 990.7C739 998.1 736.6 995.1 737.1 1003.1C737.5 1011.2 737.9 1006.3 736.5 1014.9Z" fill="#fff"/>
<g clip-path="url(#on714_1004)">
<path d="M732.3 1013.1C731.4 1020.3 734.6 1020.4 729.8 1025.3C725 1030.2 725.4 1027.9 717.8 1027.8C710.2 1027.7 712.9 1028.6 707 1025.1C701 1021.6 703.9 1022.9 699.9 1017.3C696 1011.7 696.5 1014.9 695 1008.3C693.5 1001.8 692.7 1003.5 695.5 997.6C698.3 991.7 697.9 995.4 703.5 990.5C709 985.6 705.4 984.6 712.2 982.8C719 981.1 717.4 981.7 723.8 985.2C730.2 988.8 728.6 987.3 731.5 993.5C734.4 999.6 732.3 997.1 732.6 1003.7C732.8 1010.3 733.2 1005.9 732.3 1013.1Z" fill="#0893b6"/>
<path d="M716.5 1008.8C713.3 1016.3 714.2 1016.7 709.2 1018.8C704.1 1020.8 706.9 1015.1 701.4 1015C696 1015 697.7 1020 692.9 1018.6C688 1017.3 687.8 1018 686.9 1011C685.9 1004 685.8 1003.7 690.1 997.6C694.5 991.5 694.2 996.7 699.8 992.6C705.5 988.5 702.5 986.4 707.1 985.3C711.6 984.2 709.6 985.5 713.6 989.2C717.6 992.9 718.1 989.8 719 996.3C720 1002.8 719.8 1001.3 716.5 1008.8Z" fill="#007c9f"/>
<path d="M725.4 1010.2C724.3 1014.4 721.4 1010.8 716.1 1014.2C710.8 1017.7 713.6 1020 709.4 1020.6C705.3 1021.2 708.1 1019.2 703.6 1016C699.1 1012.7 695 1015.3 696 1010.8C697 1006.2 703.1 1008.8 706.6 1002.3C710.1 995.8 703.8 996 706.4 991.4C709.1 986.9 709.1 989.1 714.6 988.7C720.1 988.2 721.4 985.6 722.9 990C724.5 994.3 718.4 995.1 719.2 1001.8C720 1008.6 726.4 1006.1 725.4 1010.2Z" fill="#0893b6"/>
<path d="M732.6 1020.2C729.9 1023.8 733.2 1022 730.6 1025.2C727.9 1028.5 728.9 1029.4 724.7 1029.8C720.4 1030.2 720.4 1029.8 717.9 1026.3C715.3 1022.8 718 1023.8 717.1 1019.3C716.1 1014.7 713.8 1016.2 715 1012.7C716.2 1009.3 716.9 1010.6 720.7 1009C724.6 1007.3 722.2 1008 726.6 1007.8C730.9 1007.5 729.6 1006 733.7 1008.1C737.7 1010.3 739.1 1010.3 738.7 1014.3C738.3 1018.3 735.3 1016.5 732.6 1020.2Z" fill="#7fc3d9"/>
<path d="M730 1015.8C729.5 1019 729.4 1020 726.4 1020.4C723.4 1020.8 724.5 1017.6 721 1017C717.5 1016.3 718.2 1019.6 715.9 1018.5C713.6 1017.5 714.6 1016.9 714.2 1013.9C713.7 1010.8 713.5 1012 714.6 1009.3C715.7 1006.6 714.9 1008.1 717.5 1005.7C720 1003.2 720 1001 722.3 1002C724.6 1003 722.6 1005.8 724.5 1008.7C726.4 1011.6 726.1 1008.3 727.9 1010.7C729.7 1013.1 730.5 1012.6 730 1015.8Z" fill="#3fa9c8"/>
</g>
<path d="M756 1022.3C748.9 1032.3 749.6 1025.7 739.4 1032.8C729.3 1040 736.3 1039.6 725.6 1043.7C714.8 1047.8 719.2 1046.8 707.2 1045.1C695.2 1043.3 699.9 1045.2 689.6 1038.5C679.3 1031.8 681.8 1035.6 676.2 1024.8C670.6 1014.1 673 1018.6 672.7 1006.3C672.4 994.1 671.8 1000.3 675.4 988.2C678.9 976.1 674.1 977.3 683.3 970C692.6 962.7 690.6 967.4 703.1 966.3C715.6 965.1 709.3 964.6 720.8 966.7C732.3 968.8 727.3 966.5 737.6 972.5C747.9 978.5 743.9 974.7 751.6 984.7C759.3 994.8 759.2 990.2 760.7 1002.7C762.2 1015.2 763.1 1012.2 756 1022.3Z" fill="none" stroke="#000" stroke-width="4" stroke-linejoin="round"/>
<path d="M909.7 1020.1C908.8 1032.8 911.4 1028.2 905.6 1039.2C899.8 1050.1 902.4 1045.7 892.3 1052.9C882.3 1060.1 887.4 1058.1 875.5 1060.7C863.6 1063.4 867.4 1065.5 856.6 1060.9C845.8 1056.4 853.1 1056.1 843.1 1047.1C833.1 1038.1 831.7 1045.8 826.6 1034C821.5 1022.3 823.7 1024.9 827.8 1011.8C831.8 998.8 831.2 1005.1 838.7 995C846.3 984.8 841.2 988.9 850.4 981.4C859.5 973.9 854.7 975.7 866.1 972.5C877.6 969.3 871.7 970.1 884.8 971.8C897.8 973.6 897.4 968 905.2 977.7C913 987.4 906.8 986.9 908.3 1001C909.8 1015.1 910.6 1007.3 909.7 1020.1Z" fill="#f3a762"/>
<g clip-path="url(#o870_1016)">
<path d="M923.9 1025.6C922.2 1039.1 919.4 1032.6 911.1 1044.6C902.8 1056.7 909.6 1055.4 899 1061.8C888.5 1068.2 892 1063.2 879.5 1063.8C867 1064.3 873.6 1065.9 861.4 1063.4C849.2 1061 852.8 1064.9 842.9 1056.4C833 1048 835 1051.5 831.7 1038.2C828.5 1024.8 832.2 1031.2 833.2 1016.5C834.2 1001.8 828.3 1005.4 834.8 994.1C841.3 982.9 841 989.8 852.7 982.8C864.4 975.8 857.8 975.1 869.9 973.1C881.9 971.1 877.5 971.5 888.8 976.7C900.1 981.9 894.6 979.5 903.7 988.6C912.8 997.7 909.5 991.7 916.2 1004C923 1016.3 925.6 1012.1 923.9 1025.6Z" fill="none" stroke="#e98b30" stroke-width="9.1"/>
<path d="M908.3 1011.8C907.9 1024.4 904.4 1018.5 896.7 1030.3C889 1042.1 895.2 1039.6 885.1 1047.1C875 1054.7 879 1051.5 866.5 1053C854 1054.5 858.9 1056 847.6 1051.6C836.3 1047.1 841.4 1048.9 832.6 1039.5C823.7 1030.2 823.5 1035.6 820.9 1023.5C818.4 1011.5 824.2 1017.4 824.8 1003.4C825.5 989.4 818.6 993.8 822.9 981.5C827.3 969.2 826.7 974.1 837.9 966.5C849 959 844.1 959.5 856.5 958.8C868.9 958.1 863.9 958.9 875.1 964.4C886.3 969.9 882.5 965.9 890.1 975.3C897.7 984.7 891.8 980.3 897.8 992.4C903.9 1004.6 908.6 999.1 908.3 1011.8Z" fill="none" stroke="#f8caa2" stroke-width="12.5"/>
<path d="M900.9 1019.2C898.1 1027.8 896.3 1021.6 891.9 1030.1C887.5 1038.7 893.5 1038.7 887.6 1044.9C881.7 1051.1 883 1048.4 874.2 1048.7C865.5 1049 869.6 1048.9 861.4 1045.9C853.1 1043 856.5 1045.8 849.5 1039.9C842.5 1034.1 843.4 1037.4 840.4 1028.4C837.4 1019.5 839.5 1023.3 840.5 1013.1C841.4 1002.9 837.4 1004.3 843.2 997.9C849 991.5 849.6 997.7 857.8 994C865.9 990.2 859.8 990.4 867.6 986.7C875.5 983 872.4 981.9 881.2 983C890.1 984.1 887.9 982.9 894.2 990C900.6 997.1 898.1 994.5 900.3 1004.2C902.5 1013.9 903.7 1010.5 900.9 1019.2Z" fill="none" stroke="#f6b57a" stroke-width="4.2"/>
</g>
<path d="M894.5 1019.8C893.9 1028.5 894.7 1024 890.8 1032.7C886.9 1041.4 890.2 1042 882.9 1045.9C875.6 1049.8 877.5 1046.5 868.9 1044.4C860.3 1042.3 864.3 1044.5 857.2 1039.6C850.1 1034.7 850.9 1037.8 847.7 1029.7C844.4 1021.5 845.9 1024.3 847.4 1015.1C848.8 1005.9 847 1008.7 852 1002C857.1 995.3 855.1 1000.1 862.6 995C870.2 989.8 866.3 987.3 874.7 986.5C883.1 985.8 881.8 986 887.8 992.7C893.8 999.5 890.5 997.8 892.7 1006.8C894.9 1015.8 895.1 1011.2 894.5 1019.8Z" fill="#fff"/>
<g clip-path="url(#on870_1016)">
<path d="M890.1 1019.4C889.6 1026.4 890.2 1022.6 887.2 1029.9C884.2 1037.2 887 1038.2 881.1 1041.3C875.2 1044.5 876.5 1041.4 869.4 1039.4C862.3 1037.5 865.7 1039.5 859.8 1035.5C854 1031.6 854.5 1034.2 851.8 1027.6C849.1 1020.9 850.5 1023.1 851.8 1015.5C853.1 1008 851.5 1010.2 855.7 1004.9C859.8 999.5 858.2 1003.9 864.4 999.4C870.6 995 867.3 992.4 874.2 991.5C881.1 990.7 880.3 991.1 885.1 996.8C889.9 1002.6 887 1001.4 888.6 1008.9C890.3 1016.4 890.5 1012.4 890.1 1019.4Z" fill="#0893b6"/>
<path d="M875.4 1016.3C875.4 1022.5 872.2 1019.3 867.9 1026C863.5 1032.6 866.7 1033.8 862.4 1036.2C858 1038.6 860.2 1035.7 854.8 1033.3C849.4 1030.8 846.8 1035.3 846.1 1028.9C845.4 1022.4 851.2 1023.5 852.8 1014C854.3 1004.5 848.9 1007.3 850.8 1000.4C852.6 993.5 852.9 996.2 858.4 993.4C863.9 990.6 864 987.4 867.2 992C870.4 996.6 865.3 999.1 868 1007.2C870.8 1015.3 875.5 1010 875.4 1016.3Z" fill="#007c9f"/>
<path d="M876.9 1017C875.3 1023.7 877.9 1019.8 875.8 1025.6C873.8 1031.5 875 1032.1 870.8 1034.6C866.5 1037.1 866.6 1036.8 863 1033.1C859.5 1029.5 862.1 1029.8 860 1023.7C857.8 1017.7 856.2 1020.7 856.6 1014.9C857 1009.1 857.7 1010.8 861.2 1006.3C864.6 1001.8 862.5 1003.9 866.9 1001.4C871.2 999 869.6 997.7 874.2 999C878.8 1000.4 879.8 999.5 880.7 1005.5C881.6 1011.5 878.6 1010.3 876.9 1017Z" fill="#0893b6"/>
<path d="M894.7 1031.2C895.4 1036.2 895.6 1037.7 891.9 1039.6C888.1 1041.6 888.3 1036.4 883.4 1037.1C878.5 1037.8 880.7 1042.2 877.3 1041.8C873.9 1041.3 874.9 1040.1 873.2 1035.8C871.4 1031.5 871.6 1033.5 872 1029C872.3 1024.5 871.9 1027.1 874.3 1022.3C876.7 1017.6 875.7 1014.4 879.2 1014.7C882.7 1015.1 881.1 1020 884.7 1023.4C888.3 1026.8 886.7 1022.2 890 1024.8C893.4 1027.4 894.1 1026.3 894.7 1031.2Z" fill="#7fc3d9"/>
<path d="M886 1025.3C884.7 1028.5 884.7 1027.6 882.2 1028.8C879.8 1030 881.8 1026.2 878.7 1028.9C875.5 1031.5 875.4 1036.8 872.8 1036.8C870.2 1036.9 871.2 1033.2 871 1028.9C870.7 1024.6 871.2 1026.8 872.1 1023.9C872.9 1020.9 872.2 1023.5 873.5 1020.2C874.8 1016.8 873.7 1014.2 875.8 1013.8C878 1013.4 876.6 1017.3 880 1019C883.5 1020.7 884.2 1016.9 886.2 1018.9C888.2 1021 887.3 1022 886 1025.3Z" fill="#3fa9c8"/>
</g>
<path d="M909.7 1020.1C908.8 1032.8 911.4 1028.2 905.6 1039.2C899.8 1050.1 902.4 1045.7 892.3 1052.9C882.3 1060.1 887.4 1058.1 875.5 1060.7C863.6 1063.4 867.4 1065.5 856.6 1060.9C845.8 1056.4 853.1 1056.1 843.1 1047.1C833.1 1038.1 831.7 1045.8 826.6 1034C821.5 1022.3 823.7 1024.9 827.8 1011.8C831.8 998.8 831.2 1005.1 838.7 995C846.3 984.8 841.2 988.9 850.4 981.4C859.5 973.9 854.7 975.7 866.1 972.5C877.6 969.3 871.7 970.1 884.8 971.8C897.8 973.6 897.4 968 905.2 977.7C913 987.4 906.8 986.9 908.3 1001C909.8 1015.1 910.6 1007.3 909.7 1020.1Z" fill="none" stroke="#000" stroke-width="4" stroke-linejoin="round"/>
<path d="M678.9 1048.5C680.3 1059.7 675.6 1054.3 671.7 1066.7C667.8 1079 675.2 1075.9 667.3 1085.5C659.3 1095.2 661.2 1092 647.9 1095.5C634.6 1099 640.4 1097 627.4 1096.1C614.3 1095.1 621.1 1096.3 608.8 1092.6C596.5 1088.8 599.2 1093 590.5 1084.8C581.9 1076.6 587 1080.1 582.8 1067.9C578.7 1055.8 573.4 1059.4 578 1048.4C582.6 1037.3 585 1042.6 596.7 1034.8C608.3 1026.9 601.2 1030.1 612.9 1024.8C624.7 1019.4 618.9 1019.9 632 1018.7C645.1 1017.5 640.5 1016.5 652.3 1021.2C664.1 1026 658.5 1024 667.3 1033C676.2 1042.1 677.4 1037.3 678.9 1048.5Z" fill="#f3a762"/>
<g clip-path="url(#o629_1058)">
<path d="M684.6 1052.3C688.2 1063.1 685.4 1059.8 680.1 1071.4C674.8 1083.1 677.3 1076.9 668.7 1087.2C660 1097.6 666.5 1095.3 654.1 1102.5C641.7 1109.6 646 1109.2 631.6 1108.7C617.1 1108.3 624.1 1106.9 610.8 1101.1C597.4 1095.3 597.3 1101.4 591.6 1091.3C585.9 1081.2 594.1 1083.2 593.7 1070.7C593.2 1058.3 589.7 1066 590.2 1053.9C590.8 1041.8 587.3 1045.1 595.4 1034.5C603.4 1024 600.6 1027.7 614.4 1022.3C628.3 1016.8 622 1018.4 636.9 1018.3C651.8 1018.1 648.3 1014.9 659.1 1021.8C669.9 1028.7 660.8 1028.8 669.3 1038.9C677.8 1049.1 681 1041.5 684.6 1052.3Z" fill="none" stroke="#e98b30" stroke-width="10.3"/>
<path d="M670.7 1040C674.9 1051.4 674 1048.2 668.4 1060C662.8 1071.7 664.8 1067.6 653.8 1075.2C642.8 1082.9 647.7 1077.2 635.4 1082.9C623 1088.5 629.8 1090.5 616.8 1092.2C603.8 1094 609.9 1092.3 596.3 1088.1C582.8 1083.8 583.7 1089 576.1 1079.5C568.5 1070 573.8 1072.2 573.6 1059.6C573.4 1047.1 572.2 1053.4 575.6 1041.8C579 1030.3 575.8 1035.2 583.9 1024.9C592 1014.7 587.3 1015.6 599.9 1011.1C612.4 1006.6 607.5 1010.9 621.6 1011.5C635.7 1012.1 630.8 1008.1 642.2 1012.8C653.6 1017.6 646.4 1016.7 655.9 1025.7C665.4 1034.8 666.5 1028.6 670.7 1040Z" fill="none" stroke="#f8caa2" stroke-width="14.1"/>
<path d="M663.1 1051.7C664.9 1059.2 662 1055.7 659.8 1064.4C657.5 1073 662.3 1071.2 656.4 1077.7C650.6 1084.3 651.8 1080.7 642.2 1084C632.7 1087.3 638.1 1086.3 627.9 1087.7C617.7 1089 620.5 1091.4 611.6 1088.1C602.6 1084.7 604.5 1085.6 601.1 1077.7C597.6 1069.7 602 1072.6 601.3 1064.2C600.6 1055.8 597.2 1059.9 598.9 1052.5C600.6 1045 601.1 1049.7 606.4 1041.8C611.8 1033.9 606.5 1034.4 614.9 1028.8C623.3 1023.2 621.6 1023.6 631.6 1025C641.6 1026.5 637.4 1027.6 645 1033.2C652.6 1038.8 648.4 1035.6 654.4 1041.8C660.4 1047.9 661.3 1044.1 663.1 1051.7Z" fill="none" stroke="#f6b57a" stroke-width="4.7"/>
</g>
<path d="M659.6 1053.8C661.5 1061.9 661.7 1059.5 657.7 1067.1C653.8 1074.8 655.3 1072.3 647.6 1076.8C640 1081.4 643.6 1078.9 634.8 1080.8C626.1 1082.8 631.2 1083.1 621.3 1082.7C611.4 1082.3 612 1085.3 605.2 1079.7C598.4 1074 600.4 1074.6 600.8 1065.7C601.2 1056.8 601.7 1060.3 606.4 1053C611 1045.7 608.3 1049.6 614.8 1043.8C621.2 1038 617 1038.9 625.7 1035.6C634.4 1032.4 632.1 1031.7 640.9 1034.1C649.6 1036.5 645.7 1036.3 651.9 1042.8C658.1 1049.4 657.6 1045.7 659.6 1053.8Z" fill="#fff"/>
<g clip-path="url(#on629_1058)">
<path d="M654.6 1054.8C656.2 1061.5 656.4 1059.6 653 1065.8C649.6 1072.1 650.7 1070 644.4 1073.6C638.1 1077.1 641.1 1074.9 634 1076.5C626.8 1078.1 631.3 1078.4 623 1078.4C614.7 1078.4 614.8 1081.2 609.1 1076.6C603.4 1072 605.2 1072.1 605.8 1064.7C606.5 1057.3 607 1060.2 611.1 1054.3C615.1 1048.5 612.8 1051.8 618 1047.1C623.2 1042.3 619.5 1042.9 626.6 1040C633.6 1037.1 632 1036.4 639.1 1038.4C646.3 1040.3 642.9 1040.4 648 1045.9C653.2 1051.4 652.9 1048.2 654.6 1054.8Z" fill="#0893b6"/>
<path d="M628.9 1055C629.5 1062.6 630.9 1058 630.1 1064.9C629.3 1071.7 630.9 1071.6 626.6 1075.6C622.2 1079.5 622.6 1079.1 617 1076.8C611.5 1074.5 614.5 1074.3 609.9 1068.7C605.3 1063.1 604.7 1066.6 603.2 1060.2C601.7 1053.7 602.9 1055.4 605.4 1049.3C607.8 1043.3 606.2 1045.9 610.7 1042C615.1 1038 612.8 1037.4 618.7 1037.5C624.6 1037.5 625 1036.3 628.4 1042.2C631.8 1048 628.3 1047.4 628.9 1055Z" fill="#007c9f"/>
<path d="M641.8 1055.5C644.1 1061.2 644.9 1062.4 641.5 1066.3C638.2 1070.3 636.9 1064.8 631.8 1067.4C626.6 1070.1 630.3 1073.8 626 1074.3C621.8 1074.7 622.7 1073.3 619 1068.8C615.3 1064.3 616.3 1066.5 615.1 1060.9C613.9 1055.3 614.2 1058.4 615.4 1052C616.6 1045.6 614.5 1042.8 618.6 1041.7C622.8 1040.5 622.6 1046.1 627.9 1048.6C633.2 1051 630 1046.7 634.6 1049C639.3 1051.3 639.5 1049.7 641.8 1055.5Z" fill="#0893b6"/>
<path d="M655.1 1068.2C654.4 1072.6 654 1071.5 650.8 1074C647.5 1076.5 649.1 1071.1 645.4 1075.6C641.7 1080.2 643.6 1086.5 639.7 1087.6C635.9 1088.8 635.9 1084.1 633.8 1079C631.7 1074 633.3 1076.4 633.4 1072.6C633.5 1068.8 633.5 1072.1 634.1 1067.6C634.6 1063 631.9 1060.4 635.1 1059C638.2 1057.6 637.6 1062.8 643.5 1063.4C649.5 1063.9 649.1 1059 652.9 1060.6C656.8 1062.2 655.8 1063.7 655.1 1068.2Z" fill="#7fc3d9"/>
<path d="M646.2 1064.1C646.3 1066.8 645.5 1065.7 643.9 1068.2C642.2 1070.8 643.7 1069.8 641.2 1071.7C638.7 1073.6 639.9 1073.6 636.3 1074C632.7 1074.3 632.5 1074.9 630.5 1072.7C628.5 1070.5 630.1 1070.4 630.3 1067.3C630.5 1064.2 630 1065.9 631.1 1063.4C632.3 1060.8 631.2 1061.7 633.8 1059.7C636.4 1057.7 635.6 1057.3 638.9 1057.4C642.2 1057.5 641.3 1057.7 643.7 1060C646.1 1062.2 646.2 1061.3 646.2 1064.1Z" fill="#3fa9c8"/>
</g>
<path d="M678.9 1048.5C680.3 1059.7 675.6 1054.3 671.7 1066.7C667.8 1079 675.2 1075.9 667.3 1085.5C659.3 1095.2 661.2 1092 647.9 1095.5C634.6 1099 640.4 1097 627.4 1096.1C614.3 1095.1 621.1 1096.3 608.8 1092.6C596.5 1088.8 599.2 1093 590.5 1084.8C581.9 1076.6 587 1080.1 582.8 1067.9C578.7 1055.8 573.4 1059.4 578 1048.4C582.6 1037.3 585 1042.6 596.7 1034.8C608.3 1026.9 601.2 1030.1 612.9 1024.8C624.7 1019.4 618.9 1019.9 632 1018.7C645.1 1017.5 640.5 1016.5 652.3 1021.2C664.1 1026 658.5 1024 667.3 1033C676.2 1042.1 677.4 1037.3 678.9 1048.5Z" fill="none" stroke="#000" stroke-width="4" stroke-linejoin="round"/>
<path d="M819.9 1070.5C815.7 1081.3 819.4 1075.5 813.1 1086C806.8 1096.5 811.9 1096.5 801.1 1101.9C790.2 1107.4 793.3 1104.9 780.5 1102.3C767.8 1099.7 773.8 1100.8 762.8 1094.2C751.9 1087.7 754.8 1092.4 747.8 1082.6C740.7 1072.8 744 1077.1 741.7 1064.9C739.4 1052.7 737.4 1057.4 740.9 1046.1C744.3 1034.7 742.7 1038 752.1 1030.9C761.6 1023.9 757.9 1029.5 769.3 1024.8C780.7 1020.2 773.8 1018.8 786.3 1017C798.9 1015.2 795.7 1013.3 807 1019.3C818.3 1025.4 814 1023.7 820.3 1035.1C826.5 1046.5 825.8 1041.7 825.7 1053.5C825.6 1065.3 824.1 1059.7 819.9 1070.5Z" fill="#f3a762"/>
<g clip-path="url(#o783_1059)">
<path d="M829.5 1076.3C827.7 1089.3 832.6 1086.8 824.5 1096.5C816.4 1106.3 818.3 1102.4 805.2 1105.6C792 1108.7 798.5 1106.8 784.9 1106C771.3 1105.1 775.6 1109.3 764.4 1103C753.2 1096.8 757.2 1098.6 751.4 1087.2C745.5 1075.8 748.8 1081.2 746.9 1068.9C745 1056.7 742.8 1061.8 745.7 1050.4C748.7 1038.9 748.1 1045.3 755.9 1034.6C763.7 1023.8 757.4 1025.1 769.2 1018.2C780.9 1011.4 777.9 1010.9 791.1 1014C804.3 1017.2 798.7 1018.6 808.8 1027.7C818.9 1036.8 814.4 1031.3 821.5 1041.3C828.5 1051.3 827.2 1046 829.9 1057.7C832.6 1069.3 831.3 1063.3 829.5 1076.3Z" fill="none" stroke="#e98b30" stroke-width="9.5"/>
<path d="M814.8 1063.6C811.2 1075.6 816 1073.5 807.2 1080.9C798.3 1088.3 800.4 1080.3 788.3 1085.7C776.2 1091 783.1 1095.9 770.9 1096.9C758.6 1098 763.1 1096 751.6 1088.9C740.2 1081.7 742.9 1086.2 736.6 1075.4C730.2 1064.7 733.6 1068.9 732.5 1056.5C731.5 1044.2 729.6 1049.2 733.5 1038.4C737.3 1027.5 736.8 1034.6 744.2 1024C751.6 1013.3 744.8 1011 755.7 1006.4C766.5 1001.9 763.3 1008 776.7 1010.3C790.2 1012.6 785.1 1007.6 796.1 1013.4C807.1 1019.1 802.4 1017 809.7 1027.5C817 1038.1 816.4 1032.9 818.1 1044.9C819.8 1057 818.5 1051.6 814.8 1063.6Z" fill="none" stroke="#f8caa2" stroke-width="12.9"/>
<path d="M811.7 1068C810.7 1077.4 815.7 1076.5 810.4 1083.5C805.1 1090.6 805.3 1088.4 795.8 1089.1C786.2 1089.8 790.5 1087.6 781.7 1085.6C772.9 1083.6 776.7 1086.8 769.4 1083.1C762.2 1079.4 765.9 1081.2 759.9 1074.6C754 1068.1 755.3 1072.3 751.5 1063.6C747.8 1054.8 745.3 1056.5 748.7 1048.5C752.1 1040.5 753.9 1045.1 761.8 1039.6C769.6 1034.2 764.3 1035.8 772.3 1032.1C780.2 1028.4 777.1 1027.4 785.5 1028.4C794 1029.4 790.1 1030.3 797.7 1035.1C805.3 1039.9 803.2 1036.1 808.5 1042.8C813.8 1049.5 812.5 1046.8 813.5 1055.2C814.6 1063.5 812.8 1058.5 811.7 1068Z" fill="none" stroke="#f6b57a" stroke-width="4.3"/>
</g>
<path d="M811.7 1068.9C810 1076.6 808.7 1073.7 801.4 1078.6C794.1 1083.5 798.1 1081.1 789.8 1083.6C781.5 1086.2 784.7 1088 776.4 1086.2C768.1 1084.4 771.3 1084.8 764.9 1078.2C758.4 1071.6 757.2 1074.4 757.1 1066.4C756.9 1058.5 761.1 1062.5 764.4 1054.3C767.7 1046.2 762.4 1049.1 766.9 1042C771.4 1034.9 769.5 1035.1 777.8 1033C786.2 1030.9 783.5 1032.3 792 1035.7C800.5 1039.1 798.6 1036.5 803.4 1043.1C808.1 1049.8 803.5 1047.1 806.3 1055.7C809 1064.3 813.3 1061.3 811.7 1068.9Z" fill="#fff"/>
<g clip-path="url(#on783_1059)">
<path d="M807.2 1067.5C806 1073.7 804.4 1071.3 798.2 1075.2C792.1 1079.1 795.6 1077 788.7 1079.2C781.9 1081.4 784.5 1083.2 777.7 1081.8C770.9 1080.5 773.6 1080.6 768.3 1075.1C762.9 1069.6 761.5 1071.9 761.6 1065.4C761.8 1059 766 1062.4 768.8 1055.7C771.6 1049 766.7 1051.4 770.1 1045.3C773.4 1039.3 772 1039.3 778.9 1037.5C785.8 1035.7 783.6 1037.1 790.6 1040C797.7 1043 796.3 1040.7 800 1046.2C803.7 1051.8 799.4 1049.6 801.8 1056.7C804.2 1063.8 808.4 1061.4 807.2 1067.5Z" fill="#0893b6"/>
<path d="M786.8 1062.3C785.4 1070 785.7 1071 780.6 1074.1C775.5 1077.3 777.4 1071.5 771.5 1071.8C765.7 1072.2 766.9 1077.3 762.9 1075.2C758.9 1073 760.4 1072.4 759.6 1065.4C758.8 1058.4 758.5 1061.3 760.6 1054.2C762.7 1047.1 761.3 1050.5 766 1044.2C770.7 1037.8 770.1 1034.6 774.6 1035.2C779.1 1035.8 776.1 1040.7 779.5 1046C782.9 1051.2 782.4 1045.6 784.9 1051C787.3 1056.4 788.2 1054.6 786.8 1062.3Z" fill="#007c9f"/>
<path d="M793.2 1062.9C790.2 1068.4 790.7 1066.7 786.5 1068.6C782.3 1070.4 786.4 1065.1 780.7 1068.5C775 1071.8 773.4 1079.7 769.5 1078.6C765.6 1077.5 768.2 1072.6 769.1 1065.2C770 1057.8 769.9 1061.5 772.2 1056.4C774.5 1051.3 772.6 1055.3 776 1049.9C779.4 1044.6 778.6 1040.5 782.3 1040.4C786 1040.3 782.6 1045.6 787.1 1049.5C791.5 1053.4 793.6 1047.6 795.7 1052.1C797.7 1056.5 796.3 1057.4 793.2 1062.9Z" fill="#0893b6"/>
<path d="M806 1075.2C804.2 1078.8 804.2 1076.9 800.6 1079C797.1 1081.1 799.5 1080.9 795.4 1081.7C791.3 1082.5 792.6 1083.3 788.4 1081.4C784.1 1079.5 783.4 1080.1 782.7 1076C781.9 1071.9 783.7 1072.9 786 1069.1C788.4 1065.2 786.6 1067 789.6 1064.6C792.6 1062.1 790.7 1062.5 795 1061.6C799.2 1060.7 798.6 1059.7 802.3 1062C805.9 1064.2 804.6 1063.9 805.9 1068.3C807.1 1072.8 807.8 1071.7 806 1075.2Z" fill="#7fc3d9"/>
<path d="M798.7 1069.2C799 1072.2 799 1072.2 796.5 1074.3C793.9 1076.3 793.8 1076.4 791 1075.3C788.1 1074.2 790.6 1072.9 787.8 1070.9C785.1 1069 784 1071.6 782.7 1069.5C781.3 1067.4 782.6 1067.7 783.7 1064.6C784.7 1061.5 783.5 1062.2 785.8 1060.3C788.1 1058.4 787.3 1059.1 790.6 1058.9C794 1058.7 794.3 1057.6 795.9 1059.7C797.4 1061.8 794.4 1062.1 795.3 1065.3C796.3 1068.5 798.3 1066.3 798.7 1069.2Z" fill="#3fa9c8"/>
</g>
<path d="M819.9 1070.5C815.7 1081.3 819.4 1075.5 813.1 1086C806.8 1096.5 811.9 1096.5 801.1 1101.9C790.2 1107.4 793.3 1104.9 780.5 1102.3C767.8 1099.7 773.8 1100.8 762.8 1094.2C751.9 1087.7 754.8 1092.4 747.8 1082.6C740.7 1072.8 744 1077.1 741.7 1064.9C739.4 1052.7 737.4 1057.4 740.9 1046.1C744.3 1034.7 742.7 1038 752.1 1030.9C761.6 1023.9 757.9 1029.5 769.3 1024.8C780.7 1020.2 773.8 1018.8 786.3 1017C798.9 1015.2 795.7 1013.3 807 1019.3C818.3 1025.4 814 1023.7 820.3 1035.1C826.5 1046.5 825.8 1041.7 825.7 1053.5C825.6 1065.3 824.1 1059.7 819.9 1070.5Z" fill="none" stroke="#000" stroke-width="4" stroke-linejoin="round"/>
<path d="M742.6 1095.9C741.5 1109.2 748.8 1104.5 745 1116.4C741.2 1128.3 742.2 1124.3 731.2 1131.6C720.2 1138.9 725 1136.9 712 1138.2C699.1 1139.6 703.3 1141.2 692.3 1135.6C681.2 1130 686.1 1131.4 678.8 1121.5C671.5 1111.6 677 1117.2 670.3 1105.9C663.6 1094.6 658.6 1099.5 658.7 1087.5C658.8 1075.5 662.7 1080.8 670.7 1069.9C678.8 1059 672.8 1062.1 682.9 1054.7C693.1 1047.3 688.8 1048.7 701.2 1047.6C713.6 1046.4 708 1047.1 720.1 1051.2C732.2 1055.2 728.2 1051.2 737.5 1059.7C746.9 1068.2 746.5 1064.6 748.2 1076.7C749.9 1088.7 743.6 1082.7 742.6 1095.9Z" fill="#f3a762"/>
<g clip-path="url(#o706_1092)">
<path d="M756.8 1101.3C755.6 1115.3 759.8 1112.6 751.4 1122.1C743 1131.6 743.4 1123.6 731.6 1129.8C719.8 1136 728.1 1136.5 716.1 1140.7C704.1 1145 709.3 1144.8 695.7 1142.6C682.2 1140.3 685.2 1143.6 675.5 1133.9C665.8 1124.2 669.4 1127.2 666.6 1113.3C663.9 1099.5 663.5 1104.8 667.2 1092.4C670.9 1079.9 671.7 1088.2 677.7 1076C683.7 1063.8 676 1064.4 685.2 1055.8C694.4 1047.3 691.8 1051.6 705.3 1050.3C718.8 1049.1 713.3 1047.6 725.6 1052.1C737.9 1056.6 732.4 1054.4 742.2 1063.8C752 1073.1 750.1 1067.6 755 1080.2C759.8 1092.7 758 1087.4 756.8 1101.3Z" fill="none" stroke="#e98b30" stroke-width="9.5"/>
<path d="M744.4 1088.2C743.4 1100.2 739.9 1094.5 731.8 1105.2C723.8 1116 730 1112.3 720.3 1120.4C710.5 1128.6 715.2 1127.3 702.6 1129.8C690 1132.3 695 1132 682.4 1127.8C669.8 1123.7 674.1 1126.8 664.8 1117.3C655.6 1107.9 656 1111.9 654.7 1099.4C653.4 1086.9 659.4 1093.1 660.9 1079.8C662.4 1066.6 655.3 1071.6 659.1 1059.7C662.9 1047.8 661.6 1051.7 672.3 1044.1C683.1 1036.4 678.3 1038.5 691.5 1036.7C704.6 1035 699.9 1033.7 711.8 1038.8C723.7 1043.8 719.3 1041.8 727.1 1051.9C734.8 1062.1 729.3 1057.1 735.1 1069.2C740.9 1081.3 745.5 1076.2 744.4 1088.2Z" fill="none" stroke="#f8caa2" stroke-width="12.9"/>
<path d="M739.2 1095.6C736.1 1104 733.5 1097.8 728.5 1106C723.5 1114.3 730.3 1114.9 724.2 1120.4C718 1125.8 719.3 1121.6 710.1 1122.4C700.9 1123.1 705.2 1124.8 696.5 1122.7C687.9 1120.5 691 1122.2 684.1 1115.9C677.3 1109.6 678.6 1112.6 676 1103.8C673.4 1094.9 675.8 1099.2 676.2 1089.3C676.6 1079.3 671.8 1080.4 677.3 1074C682.7 1067.6 684.1 1074.2 692.6 1070.1C701.2 1066.1 694.9 1064.6 702.9 1061.9C710.9 1059.1 707.6 1059.9 716.6 1061.9C725.5 1063.9 722.7 1061.6 729.8 1067.9C736.8 1074.1 734.5 1071.4 737.6 1080.6C740.8 1089.9 742.2 1087.1 739.2 1095.6Z" fill="none" stroke="#f6b57a" stroke-width="4.3"/>
</g>
<path d="M730.5 1096C729.2 1104.6 731.1 1100.5 727 1108.3C723 1116.2 726 1114.4 718.5 1119.4C710.9 1124.4 712.7 1125.3 704.4 1123.4C696.1 1121.4 700.7 1119.6 693.6 1113.5C686.6 1107.4 687.6 1112.5 683.4 1105C679.1 1097.5 679.7 1099.9 680.9 1091C682.1 1082.1 681.3 1085.1 686.9 1078.3C692.4 1071.5 689.8 1074.1 697.5 1070.6C705.2 1067.1 700.7 1068.7 710 1067.8C719.2 1066.9 718.3 1062.9 725.2 1067.8C732.2 1072.8 729.1 1073.2 730.8 1082.5C732.6 1091.9 731.8 1087.4 730.5 1096Z" fill="#fff"/>
<g clip-path="url(#on706_1092)">
<path d="M725.9 1095.5C724.8 1102.5 726.4 1099 723.3 1105.5C720.2 1112 722.7 1110.7 716.6 1115C710.4 1119.3 711.6 1120.3 704.9 1118.5C698.2 1116.7 702.1 1114.8 696.3 1109.6C690.6 1104.4 691.2 1109.1 687.6 1103C684 1096.9 684.5 1098.7 685.5 1091.4C686.5 1084.1 686 1086.6 690.6 1081.1C695.3 1075.6 693.1 1077.8 699.4 1075C705.7 1072.1 701.8 1073.6 709.5 1072.6C717.2 1071.6 716.8 1067.9 722.5 1071.9C728.2 1075.8 725.4 1076.7 726.6 1084.5C727.7 1092.4 727 1088.5 725.9 1095.5Z" fill="#0893b6"/>
<path d="M709.5 1092.3C707.5 1100.3 707.8 1097.9 703.7 1102C699.6 1106.1 702.6 1099.4 697.2 1104.6C691.8 1109.7 691.9 1118.3 687.4 1117.5C682.9 1116.7 684.6 1111.3 683.8 1102.1C682.9 1092.9 683.5 1097.2 684.8 1089.8C686.2 1082.4 685.1 1087.4 687.9 1079.9C690.7 1072.4 689.1 1068.6 693.3 1067.2C697.5 1065.9 695.1 1072.2 700.5 1075.8C706 1079.4 706.6 1072.5 709.6 1078C712.6 1083.6 711.4 1084.3 709.5 1092.3Z" fill="#007c9f"/>
<path d="M716.3 1093.5C715.1 1099.4 714.9 1096.8 711.5 1101.2C708.2 1105.7 710.4 1104.5 706.2 1106.9C701.9 1109.3 703.5 1110 698.8 1108.5C694.1 1107 693.7 1108.1 692.1 1102.4C690.5 1096.6 692.3 1097.7 693.9 1091.2C695.5 1084.8 694.1 1087.9 696.9 1083.1C699.7 1078.4 697.9 1079.6 702.3 1077.1C706.7 1074.5 705.8 1073.4 710 1075.5C714.3 1077.7 712.9 1077.4 715 1083.4C717.1 1089.4 717.4 1087.6 716.3 1093.5Z" fill="#0893b6"/>
<path d="M729.7 1106.9C731.1 1111.2 731.1 1111.2 728.1 1114.9C725.1 1118.6 725 1118.9 720.8 1118.1C716.5 1117.4 719.6 1114.7 715.3 1112.7C711 1110.7 710.3 1114.8 707.8 1112.2C705.3 1109.5 707.3 1109.5 707.9 1104.7C708.5 1099.9 707 1101.2 709.7 1097.8C712.3 1094.3 711.4 1095.6 715.9 1094.3C720.5 1093 720.6 1091.2 723.3 1093.9C726 1096.5 721.9 1097.9 724.1 1102.2C726.2 1106.6 728.4 1102.7 729.7 1106.9Z" fill="#7fc3d9"/>
<path d="M724.6 1101.5C724.9 1104.2 722.5 1103.2 719.5 1105.6C716.5 1108 718.3 1108.3 715.6 1108.7C712.8 1109 714 1108.1 711.2 1106.7C708.4 1105.2 708.4 1106.8 707.2 1104.5C706 1102.2 708.2 1103.7 707.7 1099.8C707.2 1095.8 704.1 1095.1 705.6 1092.7C707.1 1090.3 708.7 1091.8 712.2 1092.4C715.8 1093 714.2 1092.9 716.3 1094.6C718.5 1096.3 715.9 1095.2 718.7 1097.4C721.4 1099.7 724.4 1098.7 724.6 1101.5Z" fill="#3fa9c8"/>
</g>
<path d="M742.6 1095.9C741.5 1109.2 748.8 1104.5 745 1116.4C741.2 1128.3 742.2 1124.3 731.2 1131.6C720.2 1138.9 725 1136.9 712 1138.2C699.1 1139.6 703.3 1141.2 692.3 1135.6C681.2 1130 686.1 1131.4 678.8 1121.5C671.5 1111.6 677 1117.2 670.3 1105.9C663.6 1094.6 658.6 1099.5 658.7 1087.5C658.8 1075.5 662.7 1080.8 670.7 1069.9C678.8 1059 672.8 1062.1 682.9 1054.7C693.1 1047.3 688.8 1048.7 701.2 1047.6C713.6 1046.4 708 1047.1 720.1 1051.2C732.2 1055.2 728.2 1051.2 737.5 1059.7C746.9 1068.2 746.5 1064.6 748.2 1076.7C749.9 1088.7 743.6 1082.7 742.6 1095.9Z" fill="none" stroke="#000" stroke-width="4" stroke-linejoin="round"/>
<path d="M900.6 1091.2C900.7 1103.6 903.1 1096.8 900.6 1109.1C898.2 1121.4 902.7 1119.9 893.2 1128C883.7 1136.1 885.7 1130.9 872.1 1133.5C858.6 1136 865 1137.3 852.6 1135.6C840.3 1133.9 845.3 1134.9 835.1 1128.4C824.8 1121.9 831.2 1125.3 822 1116C812.7 1106.8 810.4 1112.4 807.4 1100.5C804.3 1088.7 805.3 1091.2 812.7 1080.5C820.2 1069.8 819.1 1076.4 829.7 1068.4C840.3 1060.4 833 1060.6 844.5 1056.5C856 1052.4 851.1 1054.9 864.2 1056C877.2 1057.2 871.6 1054.6 883.6 1059.9C895.6 1065.2 894.5 1061.4 900.1 1071.8C905.8 1082.2 900.4 1078.7 900.6 1091.2Z" fill="#f3a762"/>
<g clip-path="url(#o858_1095)">
<path d="M911.9 1094.6C911.8 1107.3 909.9 1100.6 905.4 1113.4C900.9 1126.1 907.3 1122.7 898.4 1132.8C889.5 1142.9 892.5 1141.7 878.8 1143.6C865.1 1145.6 871.2 1141.2 857.3 1138.6C843.5 1136 847.9 1141.7 837.3 1135.8C826.8 1129.8 833.2 1131.2 825.6 1120.7C818 1110.3 819.1 1117.1 814.4 1104.4C809.7 1091.8 806.2 1094.7 811.4 1082.7C816.6 1070.7 817.3 1075.5 829.9 1068.5C842.6 1061.4 836.2 1065.8 849.4 1061.6C862.5 1057.4 856.8 1054.4 869.4 1055.8C881.9 1057.2 874.8 1059.2 887 1065.7C899.1 1072.2 897.5 1065.7 905.8 1075.3C914.1 1085 912 1082 911.9 1094.6Z" fill="none" stroke="#e98b30" stroke-width="10"/>
<path d="M898.6 1082C901 1094.5 901.5 1091 895 1102.2C888.5 1113.5 890 1108 879.1 1115.9C868.3 1123.7 874.4 1123 862.4 1125.8C850.3 1128.6 856.9 1124.1 843.1 1124.2C829.3 1124.2 833.1 1130.4 820.9 1126C808.7 1121.5 812.5 1122.3 806.5 1110.8C800.5 1099.4 803.1 1104.2 803 1091.6C802.9 1079.1 802 1085.1 806.2 1073.3C810.4 1061.5 806.1 1064.5 815.6 1056.2C825 1047.8 821.5 1052.8 834.6 1048.3C847.7 1043.9 842.7 1040.6 854.9 1042.8C867.1 1045 860.3 1047.6 871.2 1055C882.2 1062.3 878.5 1055.9 887.6 1064.9C896.7 1073.9 896.1 1069.6 898.6 1082Z" fill="none" stroke="#f8caa2" stroke-width="13.6"/>
<path d="M895.3 1091.7C895.9 1101 895.5 1097.4 891 1106C886.5 1114.6 890.2 1113.9 881.9 1117.4C873.6 1120.9 875.2 1114.7 866 1116.5C856.9 1118.4 863.8 1120.3 854.5 1122.9C845.1 1125.4 846.5 1127.8 838.1 1124.2C829.7 1120.5 833.8 1120.4 829.3 1111.9C824.8 1103.5 825.2 1107.7 824.5 1098.8C823.8 1089.9 822.6 1092.7 827.2 1085.2C831.7 1077.7 831.4 1083.1 838.2 1076.3C845 1069.5 839.4 1067.6 847.5 1064.8C855.6 1061.9 853.7 1064.7 862.5 1067.8C871.2 1070.8 864.9 1070.4 873.7 1073.9C882.5 1077.3 881.8 1072.2 889 1078.1C896.1 1084.1 894.6 1082.4 895.3 1091.7Z" fill="none" stroke="#f6b57a" stroke-width="4.5"/>
</g>
<path d="M888.4 1093.7C890 1102.2 890.1 1099.6 885.8 1107.6C881.4 1115.5 883.5 1114 875.4 1117.5C867.3 1121.1 870.9 1116.9 861.5 1118.2C852.2 1119.5 855.3 1123.6 847.3 1121.3C839.2 1119.1 842.3 1118.8 837.4 1111.4C832.5 1104.1 833.7 1107.8 832.5 1099.3C831.4 1090.9 830.3 1093.9 834 1086.1C837.6 1078.3 835.9 1081.5 843.4 1075.9C851 1070.3 848.1 1068.9 856.6 1069.4C865.1 1069.8 860.8 1072.9 868.9 1077.1C877.1 1081.3 874.6 1076.5 881.1 1082C887.6 1087.5 886.9 1085.2 888.4 1093.7Z" fill="#fff"/>
<g clip-path="url(#on858_1095)">
<path d="M883.5 1094.2C884.9 1101.2 884.9 1099.2 881.3 1105.7C877.6 1112.3 879.3 1111.2 872.6 1113.8C865.8 1116.5 868.8 1112.6 861.1 1113.7C853.3 1114.8 855.9 1118.8 849.3 1117.1C842.8 1115.5 845.4 1114.8 841.4 1108.7C837.4 1102.6 838.4 1105.8 837.4 1098.8C836.4 1091.9 835.5 1094.4 838.4 1088C841.4 1081.5 840.1 1084.3 846.3 1079.6C852.5 1074.9 850.2 1073.4 857.1 1073.9C864 1074.5 860.2 1077.7 866.9 1081.2C873.6 1084.8 871.6 1080.4 877.1 1084.7C882.7 1089 882.1 1087.2 883.5 1094.2Z" fill="#0893b6"/>
<path d="M861 1092.7C861.2 1099.9 860.6 1097 857.8 1103C855.1 1109 857.2 1107.1 852.8 1110.7C848.4 1114.3 850.2 1114.6 844.6 1113.7C838.9 1112.8 839.1 1114.2 835.8 1108.1C832.5 1102 834.5 1103 834.6 1095.3C834.8 1087.7 834 1091.2 836.2 1085.1C838.4 1078.9 836.8 1080.7 841.3 1076.9C845.8 1073.2 844.4 1072.4 849.7 1073.9C855.1 1075.5 853.5 1075.3 857.3 1081.5C861 1087.8 860.9 1085.5 861 1092.7Z" fill="#007c9f"/>
<path d="M868.9 1094.1C871.1 1099.4 871.2 1099.1 868.8 1104.7C866.4 1110.2 866.6 1110.3 861.8 1110.7C857 1111.2 859.6 1107.5 854.4 1106C849.2 1104.5 849.7 1109.3 846.3 1106.2C842.9 1103 844.8 1102.9 844.3 1096.5C843.8 1090.2 842.6 1092.2 844.8 1087C846.9 1081.8 846.1 1083.7 850.7 1081C855.4 1078.2 854.9 1076.2 858.7 1078.8C862.5 1081.4 858.8 1083.5 862.2 1088.6C865.6 1093.7 866.7 1088.7 868.9 1094.1Z" fill="#0893b6"/>
<path d="M886.7 1106.4C887.9 1109.9 884.2 1109.3 880.4 1113.2C876.7 1117.2 879.5 1117 875.6 1118.2C871.6 1119.5 873.1 1117.9 868.7 1116.8C864.3 1115.8 864.6 1117.8 862.3 1115.1C860 1112.5 863.6 1113.8 861.7 1108.9C859.9 1104 855.2 1104 856.7 1100.4C858.2 1096.9 860.9 1098.4 866.2 1098.2C871.6 1098.1 869.2 1098.4 872.8 1099.9C876.3 1101.5 872.3 1100.7 876.9 1102.9C881.6 1105.1 885.5 1103 886.7 1106.4Z" fill="#7fc3d9"/>
<path d="M870.4 1102.5C869.2 1106.4 872.9 1104.1 872.5 1106.4C872 1108.6 872 1106.6 869.1 1109.2C866.1 1111.7 866 1114.8 863.5 1113.9C861.1 1113.1 864.4 1109.9 861.8 1106.6C859.2 1103.3 855.9 1106 855.8 1104C855.8 1102 859.4 1103.3 861.7 1100.6C864.1 1097.9 860.8 1097.4 862.9 1095.9C864.9 1094.4 863.4 1096.4 867.9 1096C872.3 1095.5 875.3 1092.4 876.2 1094.6C877 1096.8 871.7 1098.6 870.4 1102.5Z" fill="#3fa9c8"/>
</g>
<path d="M900.6 1091.2C900.7 1103.6 903.1 1096.8 900.6 1109.1C898.2 1121.4 902.7 1119.9 893.2 1128C883.7 1136.1 885.7 1130.9 872.1 1133.5C858.6 1136 865 1137.3 852.6 1135.6C840.3 1133.9 845.3 1134.9 835.1 1128.4C824.8 1121.9 831.2 1125.3 822 1116C812.7 1106.8 810.4 1112.4 807.4 1100.5C804.3 1088.7 805.3 1091.2 812.7 1080.5C820.2 1069.8 819.1 1076.4 829.7 1068.4C840.3 1060.4 833 1060.6 844.5 1056.5C856 1052.4 851.1 1054.9 864.2 1056C877.2 1057.2 871.6 1054.6 883.6 1059.9C895.6 1065.2 894.5 1061.4 900.1 1071.8C905.8 1082.2 900.4 1078.7 900.6 1091.2Z" fill="none" stroke="#000" stroke-width="4" stroke-linejoin="round"/>
<path d="M1002.1 1084.6C997.7 1098.1 1000.5 1093.6 990.2 1103.2C979.8 1112.8 983.9 1106.1 971 1113.5C958 1120.8 965.7 1122.5 951.4 1125.2C937.1 1128 942.5 1126.7 928.1 1121.6C913.6 1116.6 920 1119.5 908 1110C896.1 1100.5 898.4 1106.1 892.2 1093.2C886.1 1080.2 889.4 1085.3 889.5 1071.2C889.6 1057 889 1064 892.6 1050.7C896.3 1037.4 893 1043.7 900.5 1031.2C907.9 1018.6 902.1 1019.6 914.9 1013C927.7 1006.5 923.3 1011.5 938.9 1011.5C954.5 1011.4 947.4 1008.8 961.7 1012.9C976 1017.1 971.2 1014.1 981.9 1023.9C992.7 1033.8 986.8 1029.7 993.9 1042.6C1000.9 1055.4 1000.4 1048.5 1003.1 1062.5C1005.9 1076.5 1006.4 1071 1002.1 1084.6Z" fill="#953a04" stroke="#000" stroke-width="4.2"/>
<path d="M977.5 1068.9C978.3 1077.9 980.4 1075 976.5 1082.9C972.6 1090.8 973.6 1087.2 965.8 1092.6C958.1 1098 962.3 1096.9 953.2 1099.1C944.2 1101.3 948 1101.1 938.7 1099.2C929.5 1097.2 932.8 1099 925.6 1093.3C918.3 1087.7 920.9 1090.3 917.1 1082.2C913.3 1074.1 913.7 1077.5 914.2 1068.9C914.7 1060.3 915 1064.7 918.6 1056.4C922.2 1048 918.4 1050 925 1043.9C931.7 1037.7 929.1 1039.7 938.5 1037.8C948 1036 944.3 1035.8 953.3 1038.3C962.4 1040.8 958.8 1039.5 965.7 1045.4C972.6 1051.3 970.2 1048.2 974.2 1056C978.1 1063.8 976.7 1060 977.5 1068.9Z" fill="#cf900a" stroke="#fff" stroke-width="2.6"/>
<path d="M917 1054.9 l-3 6 l4 2 l-4 5 l5 3" fill="none" stroke="#fff" stroke-width="2.2"/>
<path d="M653.6 1280.3C650.4 1292.8 653.6 1288.9 644.6 1298.2C635.5 1307.4 639.4 1303.8 626.5 1308C613.6 1312.2 618.8 1313.1 605.9 1310.8C593.1 1308.4 600.3 1307.3 587.9 1301C575.5 1294.6 576.5 1301.3 568.8 1291.6C561.1 1281.9 566.2 1284.8 564.8 1271.8C563.4 1258.9 561.5 1264.7 564.5 1252.8C567.6 1240.8 565.5 1245.6 574 1235.9C582.6 1226.2 577.8 1228 590.2 1223.6C602.6 1219.2 597.3 1221.5 611.3 1222.7C625.2 1223.9 621.8 1219.7 632.1 1227.1C642.4 1234.6 634.8 1233.9 642.1 1245.1C649.5 1256.4 650.3 1249 654.1 1260.8C657.9 1272.5 656.7 1267.8 653.6 1280.3Z" fill="#f3a762"/>
<g clip-path="url(#o608_1266)">
<path d="M661 1285.5C657.8 1298 658.7 1292.6 649.1 1302.4C639.4 1312.1 645.1 1310.2 632.2 1314.8C619.3 1319.5 624.3 1318.4 610.5 1316.3C596.7 1314.2 601.8 1316 590.7 1308.4C579.6 1300.8 587.6 1303.9 577.3 1293.5C567 1283.2 564.1 1290 559.8 1277.4C555.6 1264.7 559.1 1268.8 564.5 1255.7C569.9 1242.5 565.5 1246.2 576 1237.9C586.5 1229.5 582.7 1233.8 596 1230.6C609.2 1227.4 602.3 1227.9 615.8 1228.3C629.4 1228.7 622.9 1226.8 636.6 1231.7C650.4 1236.6 649.7 1231.8 657.1 1242.9C664.5 1254.1 657.5 1250.9 658.8 1265.1C660.1 1279.3 664.3 1273.1 661 1285.5Z" fill="none" stroke="#e98b30" stroke-width="10.2"/>
<path d="M638 1270C636.8 1283.2 644.3 1281.6 637.4 1292.2C630.5 1302.8 631.2 1298.3 617.3 1301.7C603.4 1305.1 609.7 1304.1 595.7 1302.5C581.6 1300.8 586.5 1303.8 575 1296.8C563.5 1289.7 568.4 1292.4 561.2 1281.2C554.1 1270.1 556.6 1275.9 553.5 1263.3C550.3 1250.6 547.1 1254.3 551.7 1243.3C556.2 1232.2 557.9 1239.9 567.2 1230.2C576.5 1220.5 568.2 1221.3 579.6 1214.1C591 1206.8 587.3 1206.9 601.4 1208.4C615.5 1209.8 610.3 1209.9 621.9 1218.3C633.6 1226.7 629.9 1222.3 636.3 1233.7C642.7 1245 640.5 1240.3 641.1 1252.4C641.6 1264.5 639.2 1256.7 638 1270Z" fill="none" stroke="#f8caa2" stroke-width="13.9"/>
<path d="M641.1 1276.5C638.8 1285.1 640.4 1282.7 633.5 1288.3C626.5 1294 629.2 1288.8 620.2 1293.4C611.2 1297.9 615.8 1301.7 606.4 1301.9C597.1 1302.2 600.8 1299.9 592.1 1294C583.4 1288.1 584.9 1292.3 580.4 1284.3C575.8 1276.3 578.3 1279 578.4 1270.1C578.4 1261.3 578.5 1266.1 580.5 1257.7C582.4 1249.3 579.8 1253.6 584.3 1244.9C588.7 1236.3 585 1234.9 593.7 1231.8C602.5 1228.6 599.9 1233.2 610.5 1235.4C621.1 1237.6 617.7 1233.3 625.4 1238.3C633.2 1243.3 628.7 1242.4 633.7 1250.5C638.7 1258.6 637.8 1253.8 640.3 1262.5C642.8 1271.1 643.4 1267.8 641.1 1276.5Z" fill="none" stroke="#f6b57a" stroke-width="4.7"/>
</g>
<path d="M633.5 1275.1C629 1283.2 632.7 1279.7 626.8 1285.6C620.9 1291.5 624.4 1289.6 615.8 1292.8C607.2 1296 611 1296.5 601.1 1295.1C591.1 1293.7 591.1 1296.1 586 1288.6C580.9 1281.1 586.5 1282.2 585.7 1272.6C584.9 1263 581.7 1267.5 583.6 1259.7C585.5 1251.8 585 1255.1 591.4 1249C597.9 1242.9 594.2 1244 602.9 1241.4C611.7 1238.8 608.9 1238.2 617.7 1241.2C626.5 1244.1 621.7 1243.4 629.3 1250.2C636.9 1256.9 639 1253 640.5 1261.4C641.9 1269.7 638.1 1267.1 633.5 1275.1Z" fill="#fff"/>
<g clip-path="url(#on608_1266)">
<path d="M628.8 1273.7C624.7 1280.2 628.1 1277.2 623.4 1282C618.7 1286.9 621.6 1285.3 614.6 1288.1C607.7 1290.9 610.8 1291.4 602.5 1290.5C594.2 1289.5 593.7 1291.6 589.7 1285.3C585.7 1279 590.9 1279.7 590.5 1271.6C590.1 1263.6 586.9 1267.5 588.4 1261.2C589.8 1254.8 589.6 1257.6 594.9 1252.5C600.1 1247.5 597 1248.3 604.1 1246.1C611.3 1243.8 609.1 1243.3 616.3 1245.8C623.5 1248.2 619.3 1247.8 625.7 1253.4C632.1 1258.9 634.5 1255.6 635.5 1262.4C636.6 1269.1 632.8 1267.1 628.8 1273.7Z" fill="#0893b6"/>
<path d="M610.7 1269.3C608 1276.7 608.9 1275 604 1278.9C599 1282.8 601.1 1280.3 595.8 1281C590.4 1281.7 593.7 1282.8 587.8 1280.9C581.9 1279.1 579.8 1282.2 578.1 1275.4C576.4 1268.7 578.2 1267.6 582.7 1260.6C587.2 1253.7 586.5 1258.8 591.7 1254.6C596.9 1250.4 592.6 1251.4 598.3 1248.1C603.9 1244.9 604 1242.1 608.6 1244.9C613.2 1247.8 611.4 1248.6 612.1 1256.7C612.8 1264.8 613.4 1261.9 610.7 1269.3Z" fill="#007c9f"/>
<path d="M623.4 1271.7C620.7 1276.3 616.7 1271.3 610.7 1274.1C604.7 1277 609.7 1278.4 605.5 1280.2C601.3 1281.9 603.5 1281.4 598.2 1279.4C592.9 1277.4 590.3 1279.6 589.7 1274.2C589.1 1268.9 593.6 1270.6 596.4 1263.4C599.2 1256.1 594.6 1255.3 598.1 1252.4C601.5 1249.5 601.4 1254.4 606.8 1254.7C612.1 1255 610.2 1251.5 614.2 1253.3C618.2 1255.2 615.8 1254.2 618.9 1260.3C622 1266.5 626.2 1267.1 623.4 1271.7Z" fill="#0893b6"/>
<path d="M634.7 1283.8C634.3 1286.5 630.5 1283.1 626.1 1285.9C621.8 1288.6 625.3 1291.3 621.6 1292.1C617.9 1292.8 621.1 1290.4 615.1 1288.1C609 1285.9 602.9 1288.6 603.4 1285.3C604 1281.9 612.8 1282.8 616.6 1278.2C620.5 1273.7 613.5 1274.9 614.9 1271.6C616.4 1268.3 615.4 1270.4 620.9 1268.3C626.5 1266.3 629.4 1262.3 631.6 1265.5C633.8 1268.6 626.4 1271.6 627.5 1277.7C628.5 1283.8 635.1 1281.1 634.7 1283.8Z" fill="#7fc3d9"/>
<path d="M624.5 1276.8C624.7 1279.9 625.1 1279.1 622.5 1282C620 1284.9 619.6 1287.1 616.8 1285.6C614.1 1284 616.9 1280.3 614.3 1277.3C611.8 1274.3 611.5 1278.5 609.3 1276.6C607 1274.7 607.4 1275.1 607.6 1271.6C607.8 1268 607 1267.1 609.9 1265.9C612.8 1264.8 612.3 1267.9 616.3 1268.1C620.4 1268.4 620.2 1265.2 622 1266.8C623.8 1268.3 621 1269.3 621.8 1272.7C622.6 1276 624.2 1273.7 624.5 1276.8Z" fill="#3fa9c8"/>
</g>
<path d="M653.6 1280.3C650.4 1292.8 653.6 1288.9 644.6 1298.2C635.5 1307.4 639.4 1303.8 626.5 1308C613.6 1312.2 618.8 1313.1 605.9 1310.8C593.1 1308.4 600.3 1307.3 587.9 1301C575.5 1294.6 576.5 1301.3 568.8 1291.6C561.1 1281.9 566.2 1284.8 564.8 1271.8C563.4 1258.9 561.5 1264.7 564.5 1252.8C567.6 1240.8 565.5 1245.6 574 1235.9C582.6 1226.2 577.8 1228 590.2 1223.6C602.6 1219.2 597.3 1221.5 611.3 1222.7C625.2 1223.9 621.8 1219.7 632.1 1227.1C642.4 1234.6 634.8 1233.9 642.1 1245.1C649.5 1256.4 650.3 1249 654.1 1260.8C657.9 1272.5 656.7 1267.8 653.6 1280.3Z" fill="none" stroke="#000" stroke-width="3.6" stroke-linejoin="round"/>
<path d="M1332.4 1175.5C1332 1188.5 1332.7 1184.4 1324.5 1194.9C1316.2 1205.4 1319.5 1200.5 1307.6 1206.9C1295.8 1213.2 1301.6 1212.9 1288.9 1213.9C1276.1 1214.9 1282.3 1213.5 1269.3 1209.9C1256.3 1206.3 1259.3 1211.3 1249.8 1203.1C1240.3 1194.8 1244.4 1197.3 1240.8 1185C1237.2 1172.7 1238.5 1178.9 1239.1 1166.1C1239.7 1153.3 1237 1158.6 1242.6 1146.7C1248.2 1134.8 1244.3 1137 1255.8 1130.3C1267.3 1123.7 1263.3 1127 1277.1 1126.7C1290.9 1126.3 1285.9 1124 1297.3 1129.4C1308.6 1134.8 1301.7 1134 1311.2 1142.9C1320.6 1151.7 1318.6 1144.9 1325.7 1155.8C1332.7 1166.7 1332.8 1162.4 1332.4 1175.5Z" fill="#f3a762"/>
<g clip-path="url(#o1283_1170)">
<path d="M1335.4 1179.7C1333 1193.7 1338.4 1190.3 1330.1 1199.9C1321.7 1209.5 1322.4 1201.6 1310.3 1208.5C1298.2 1215.4 1306.8 1216 1293.8 1220.6C1280.7 1225.2 1284.4 1226.6 1271.1 1222.3C1257.9 1218 1263.4 1218.5 1254.1 1207.8C1244.8 1197.1 1248.8 1202.8 1243.2 1190.2C1237.7 1177.5 1235.7 1182.6 1237.5 1169.9C1239.2 1157.1 1241.1 1164.1 1248.4 1151.9C1255.7 1139.6 1248.3 1140 1259.4 1133.2C1270.5 1126.4 1267.7 1130.9 1281.7 1131.5C1295.8 1132.2 1287.7 1132.2 1301.4 1135.1C1315.1 1138 1311.1 1132.7 1322.9 1140.3C1334.8 1147.8 1332.9 1144.7 1337 1157.9C1341.2 1171 1337.7 1165.7 1335.4 1179.7Z" fill="none" stroke="#e98b30" stroke-width="10.1"/>
<path d="M1323.1 1166.7C1322.9 1180.1 1324.9 1177.4 1315.7 1186.9C1306.5 1196.3 1307.7 1188.5 1295.5 1195.1C1283.2 1201.7 1291.3 1204.1 1279 1206.7C1266.6 1209.3 1271.5 1207.2 1258.6 1202.9C1245.6 1198.6 1250.8 1202.3 1240.1 1193.9C1229.3 1185.5 1230.7 1190 1226.2 1177.8C1221.8 1165.5 1224 1170 1226.7 1157.1C1229.3 1144.1 1228.1 1151.1 1234.2 1139C1240.3 1126.8 1234 1126.7 1245 1120.5C1256 1114.3 1253.2 1120.5 1267.3 1120.4C1281.4 1120.4 1274.7 1117 1287.3 1120.2C1299.9 1123.4 1295.5 1121.2 1305.2 1130C1315 1138.8 1310.5 1134.4 1316.5 1146.7C1322.5 1158.9 1323.4 1153.3 1323.1 1166.7Z" fill="none" stroke="#f8caa2" stroke-width="13.8"/>
<path d="M1315.6 1173.8C1313.1 1183.4 1316 1179.2 1311.3 1187.1C1306.6 1195.1 1309.5 1193.2 1301.4 1197.7C1293.3 1202.2 1296.5 1200.1 1287.1 1200.5C1277.6 1201 1282.4 1201.3 1273.1 1199.1C1263.7 1197 1265.1 1200.3 1259 1194.1C1252.8 1187.8 1258.8 1189.4 1254.6 1180.3C1250.4 1171.2 1247 1176 1246.4 1166.8C1245.8 1157.7 1246.5 1160.1 1252.9 1152.8C1259.3 1145.5 1257 1149 1265.7 1144.9C1274.3 1140.7 1269.8 1141.4 1278.9 1140.4C1288 1139.4 1284.4 1138.8 1293 1141.8C1301.5 1144.8 1295.9 1143.9 1304.5 1149.4C1313.1 1154.9 1314.9 1150.1 1318.6 1158.2C1322.3 1166.3 1318 1164.1 1315.6 1173.8Z" fill="none" stroke="#f6b57a" stroke-width="4.6"/>
</g>
<path d="M1316.8 1175.1C1315.6 1183.7 1312.7 1180.4 1305.3 1186.8C1297.8 1193.3 1302.5 1190.2 1294.5 1194.5C1286.4 1198.7 1289.6 1200.3 1281.1 1199.5C1272.7 1198.6 1277 1197.2 1269.1 1191.9C1261.3 1186.5 1261.3 1190.9 1257.6 1183.3C1253.8 1175.8 1257.8 1179.1 1258 1169.2C1258.1 1159.3 1253.4 1161.3 1258.1 1153.7C1262.8 1146.1 1262.7 1147.7 1272.1 1146.4C1281.4 1145.2 1277 1148.5 1286.1 1149.9C1295.3 1151.3 1292 1146.9 1299.6 1150.6C1307.1 1154.3 1303.1 1152.8 1308.8 1161C1314.6 1169.1 1318 1166.5 1316.8 1175.1Z" fill="#fff"/>
<g clip-path="url(#on1283_1170)">
<path d="M1311.8 1174.6C1310.8 1181.6 1307.7 1178.8 1301.3 1184C1294.8 1189.1 1299 1186.5 1292.4 1190.1C1285.9 1193.6 1288.4 1195.4 1281.6 1194.7C1274.8 1194 1278.5 1192.4 1272 1188C1265.5 1183.5 1265.1 1187.4 1262.1 1181.3C1259.1 1175.3 1262.9 1178 1262.9 1169.7C1262.9 1161.5 1258.4 1162.9 1262.2 1156.6C1265.9 1150.3 1266.3 1151.5 1274.2 1150.8C1282 1150.2 1278.1 1153.4 1285.6 1154.6C1293.2 1155.8 1290.5 1151.7 1296.7 1154.5C1302.9 1157.3 1299.3 1156.2 1304.3 1162.9C1309.3 1169.6 1312.8 1167.6 1311.8 1174.6Z" fill="#0893b6"/>
<path d="M1290 1171C1288.3 1177.7 1284.1 1173.1 1278.6 1178.4C1273.2 1183.7 1278 1183.8 1273.6 1186.8C1269.2 1189.8 1271.3 1188.8 1265.5 1187.4C1259.6 1186 1257.9 1189 1256.1 1182.5C1254.2 1176 1258.4 1177.3 1259.8 1168C1261.2 1158.6 1257 1159.3 1260.2 1154.5C1263.5 1149.7 1263.9 1154.8 1269.6 1153.6C1275.4 1152.3 1272.8 1149.2 1277.5 1150.8C1282.3 1152.4 1279.8 1151.6 1284 1158.3C1288.1 1165 1291.8 1164.3 1290 1171Z" fill="#007c9f"/>
<path d="M1295 1171.9C1294.9 1176.3 1291.3 1173 1287.3 1178.2C1283.3 1183.4 1287 1185.4 1283.1 1187.5C1279.2 1189.7 1281.9 1186 1275.5 1184.6C1269.2 1183.1 1264.4 1188.2 1264 1183.3C1263.6 1178.3 1271.5 1177.2 1274.3 1169.8C1277.1 1162.4 1271.1 1166.1 1272.4 1161C1273.7 1156 1272.9 1158.8 1278.3 1154.7C1283.6 1150.5 1285.4 1145.1 1288.5 1148.6C1291.6 1152.1 1285.4 1157.3 1287.6 1165.1C1289.8 1172.9 1295.1 1167.6 1295 1171.9Z" fill="#0893b6"/>
<path d="M1307 1185.1C1308.2 1189.3 1308.4 1188 1305.8 1192.8C1303.1 1197.6 1303.1 1200.8 1299 1199.4C1294.9 1198 1297.6 1192.1 1293.4 1188.6C1289.1 1185.2 1289.9 1191.1 1286.3 1189.1C1282.7 1187.1 1283.3 1187.6 1282.6 1182.6C1281.9 1177.6 1280.6 1176.5 1284.3 1174.1C1287.9 1171.7 1288 1176.1 1293.6 1175.3C1299.1 1174.6 1298.1 1170.2 1300.9 1171.8C1303.8 1173.4 1300.2 1175.7 1302.2 1180.1C1304.2 1184.5 1305.8 1180.8 1307 1185.1Z" fill="#7fc3d9"/>
<path d="M1299.2 1179.4C1297.6 1182.8 1298.4 1181.3 1296.1 1183.1C1293.8 1184.9 1295.4 1183.4 1292.3 1184.9C1289.1 1186.4 1289.4 1188.5 1286.7 1187.6C1284.1 1186.7 1286.1 1185.6 1284.3 1182.2C1282.5 1178.9 1281 1180.5 1281.2 1177.6C1281.5 1174.6 1282.3 1175.5 1285 1173.4C1287.6 1171.4 1286.4 1171.7 1289.2 1171.5C1292 1171.3 1289.6 1172.3 1293.4 1172.8C1297.3 1173.2 1298.9 1170.7 1300.8 1172.9C1302.7 1175.1 1300.7 1176 1299.2 1179.4Z" fill="#3fa9c8"/>
</g>
<path d="M1332.4 1175.5C1332 1188.5 1332.7 1184.4 1324.5 1194.9C1316.2 1205.4 1319.5 1200.5 1307.6 1206.9C1295.8 1213.2 1301.6 1212.9 1288.9 1213.9C1276.1 1214.9 1282.3 1213.5 1269.3 1209.9C1256.3 1206.3 1259.3 1211.3 1249.8 1203.1C1240.3 1194.8 1244.4 1197.3 1240.8 1185C1237.2 1172.7 1238.5 1178.9 1239.1 1166.1C1239.7 1153.3 1237 1158.6 1242.6 1146.7C1248.2 1134.8 1244.3 1137 1255.8 1130.3C1267.3 1123.7 1263.3 1127 1277.1 1126.7C1290.9 1126.3 1285.9 1124 1297.3 1129.4C1308.6 1134.8 1301.7 1134 1311.2 1142.9C1320.6 1151.7 1318.6 1144.9 1325.7 1155.8C1332.7 1166.7 1332.8 1162.4 1332.4 1175.5Z" fill="none" stroke="#000" stroke-width="3.6" stroke-linejoin="round"/>
<ellipse cx="1022.4" cy="1139" rx="19" ry="16" fill="#1f9ad7" stroke="#0b78b3" stroke-width="4.4"/>
<ellipse cx="1085.5" cy="1138.3" rx="19" ry="16" fill="#1f9ad7" stroke="#0b78b3" stroke-width="4.4"/>
<ellipse cx="1152.7" cy="1141.1" rx="19" ry="16" fill="#1f9ad7" stroke="#0b78b3" stroke-width="4.4"/>
<ellipse cx="1070.2" cy="1181.5" rx="19" ry="16" fill="#1f9ad7" stroke="#0b78b3" stroke-width="4.4"/>
<ellipse cx="1207.9" cy="1189.8" rx="19" ry="16" fill="#1f9ad7" stroke="#0b78b3" stroke-width="4.4"/>
<path d="M1652.2,961.1 1668.8,988.2 1680.2,958.5 1697.6,984.7 1709,954.1 1726.4,979.4 1736,948.9 1753.5,973.3 1759.6,941.9 1783.2,966.3 1784.9,934 1808.5,954.1 1809.4,919.2 1832.1,940.2" fill="none" stroke="#565a5e" stroke-width="6.6" stroke-linejoin="round" stroke-linecap="round"/>
<path d="M1652.2,961.1 1668.8,988.2 1680.2,958.5 1697.6,984.7 1709,954.1 1726.4,979.4 1736,948.9 1753.5,973.3 1759.6,941.9 1783.2,966.3 1784.9,934 1808.5,954.1 1809.4,919.2 1832.1,940.2" fill="none" stroke="#a9b7c6" stroke-width="2.4" stroke-linejoin="round" stroke-linecap="round" transform="translate(-1 -1)"/>
<path d="M1658.5 959.6 L1669.4 977.3" stroke="#9fc4d8" stroke-width="1.3"/>
<path d="M1686.5 956.7 L1697.8 973.8" stroke="#9fc4d8" stroke-width="1.3"/>
<path d="M1715.2 952.2 L1726.4 968.5" stroke="#9fc4d8" stroke-width="1.3"/>
<path d="M1742.2 946.9 L1753.3 962.4" stroke="#9fc4d8" stroke-width="1.3"/>
<path d="M1765.4 939 L1781.4 955.5" stroke="#9fc4d8" stroke-width="1.3"/>
<path d="M1790.4 930.6 L1805.7 943.5" stroke="#9fc4d8" stroke-width="1.3"/>
<path d="M1815.1 916 L1829.7 929.5" stroke="#9fc4d8" stroke-width="1.3"/>
<path d="M365.3,1415.5 385.3,1440.7 393.2,1409.4 413.9,1433.7 421.6,1401.5 442.2,1424.8 448.1,1392.9 468.8,1415.3 471,1382.9 497.8,1404.6 495.5,1371.9 521.8,1389.2 518.4,1354 543.8,1372.3" fill="none" stroke="#565a5e" stroke-width="6.6" stroke-linejoin="round" stroke-linecap="round"/>
<path d="M365.3,1415.5 385.3,1440.7 393.2,1409.4 413.9,1433.7 421.6,1401.5 442.2,1424.8 448.1,1392.9 468.8,1415.3 471,1382.9 497.8,1404.6 495.5,1371.9 521.8,1389.2 518.4,1354 543.8,1372.3" fill="none" stroke="#a9b7c6" stroke-width="2.4" stroke-linejoin="round" stroke-linecap="round" transform="translate(-1 -1)"/>
<path d="M371.4 1413.2 L384.6 1429.8" stroke="#9fc4d8" stroke-width="1.3"/>
<path d="M399.2 1406.9 L412.8 1422.8" stroke="#9fc4d8" stroke-width="1.3"/>
<path d="M427.6 1398.8 L440.9 1413.9" stroke="#9fc4d8" stroke-width="1.3"/>
<path d="M454.1 1390.2 L467.2 1404.5" stroke="#9fc4d8" stroke-width="1.3"/>
<path d="M476.5 1379.4 L494.7 1394.1" stroke="#9fc4d8" stroke-width="1.3"/>
<path d="M500.6 1367.8 L517.7 1379.1" stroke="#9fc4d8" stroke-width="1.3"/>
<path d="M523.6 1350.1 L540.1 1362" stroke="#9fc4d8" stroke-width="1.3"/>
<path d="M1367.1,1095.4 L1358,1052.7" stroke="#ffc000" stroke-width="9.5" stroke-linecap="round"/>
<path d="M1375.7,1090.8 L1367.6,1048" stroke="#ffc000" stroke-width="9.5" stroke-linecap="round"/>
<path d="M1365.8,1050 L1394.7,1079.6" stroke="#ffc000" stroke-width="8.5" stroke-linecap="round"/>
<path d="M1374.7,1045.8 L1402.6,1076.3" stroke="#ffc000" stroke-width="8.5" stroke-linecap="round"/>
<path d="M1400.1,1079.5 L1395.2,1036.3" stroke="#ffc000" stroke-width="9.5" stroke-linecap="round"/>
<path d="M1408.6,1076.1 L1405,1032.8" stroke="#ffc000" stroke-width="9.5" stroke-linecap="round"/>
<path d="M1403.1,1034.5 L1427.8,1067.5" stroke="#ffc000" stroke-width="8.5" stroke-linecap="round"/>
<path d="M1412.1,1031.5 L1435.7,1065.3" stroke="#ffc000" stroke-width="8.5" stroke-linecap="round"/>
<path d="M1433,1068.1 L1433,1024.7" stroke="#ffc000" stroke-width="9.5" stroke-linecap="round"/>
<path d="M1441.5,1065.8 L1442.9,1022.5" stroke="#ffc000" stroke-width="9.5" stroke-linecap="round"/>
<path d="M1440.8,1023.9 L1460.9,1059.8" stroke="#ffc000" stroke-width="8.5" stroke-linecap="round"/>
<path d="M1449.9,1022.1 L1468.9,1058.6" stroke="#ffc000" stroke-width="8.5" stroke-linecap="round"/>
<path d="M1465.9,1061 L1471.2,1018" stroke="#ffc000" stroke-width="9.5" stroke-linecap="round"/>
<path d="M1474.4,1059.9 L1481.1,1017.1" stroke="#ffc000" stroke-width="9.5" stroke-linecap="round"/>
<path d="M1478.9,1018.3 L1494.2,1056.4" stroke="#ffc000" stroke-width="8.5" stroke-linecap="round"/>
<path d="M1488.1,1017.6 L1502.2,1056.2" stroke="#ffc000" stroke-width="8.5" stroke-linecap="round"/>
<path d="M1498.9,1058.3 L1509.6,1016.3" stroke="#ffc000" stroke-width="9.5" stroke-linecap="round"/>
<path d="M1507.5,1058.2 L1519.7,1016.6" stroke="#ffc000" stroke-width="9.5" stroke-linecap="round"/>
<path d="M1517.3,1017.5 L1527.6,1057.3" stroke="#ffc000" stroke-width="8.5" stroke-linecap="round"/>
<path d="M1526.5,1018.1 L1535.7,1058.2" stroke="#ffc000" stroke-width="8.5" stroke-linecap="round"/>
<path d="M1532.1,1059.8 L1548.3,1019.5" stroke="#ffc000" stroke-width="9.5" stroke-linecap="round"/>
<path d="M1540.8,1060.9 L1558.3,1021.2" stroke="#ffc000" stroke-width="9.5" stroke-linecap="round"/>
<path d="M1555.8,1021.7 L1561.4,1062.6" stroke="#ffc000" stroke-width="8.5" stroke-linecap="round"/>
<path d="M1565.1,1023.5 L1569.6,1064.5" stroke="#ffc000" stroke-width="8.5" stroke-linecap="round"/>
<path d="M1565.7,1065.6 L1587,1027.7" stroke="#ffc000" stroke-width="9.5" stroke-linecap="round"/>
<path d="M1574.5,1067.8 L1597,1030.6" stroke="#ffc000" stroke-width="9.5" stroke-linecap="round"/>
<path d="M1594.4,1030.9 L1595.6,1072.2" stroke="#ffc000" stroke-width="8.5" stroke-linecap="round"/>
<path d="M1603.7,1033.8 L1603.9,1075.2" stroke="#ffc000" stroke-width="8.5" stroke-linecap="round"/>
<path d="M1599.8,1075.8 L1625.6,1040.7" stroke="#ffc000" stroke-width="9.5" stroke-linecap="round"/>
<path d="M1608.7,1079.2 L1635.7,1044.9" stroke="#ffc000" stroke-width="9.5" stroke-linecap="round"/>
<path d="M1370.4,1054.4 L1389,1074.5" stroke="#a6c41e" stroke-width="1.8" stroke-linecap="round"/>
<path d="M1374.8,1055.7 L1392.3,1074.1" stroke="#ff5a2e" stroke-width="1.2" stroke-linecap="round"/>
<path d="M1379.2,1050.4 L1397.2,1071" stroke="#a6c41e" stroke-width="1.8" stroke-linecap="round"/>
<path d="M1383.5,1051.8 L1400.4,1070.8" stroke="#ff5a2e" stroke-width="1.2" stroke-linecap="round"/>
<path d="M1407.1,1039.5 L1422.9,1061.7" stroke="#a6c41e" stroke-width="1.8" stroke-linecap="round"/>
<path d="M1411.1,1041.3 L1426.1,1061.8" stroke="#ff5a2e" stroke-width="1.2" stroke-linecap="round"/>
<path d="M1416,1036.6 L1431.1,1059.3" stroke="#a6c41e" stroke-width="1.8" stroke-linecap="round"/>
<path d="M1419.9,1038.6 L1434.2,1059.5" stroke="#ff5a2e" stroke-width="1.2" stroke-linecap="round"/>
<path d="M1444.1,1029.4 L1456.9,1053.4" stroke="#a6c41e" stroke-width="1.8" stroke-linecap="round"/>
<path d="M1447.8,1031.7 L1459.9,1053.9" stroke="#ff5a2e" stroke-width="1.2" stroke-linecap="round"/>
<path d="M1453.1,1027.7 L1465.1,1052" stroke="#a6c41e" stroke-width="1.8" stroke-linecap="round"/>
<path d="M1456.7,1030.1 L1468.1,1052.6" stroke="#ff5a2e" stroke-width="1.2" stroke-linecap="round"/>
<path d="M1481.5,1024.1 L1491,1049.5" stroke="#a6c41e" stroke-width="1.8" stroke-linecap="round"/>
<path d="M1484.9,1026.8 L1493.9,1050.4" stroke="#ff5a2e" stroke-width="1.2" stroke-linecap="round"/>
<path d="M1490.5,1023.5 L1499.2,1049.3" stroke="#a6c41e" stroke-width="1.8" stroke-linecap="round"/>
<path d="M1493.8,1026.4 L1502.1,1050.2" stroke="#ff5a2e" stroke-width="1.2" stroke-linecap="round"/>
<path d="M1519.1,1023.6 L1525.4,1050.1" stroke="#a6c41e" stroke-width="1.8" stroke-linecap="round"/>
<path d="M1522.1,1026.8 L1528.2,1051.3" stroke="#ff5a2e" stroke-width="1.2" stroke-linecap="round"/>
<path d="M1528.2,1024.2 L1533.6,1050.9" stroke="#a6c41e" stroke-width="1.8" stroke-linecap="round"/>
<path d="M1531.1,1027.5 L1536.4,1052.2" stroke="#ff5a2e" stroke-width="1.2" stroke-linecap="round"/>
<path d="M1556.9,1028 L1560,1055.1" stroke="#a6c41e" stroke-width="1.8" stroke-linecap="round"/>
<path d="M1559.5,1031.6 L1562.7,1056.7" stroke="#ff5a2e" stroke-width="1.2" stroke-linecap="round"/>
<path d="M1566,1029.8 L1568.3,1057" stroke="#a6c41e" stroke-width="1.8" stroke-linecap="round"/>
<path d="M1568.5,1033.4 L1571,1058.7" stroke="#ff5a2e" stroke-width="1.2" stroke-linecap="round"/>
<path d="M1594.8,1037.3 L1594.9,1064.6" stroke="#a6c41e" stroke-width="1.8" stroke-linecap="round"/>
<path d="M1597.1,1041.1 L1597.6,1066.5" stroke="#ff5a2e" stroke-width="1.2" stroke-linecap="round"/>
<path d="M1603.9,1040.2 L1603.4,1067.5" stroke="#a6c41e" stroke-width="1.8" stroke-linecap="round"/>
<path d="M1606.1,1044.1 L1606,1069.6" stroke="#ff5a2e" stroke-width="1.2" stroke-linecap="round"/>
<path d="M1366.6,1092.3 L1358.3,1055.9" stroke="#000" stroke-width="3.6" stroke-linecap="round"/>
<path d="M1375.2,1087.7 L1367.9,1051.2" stroke="#000" stroke-width="3.6" stroke-linecap="round"/>
<path d="M1399.8,1076.4 L1395.2,1039.5" stroke="#000" stroke-width="3.6" stroke-linecap="round"/>
<path d="M1408.5,1073 L1404.9,1036" stroke="#000" stroke-width="3.6" stroke-linecap="round"/>
<path d="M1433.1,1065 L1432.6,1027.9" stroke="#000" stroke-width="3.6" stroke-linecap="round"/>
<path d="M1441.7,1062.7 L1442.4,1025.6" stroke="#000" stroke-width="3.6" stroke-linecap="round"/>
<path d="M1466.3,1057.9 L1470.4,1021.1" stroke="#000" stroke-width="3.6" stroke-linecap="round"/>
<path d="M1475,1056.8 L1480.3,1020.1" stroke="#000" stroke-width="3.6" stroke-linecap="round"/>
<path d="M1499.7,1055.2 L1508.5,1019.3" stroke="#000" stroke-width="3.6" stroke-linecap="round"/>
<path d="M1508.5,1055.3 L1518.4,1019.6" stroke="#000" stroke-width="3.6" stroke-linecap="round"/>
<path d="M1533.4,1056.9 L1546.8,1022.3" stroke="#000" stroke-width="3.6" stroke-linecap="round"/>
<path d="M1542.2,1058 L1556.7,1023.9" stroke="#000" stroke-width="3.6" stroke-linecap="round"/>
<path d="M1567.3,1062.9 L1585.1,1030.3" stroke="#000" stroke-width="3.6" stroke-linecap="round"/>
<path d="M1576.2,1065.2 L1595.1,1033.1" stroke="#000" stroke-width="3.6" stroke-linecap="round"/>
<path d="M1601.7,1073.3 L1623.5,1043.1" stroke="#000" stroke-width="3.6" stroke-linecap="round"/>
<path d="M1610.8,1076.8 L1633.4,1047.2" stroke="#000" stroke-width="3.6" stroke-linecap="round"/>
<path d="M748,1257.4 L766.9,1223.7" stroke="#555555" stroke-width="6.5" stroke-linecap="round"/>
<path d="M756.2,1258.6 L773.7,1224.6" stroke="#555555" stroke-width="6.5" stroke-linecap="round"/>
<path d="M732.5,1215.3 L746,1258.1" stroke="#555555" stroke-width="7.5" stroke-linecap="round"/>
<path d="M742.5,1217 L756.4,1259.6" stroke="#555555" stroke-width="7.5" stroke-linecap="round"/>
<path d="M785.3,1262.1 L802.5,1227.5" stroke="#555555" stroke-width="6.5" stroke-linecap="round"/>
<path d="M793.5,1262.9 L809.2,1228.1" stroke="#555555" stroke-width="6.5" stroke-linecap="round"/>
<path d="M768,1220.8 L783.3,1262.9" stroke="#555555" stroke-width="7.5" stroke-linecap="round"/>
<path d="M777.9,1222.1 L793.8,1263.9" stroke="#555555" stroke-width="7.5" stroke-linecap="round"/>
<path d="M822.6,1265 L838,1229.6" stroke="#555555" stroke-width="6.5" stroke-linecap="round"/>
<path d="M830.8,1265.4 L844.7,1229.8" stroke="#555555" stroke-width="6.5" stroke-linecap="round"/>
<path d="M803.4,1224.6 L820.7,1265.9" stroke="#555555" stroke-width="7.5" stroke-linecap="round"/>
<path d="M813.3,1225.4 L831.1,1266.4" stroke="#555555" stroke-width="7.5" stroke-linecap="round"/>
<path d="M859.9,1266 L873.5,1229.9" stroke="#555555" stroke-width="6.5" stroke-linecap="round"/>
<path d="M868.1,1266 L880.3,1229.8" stroke="#555555" stroke-width="6.5" stroke-linecap="round"/>
<path d="M838.8,1226.6 L858,1267" stroke="#555555" stroke-width="7.5" stroke-linecap="round"/>
<path d="M848.7,1226.9 L868.5,1267" stroke="#555555" stroke-width="7.5" stroke-linecap="round"/>
<path d="M897.2,1265.2 L909,1228.5" stroke="#555555" stroke-width="6.5" stroke-linecap="round"/>
<path d="M905.4,1264.8 L915.8,1228" stroke="#555555" stroke-width="6.5" stroke-linecap="round"/>
<path d="M874.2,1226.9 L895.4,1266.3" stroke="#555555" stroke-width="7.5" stroke-linecap="round"/>
<path d="M884.1,1226.7 L905.8,1265.8" stroke="#555555" stroke-width="7.5" stroke-linecap="round"/>
<path d="M934.4,1262.6 L944.5,1225.3" stroke="#555555" stroke-width="6.5" stroke-linecap="round"/>
<path d="M942.6,1261.7 L951.3,1224.5" stroke="#555555" stroke-width="6.5" stroke-linecap="round"/>
<path d="M909.5,1225.5 L932.7,1263.7" stroke="#555555" stroke-width="7.5" stroke-linecap="round"/>
<path d="M919.4,1224.7 L943.1,1262.7" stroke="#555555" stroke-width="7.5" stroke-linecap="round"/>
<path d="M971.7,1258.1 L980,1220.4" stroke="#555555" stroke-width="6.5" stroke-linecap="round"/>
<path d="M979.9,1256.9 L986.8,1219.3" stroke="#555555" stroke-width="6.5" stroke-linecap="round"/>
<path d="M944.9,1222.3 L970,1259.4" stroke="#555555" stroke-width="7.5" stroke-linecap="round"/>
<path d="M954.8,1221.1 L980.4,1257.8" stroke="#555555" stroke-width="7.5" stroke-linecap="round"/>
<path d="M980.2,1217.3 L1007.2,1253.1" stroke="#555555" stroke-width="7.5" stroke-linecap="round"/>
<path d="M750.3,1252.7 L764.1,1229.4" stroke="#0a8c3c" stroke-width="2" stroke-linecap="round"/>
<path d="M758.4,1253.9 L770.9,1230.3" stroke="#0a8c3c" stroke-width="2" stroke-linecap="round"/>
<path d="M733.2,1217.5 L744.6,1253.8" stroke="#fff" stroke-width="1.9" stroke-linecap="round"/>
<path d="M735.7,1223 L747.4,1252.3" stroke="#4cc27a" stroke-width="1.8" stroke-linecap="round"/>
<path d="M743.1,1219.2 L755,1255.4" stroke="#fff" stroke-width="1.9" stroke-linecap="round"/>
<path d="M745.8,1224.7 L757.8,1253.8" stroke="#4cc27a" stroke-width="1.8" stroke-linecap="round"/>
<path d="M787.3,1257.3 L800,1233.4" stroke="#0a8c3c" stroke-width="2" stroke-linecap="round"/>
<path d="M795.5,1258.1 L806.8,1233.9" stroke="#0a8c3c" stroke-width="2" stroke-linecap="round"/>
<path d="M768.7,1222.9 L781.7,1258.7" stroke="#fff" stroke-width="1.9" stroke-linecap="round"/>
<path d="M771.5,1228.3 L784.5,1257" stroke="#4cc27a" stroke-width="1.8" stroke-linecap="round"/>
<path d="M778.7,1224.2 L792.1,1259.8" stroke="#fff" stroke-width="1.9" stroke-linecap="round"/>
<path d="M781.5,1229.5 L794.8,1258" stroke="#4cc27a" stroke-width="1.8" stroke-linecap="round"/>
<path d="M824.4,1260.1 L835.8,1235.5" stroke="#0a8c3c" stroke-width="2" stroke-linecap="round"/>
<path d="M832.5,1260.4 L842.6,1235.8" stroke="#0a8c3c" stroke-width="2" stroke-linecap="round"/>
<path d="M804.2,1226.7 L818.9,1261.8" stroke="#fff" stroke-width="1.9" stroke-linecap="round"/>
<path d="M807.3,1231.9 L821.5,1259.9" stroke="#4cc27a" stroke-width="1.8" stroke-linecap="round"/>
<path d="M814.2,1227.4 L829.3,1262.3" stroke="#fff" stroke-width="1.9" stroke-linecap="round"/>
<path d="M817.3,1232.6 L831.9,1260.4" stroke="#4cc27a" stroke-width="1.8" stroke-linecap="round"/>
<path d="M861.4,1261 L871.6,1236" stroke="#0a8c3c" stroke-width="2" stroke-linecap="round"/>
<path d="M869.6,1261 L878.4,1235.8" stroke="#0a8c3c" stroke-width="2" stroke-linecap="round"/>
<path d="M839.7,1228.7 L856,1263" stroke="#fff" stroke-width="1.9" stroke-linecap="round"/>
<path d="M843,1233.8 L858.6,1261" stroke="#4cc27a" stroke-width="1.8" stroke-linecap="round"/>
<path d="M849.6,1228.9 L866.4,1263" stroke="#fff" stroke-width="1.9" stroke-linecap="round"/>
<path d="M853,1234 L868.9,1261" stroke="#4cc27a" stroke-width="1.8" stroke-linecap="round"/>
<path d="M898.5,1260.1 L907.4,1234.6" stroke="#0a8c3c" stroke-width="2" stroke-linecap="round"/>
<path d="M906.6,1259.7 L914.2,1234.2" stroke="#0a8c3c" stroke-width="2" stroke-linecap="round"/>
<path d="M875.2,1228.9 L893.1,1262.4" stroke="#fff" stroke-width="1.9" stroke-linecap="round"/>
<path d="M878.7,1233.8 L895.6,1260.3" stroke="#4cc27a" stroke-width="1.8" stroke-linecap="round"/>
<path d="M885.1,1228.7 L903.5,1261.9" stroke="#fff" stroke-width="1.9" stroke-linecap="round"/>
<path d="M888.7,1233.5 L906,1259.7" stroke="#4cc27a" stroke-width="1.8" stroke-linecap="round"/>
<path d="M935.5,1257.4 L943.2,1231.5" stroke="#0a8c3c" stroke-width="2" stroke-linecap="round"/>
<path d="M943.6,1256.6 L950,1230.7" stroke="#0a8c3c" stroke-width="2" stroke-linecap="round"/>
<path d="M910.6,1227.4 L930.3,1260" stroke="#fff" stroke-width="1.9" stroke-linecap="round"/>
<path d="M914.4,1232.1 L932.6,1257.7" stroke="#4cc27a" stroke-width="1.8" stroke-linecap="round"/>
<path d="M920.6,1226.7 L940.7,1258.9" stroke="#fff" stroke-width="1.9" stroke-linecap="round"/>
<path d="M924.4,1231.4 L943,1256.7" stroke="#4cc27a" stroke-width="1.8" stroke-linecap="round"/>
<path d="M972.5,1252.9 L979,1226.6" stroke="#0a8c3c" stroke-width="2" stroke-linecap="round"/>
<path d="M980.6,1251.7 L985.8,1225.5" stroke="#0a8c3c" stroke-width="2" stroke-linecap="round"/>
<path d="M946.1,1224.1 L967.4,1255.7" stroke="#fff" stroke-width="1.9" stroke-linecap="round"/>
<path d="M950.1,1228.7 L969.6,1253.3" stroke="#4cc27a" stroke-width="1.8" stroke-linecap="round"/>
<path d="M956,1222.9 L977.7,1254.2" stroke="#fff" stroke-width="1.9" stroke-linecap="round"/>
<path d="M960.1,1227.4 L980,1251.8" stroke="#4cc27a" stroke-width="1.8" stroke-linecap="round"/>
<path d="M981.5,1219.1 L1004.4,1249.6" stroke="#fff" stroke-width="1.9" stroke-linecap="round"/>
<path d="M985.8,1223.5 L1006.6,1247.1" stroke="#4cc27a" stroke-width="1.8" stroke-linecap="round"/>
<g transform="translate(1932.3 843.1) rotate(25.7)"><path d="M0 0 L-2.2 -160 L2.2 -160 Z" fill="#3d6c8e" stroke="#2a5676" stroke-width="0.8"/>
<path d="M-10.5 -156 L-15.5 -224 L15.5 -224 L10.5 -156 Q0 -152 -10.5 -156Z" fill="url(#hubg)" stroke="#0a0a0a" stroke-width="2.6" stroke-linejoin="round"/>
<path d="M-21 -224 Q-21 -218 0 -217 Q21 -218 21 -224 L21 -233 Q0 -228 -21 -233 Z" fill="#c9d68a" stroke="#0a0a0a" stroke-width="2.6" stroke-linejoin="round"/>
<path d="M-14 -232 L-16 -252 L16 -252 L14 -232 Q0 -228 -14 -232Z" fill="#7cc0ea" stroke="#0a0a0a" stroke-width="2.2"/>
<path d="M-6 -234 L-7 -250 L4 -250 L3 -233Z" fill="#d6ecf8"/>
<path d="M-49.5 -678 L-49.5 -278 Q-49.5 -264 -36 -260 Q0 -249 36 -260 Q49.5 -264 49.5 -278 L49.5 -678 Z" fill="url(#barrelg)"/>
<path d="M-46 -338 Q0 -318 46 -338 L46 -280 Q46 -267 34 -263 Q0 -253 -34 -263 Q-46 -267 -46 -280Z" fill="#eef7fb"/>
<ellipse cx="-6" cy="-272" rx="30" ry="9" fill="#cfe6f4"/>
<ellipse cx="-10" cy="-262" rx="17" ry="5" fill="#a9d4ee"/>
<path d="M-45 -670 L-45 -350 L-33 -345 L-33 -670Z" fill="#86bfe4" opacity="0.85"/>
<path d="M-38 -660 L-38 -420" stroke="#5aa9dc" stroke-width="3" opacity="0.7"/>
<path d="M30 -660 L30 -360" stroke="#ffffff" stroke-width="7" opacity="0.75"/>
<path d="M38 -640 L38 -300" stroke="#ffffff" stroke-width="3" opacity="0.8"/>
<circle cx="18" cy="-400" r="5.5" fill="#fff" opacity="0.95"/>
<circle cx="24" cy="-410" r="4" fill="#fff" opacity="0.95"/>
<circle cx="12" cy="-390" r="3.5" fill="#fff" opacity="0.95"/>
<circle cx="20" cy="-383" r="3" fill="#fff" opacity="0.95"/>
<path d="M-46 -356 Q0 -330 46 -352 L46 -338 Q0 -314 -46 -340 Z" fill="#0b0b0b"/>
<path d="M-6 -338 L30 -340 L30 -322 L-2 -320Z" fill="#8a8a8a" stroke="#333" stroke-width="1.5"/>
<path d="M-14 -338 L-6 -338 L-2 -320 L-10 -322Z" fill="#d8d8d8" stroke="#333" stroke-width="1.2"/>
<path d="M-40 -334 Q-10 -312 10 -314" fill="none" stroke="#333" stroke-width="3"/>
<path d="M-6 -288 Q20 -286.5 42 -293" fill="none" stroke="#0a0a0a" stroke-width="3" stroke-linecap="round"/>
<path d="M-2 -318 Q20 -316.5 42 -323" fill="none" stroke="#0a0a0a" stroke-width="3" stroke-linecap="round"/>
<path d="M-6 -378 Q20 -376.5 42 -383" fill="none" stroke="#0a0a0a" stroke-width="3" stroke-linecap="round"/>
<path d="M-2 -407 Q20 -405.5 42 -412" fill="none" stroke="#0a0a0a" stroke-width="3" stroke-linecap="round"/>
<path d="M-6 -436 Q20 -434.5 42 -441" fill="none" stroke="#0a0a0a" stroke-width="3" stroke-linecap="round"/>
<path d="M-2 -465 Q20 -463.5 42 -470" fill="none" stroke="#0a0a0a" stroke-width="3" stroke-linecap="round"/>
<path d="M-6 -494 Q20 -492.5 42 -499" fill="none" stroke="#0a0a0a" stroke-width="3" stroke-linecap="round"/>
<path d="M-2 -523 Q20 -521.5 42 -528" fill="none" stroke="#0a0a0a" stroke-width="3" stroke-linecap="round"/>
<path d="M-6 -552 Q20 -550.5 42 -557" fill="none" stroke="#0a0a0a" stroke-width="3" stroke-linecap="round"/>
<path d="M-2 -581 Q20 -579.5 42 -586" fill="none" stroke="#0a0a0a" stroke-width="3" stroke-linecap="round"/>
<path d="M-6 -610 Q20 -608.5 42 -615" fill="none" stroke="#0a0a0a" stroke-width="3" stroke-linecap="round"/>
<path d="M-2 -639 Q20 -637.5 42 -644" fill="none" stroke="#0a0a0a" stroke-width="3" stroke-linecap="round"/>
<path d="M-49.5 -678 L-49.5 -278 Q-49.5 -264 -36 -260 Q0 -249 36 -260 Q49.5 -264 49.5 -278 L49.5 -678 Z" fill="none" stroke="#0a0a0a" stroke-width="4" stroke-linejoin="round"/>
<path d="M-52 -670 L-52 -300" stroke="#444" stroke-width="1.6" opacity="0.7"/>
<g transform="rotate(-3.5 0 -688)">
<ellipse cx="0" cy="-681" rx="83" ry="25" fill="#9fcdea" stroke="#0a0a0a" stroke-width="3.6"/>
<ellipse cx="0" cy="-690" rx="83" ry="25" fill="#d5e8f5" stroke="#0a0a0a" stroke-width="3.2"/>
<path d="M-70 -690 A70 18 0 0 1 -10 -708" fill="none" stroke="#8fc4e6" stroke-width="7" opacity="0.9"/>
<path d="M-76 -683 A83 25 0 0 0 20 -657" fill="none" stroke="#4aa3dc" stroke-width="3" opacity="0.9"/>
</g>
<path d="M-28 -843 L-28 -700 Q-27 -690 0 -688 Q27 -690 28 -700 L28 -843Z" fill="url(#shaftg)" stroke="#0a0a0a" stroke-width="3.6" stroke-linejoin="round"/>
<path d="M-21 -838 L-21 -700" stroke="#5aa9dc" stroke-width="5" opacity="0.75"/>
<path d="M-12 -835 L-12 -760" stroke="#8fc4e6" stroke-width="6" opacity="0.7"/>
<g transform="rotate(-4 0 -853)">
<ellipse cx="0" cy="-847" rx="46" ry="13.5" fill="#8fc4e6" stroke="#0a0a0a" stroke-width="3.4"/>
<ellipse cx="0" cy="-854" rx="46" ry="13.5" fill="#d3e7f5" stroke="#0a0a0a" stroke-width="3.2"/>
<path d="M10 -846 A40 10 0 0 0 40 -854" fill="none" stroke="#9fcdea" stroke-width="6" opacity="0.9"/>
<path d="M-40 -846 A46 13 0 0 0 10 -834" fill="none" stroke="#4aa3dc" stroke-width="2.6" opacity="0.9"/>
</g></g>
<g clip-path="url(#tubeclip)">
<rect x="2830" y="370" width="190" height="140" fill="#fddcae"/>
<rect x="2838" y="379" width="10" height="129" fill="#fdc98a" opacity="0.7"/>
<path d="M2840 380 V506" stroke="#9a9a9a" stroke-width="2"/>
<path d="M3007.5 380 V506" stroke="#9a9a9a" stroke-width="2"/>
<path d="M2854 404 V500" stroke="#fff" stroke-width="1.5" opacity="0.9"/>
<path d="M2992.5 392 V430" stroke="#fff" stroke-width="1.5" opacity="0.9"/>
<rect x="2830" y="508" width="190" height="256" fill="#b3dbe9"/>
<rect x="2837" y="508" width="24" height="256" fill="#ddeef5"/>
<rect x="2853.5" y="508" width="3.5" height="256" fill="#fff"/>
<rect x="2973" y="645" width="15" height="119" fill="#7cc3de"/>
<rect x="2999" y="508" width="4" height="256" fill="#e6f3f8"/>
<rect x="3003" y="508" width="8" height="256" fill="#c9e6f0"/>
<path d="M2838 508 H2876" stroke="#9bb" stroke-width="1.5" opacity="0.7"/>
<rect x="2830" y="763" width="190" height="700" fill="#fbb7a0"/>
<ellipse cx="2923.7" cy="764" rx="88" ry="5.5" fill="#fcd3c6" stroke="#e8a79a" stroke-width="1"/>
<path d="M2973.5 768 H2987 V1385 Q2984 1420 2940 1431 Q2972 1415 2973.5 1375 Z" fill="#960019"/>
<path d="M2994.3 768 H3003.5 V1385 Q3001 1424 2950 1437 L2944 1432 Q2990 1420 2994.3 1385 Z" fill="#f08a80"/>
<rect x="2992.3" y="768" width="2.2" height="560" fill="#fff"/>
<path d="M3003.5 768 H3011 V1385 Q3008 1430 2950 1440 L2950 1437 Q3001 1424 3003.5 1385Z" fill="#f6a598"/>
<path d="M2856.5 768 V1370 Q2858 1408 2890 1426" fill="none" stroke="#fff" stroke-width="5"/>
<path d="M2868 1150 Q2884 1250 2876 1362 Q2862 1260 2868 1150Z" fill="#f08a80"/>
<path d="M2872 1395 Q2905 1432 2960 1420 Q2925 1442 2890 1428Z" fill="#f29a8e"/>
<ellipse cx="2900.5" cy="771.5" rx="7.5" ry="6.5" fill="#fff"/>
<ellipse cx="2916" cy="770" rx="4.5" ry="3.2" fill="#fff"/>
<ellipse cx="2881.5" cy="769.5" rx="4" ry="2.6" fill="#fff"/>
</g>
<ellipse cx="2856.5" cy="484.5" rx="8" ry="5.5" fill="#fff"/>
<ellipse cx="2855" cy="502" rx="12.5" ry="10" fill="#fff"/>
<ellipse cx="2861" cy="521" rx="7" ry="5" fill="#fff"/>
<path d="M2886 421.5 H3000.7 V649 Q2945 657 2886 649 Q2878.7 647 2878.7 640 V429 Q2878.7 422.5 2886 421.5Z" fill="#fff" stroke="#000" stroke-width="2.4"/>
<rect x="2879.5" y="497.8" width="127.8" height="54.8" fill="#fdc05f"/>
<path d="M2894 466 l9 -1 l-1 14 l-7 1 m7 0 l7 -1 m4 -10 l6 10 l7 -2 m4 -8 q8 -3 10 4 q-7 6 -11 0 q2 8 13 4 m3 -16 l2 16 q9 -9 14 -2 m4 0 q9 -11 16 -2 q-11 6 -13 -2 q4 11 20 2 l8 -6" fill="none" stroke="#000" stroke-width="1.9" stroke-linecap="round" stroke-linejoin="round"/>
<path d="M2894 568 q5 -3 7 1 q3 -4 6 1 l5 6 l-6 2 m6 -2 l5 -12 l4 14 m-12 6 l18 -8 q5 -6 11 -2 q-3 6 5 4 l8 -2 q5 4 11 0 l8 -3 m10 -2 q-5 -5 1 -8 m0 0 l3 10" fill="none" stroke="#000" stroke-width="1.8" stroke-linecap="round" stroke-linejoin="round"/>
<path d="M2834.3 379 V1377.5 A89.4 64 0 0 0 3013.2 1377.5 V379" fill="none" stroke="#000" stroke-width="6"/>
<path d="M2828 309 Q2828 301.5 2923.7 301.5 Q3019.5 301.5 3019.5 309 V372 Q2923.7 386 2828 372 Z" fill="url(#capg)" stroke="#000" stroke-width="3.2" stroke-linejoin="round"/>
<path d="M2830 309 Q2923.7 323 3018 309 Q2923.7 304 2830 309Z" fill="#fde3bd"/>
<path d="M2828 309 Q2923.7 325 3019.5 309" fill="none" stroke="#000" stroke-width="2.4"/>
<path d="M2842 338 Q2850 326 2876 328 Q2914 326 2918 332 Q2880 338 2868 352 Q2850 358 2842 338Z" fill="#fff" opacity="0.85" filter="url(#blur1)"/>
<path d="M2838 328 V364 Q2880 374 2922 376 Q2960 360 3000 340 Q2960 338 2910 352 Q2870 362 2838 328Z" fill="#fde0b8" opacity="0.7"/>
<path d="M2975 372 Q3002 360 3004 332 Q3012 350 3008 370Z" fill="#d98a22" opacity="0.8"/>
<path d="M2874.9,983.6 L2861.2,965.8" stroke="#ffc000" stroke-width="5.2" stroke-linecap="round"/>
<path d="M2878.5,977.8 L2864.8,960.1" stroke="#ffc000" stroke-width="5.2" stroke-linecap="round"/>
<path d="M2864.8,961.9 L2885.1,963.2" stroke="#ffc000" stroke-width="4.7" stroke-linecap="round"/>
<path d="M2868,956.6 L2888.3,957.8" stroke="#ffc000" stroke-width="4.7" stroke-linecap="round"/>
<path d="M2888.7,961.1 L2874.6,943.6" stroke="#ffc000" stroke-width="5.2" stroke-linecap="round"/>
<path d="M2892.2,955.2 L2878.1,937.8" stroke="#ffc000" stroke-width="5.2" stroke-linecap="round"/>
<path d="M2878.1,939.6 L2898.4,940.5" stroke="#ffc000" stroke-width="4.7" stroke-linecap="round"/>
<path d="M2881.3,934.2 L2901.6,935" stroke="#ffc000" stroke-width="4.7" stroke-linecap="round"/>
<path d="M2902,938.3 L2887.6,921.1" stroke="#ffc000" stroke-width="5.2" stroke-linecap="round"/>
<path d="M2905.4,932.3 L2890.9,915.2" stroke="#ffc000" stroke-width="5.2" stroke-linecap="round"/>
<path d="M2891,917.1 L2911.3,917.5" stroke="#ffc000" stroke-width="4.7" stroke-linecap="round"/>
<path d="M2894,911.6 L2914.3,912" stroke="#ffc000" stroke-width="4.7" stroke-linecap="round"/>
<path d="M2914.8,915.2 L2900,898.4" stroke="#ffc000" stroke-width="5.2" stroke-linecap="round"/>
<path d="M2918,909.2 L2903.2,892.4" stroke="#ffc000" stroke-width="5.2" stroke-linecap="round"/>
<path d="M2903.3,894.3 L2923.6,894.3" stroke="#ffc000" stroke-width="4.7" stroke-linecap="round"/>
<path d="M2906.2,888.8 L2926.5,888.7" stroke="#ffc000" stroke-width="4.7" stroke-linecap="round"/>
<path d="M2927.1,891.9 L2911.9,875.4" stroke="#ffc000" stroke-width="5.2" stroke-linecap="round"/>
<path d="M2930.2,885.8 L2915,869.4" stroke="#ffc000" stroke-width="5.2" stroke-linecap="round"/>
<path d="M2915.2,871.2 L2935.5,870.8" stroke="#ffc000" stroke-width="4.7" stroke-linecap="round"/>
<path d="M2917.9,865.7 L2938.2,865.1" stroke="#ffc000" stroke-width="4.7" stroke-linecap="round"/>
<path d="M2938.9,868.4 L2923.4,852.2" stroke="#ffc000" stroke-width="5.2" stroke-linecap="round"/>
<path d="M2941.9,862.2 L2926.3,846.1" stroke="#ffc000" stroke-width="5.2" stroke-linecap="round"/>
<path d="M2926.5,847.9 L2946.8,847" stroke="#ffc000" stroke-width="4.7" stroke-linecap="round"/>
<path d="M2929.2,842.3 L2949.5,841.3" stroke="#ffc000" stroke-width="4.7" stroke-linecap="round"/>
<path d="M2950.2,844.5 L2934.3,828.7" stroke="#ffc000" stroke-width="5.2" stroke-linecap="round"/>
<path d="M2953,838.3 L2937.1,822.5" stroke="#ffc000" stroke-width="5.2" stroke-linecap="round"/>
<path d="M2937.4,824.3 L2957.6,823" stroke="#ffc000" stroke-width="4.7" stroke-linecap="round"/>
<path d="M2939.9,818.6 L2960.2,817.2" stroke="#ffc000" stroke-width="4.7" stroke-linecap="round"/>
<path d="M2961,820.4 L2944.8,804.9" stroke="#ffc000" stroke-width="5.2" stroke-linecap="round"/>
<path d="M2963.7,814.1 L2947.4,798.7" stroke="#ffc000" stroke-width="5.2" stroke-linecap="round"/>
<path d="M2867.8,962.5 L2881.7,963.1" stroke="#a6c41e" stroke-width="1" stroke-linecap="round"/>
<path d="M2870.1,961.9 L2883,962" stroke="#ff5a2e" stroke-width="0.7" stroke-linecap="round"/>
<path d="M2871.1,957.1 L2884.9,957.7" stroke="#a6c41e" stroke-width="1" stroke-linecap="round"/>
<path d="M2873.3,956.6 L2886.3,956.5" stroke="#ff5a2e" stroke-width="0.7" stroke-linecap="round"/>
<path d="M2881.1,940.1 L2895,940.5" stroke="#a6c41e" stroke-width="1" stroke-linecap="round"/>
<path d="M2883.4,939.5 L2896.3,939.3" stroke="#ff5a2e" stroke-width="0.7" stroke-linecap="round"/>
<path d="M2884.3,934.7 L2898.2,935" stroke="#a6c41e" stroke-width="1" stroke-linecap="round"/>
<path d="M2886.5,934.1 L2899.5,933.8" stroke="#ff5a2e" stroke-width="0.7" stroke-linecap="round"/>
<path d="M2894,917.5 L2907.9,917.6" stroke="#a6c41e" stroke-width="1" stroke-linecap="round"/>
<path d="M2896.2,916.9 L2909.2,916.4" stroke="#ff5a2e" stroke-width="0.7" stroke-linecap="round"/>
<path d="M2897,912 L2910.9,912" stroke="#a6c41e" stroke-width="1" stroke-linecap="round"/>
<path d="M2899.2,911.4 L2912.2,910.8" stroke="#ff5a2e" stroke-width="0.7" stroke-linecap="round"/>
<path d="M2906.3,894.6 L2920.2,894.4" stroke="#a6c41e" stroke-width="1" stroke-linecap="round"/>
<path d="M2908.6,894 L2921.5,893.2" stroke="#ff5a2e" stroke-width="0.7" stroke-linecap="round"/>
<path d="M2909.2,889.1 L2923.1,888.8" stroke="#a6c41e" stroke-width="1" stroke-linecap="round"/>
<path d="M2911.5,888.4 L2924.4,887.6" stroke="#ff5a2e" stroke-width="0.7" stroke-linecap="round"/>
<path d="M2918.2,871.5 L2932.1,871" stroke="#a6c41e" stroke-width="1" stroke-linecap="round"/>
<path d="M2920.4,870.8 L2933.3,869.7" stroke="#ff5a2e" stroke-width="0.7" stroke-linecap="round"/>
<path d="M2921,865.9 L2934.9,865.3" stroke="#a6c41e" stroke-width="1" stroke-linecap="round"/>
<path d="M2923.2,865.2 L2936.1,864.1" stroke="#ff5a2e" stroke-width="0.7" stroke-linecap="round"/>
<path d="M2929.6,848.1 L2943.4,847.3" stroke="#a6c41e" stroke-width="1" stroke-linecap="round"/>
<path d="M2931.8,847.4 L2944.6,846" stroke="#ff5a2e" stroke-width="0.7" stroke-linecap="round"/>
<path d="M2932.2,842.5 L2946.1,841.6" stroke="#a6c41e" stroke-width="1" stroke-linecap="round"/>
<path d="M2934.4,841.7 L2947.3,840.3" stroke="#ff5a2e" stroke-width="0.7" stroke-linecap="round"/>
<path d="M2940.4,824.5 L2954.3,823.4" stroke="#a6c41e" stroke-width="1" stroke-linecap="round"/>
<path d="M2942.6,823.7 L2955.4,822.1" stroke="#ff5a2e" stroke-width="0.7" stroke-linecap="round"/>
<path d="M2943,818.8 L2956.8,817.6" stroke="#a6c41e" stroke-width="1" stroke-linecap="round"/>
<path d="M2945.1,817.9 L2958,816.3" stroke="#ff5a2e" stroke-width="0.7" stroke-linecap="round"/>
<path d="M2873.8,982.2 L2862.3,967.1" stroke="#000" stroke-width="2" stroke-linecap="round"/>
<path d="M2877.4,976.4 L2865.9,961.4" stroke="#000" stroke-width="2" stroke-linecap="round"/>
<path d="M2887.6,959.7 L2875.8,944.9" stroke="#000" stroke-width="2" stroke-linecap="round"/>
<path d="M2891.1,953.8 L2879.2,939.1" stroke="#000" stroke-width="2" stroke-linecap="round"/>
<path d="M2900.8,937 L2888.7,922.4" stroke="#000" stroke-width="2" stroke-linecap="round"/>
<path d="M2904.2,931 L2892,916.5" stroke="#000" stroke-width="2" stroke-linecap="round"/>
<path d="M2913.6,914 L2901.2,899.6" stroke="#000" stroke-width="2" stroke-linecap="round"/>
<path d="M2916.8,907.9 L2904.4,893.7" stroke="#000" stroke-width="2" stroke-linecap="round"/>
<path d="M2925.9,890.7 L2913.2,876.6" stroke="#000" stroke-width="2" stroke-linecap="round"/>
<path d="M2929,884.6 L2916.2,870.6" stroke="#000" stroke-width="2" stroke-linecap="round"/>
<path d="M2937.6,867.1 L2924.6,853.4" stroke="#000" stroke-width="2" stroke-linecap="round"/>
<path d="M2940.6,861 L2927.5,847.3" stroke="#000" stroke-width="2" stroke-linecap="round"/>
<path d="M2948.9,843.3 L2935.6,829.8" stroke="#000" stroke-width="2" stroke-linecap="round"/>
<path d="M2951.8,837.1 L2938.4,823.7" stroke="#000" stroke-width="2" stroke-linecap="round"/>
<path d="M2959.7,819.3 L2946.1,806.1" stroke="#000" stroke-width="2" stroke-linecap="round"/>
<path d="M2962.4,813 L2948.7,799.8" stroke="#000" stroke-width="2" stroke-linecap="round"/>
<ellipse cx="2955.5" cy="937.4" rx="9.6" ry="10.5" fill="#1f9ad7" stroke="#0b78b3" stroke-width="3"/>
<ellipse cx="2926.4" cy="964.8" rx="9.6" ry="10.5" fill="#1f9ad7" stroke="#0b78b3" stroke-width="3"/>
<ellipse cx="2951.1" cy="995.6" rx="9.6" ry="10.5" fill="#1f9ad7" stroke="#0b78b3" stroke-width="3"/>
<path d="M2885,1056 2894.4,1065.9 2896.6,1052.4 2906.3,1061.9 2908.3,1047.9 2917.9,1057 2919.2,1043.3 2928.8,1052 2928.6,1038.2 2940.7,1046.4 2938.5,1032.6 2950.3,1039 2947.5,1024.2 2959,1031" fill="none" stroke="#7d828c" stroke-width="4.2" stroke-linejoin="round" stroke-linecap="round"/>
<path d="M2885,1056 2894.4,1065.9 2896.6,1052.4 2906.3,1061.9 2908.3,1047.9 2917.9,1057 2919.2,1043.3 2928.8,1052 2928.6,1038.2 2940.7,1046.4 2938.5,1032.6 2950.3,1039 2947.5,1024.2 2959,1031" fill="none" stroke="#c3ccd6" stroke-width="1.5" stroke-linejoin="round" stroke-linecap="round" transform="translate(-0.6 -0.6)"/>
<path d="M2889.2 1054.7 L2893.4 1059.1" stroke="#9fc4d8" stroke-width="0.8"/>
<path d="M2900.8 1051 L2904.9 1055" stroke="#9fc4d8" stroke-width="0.8"/>
<path d="M2912.5 1046.4 L2916.5 1050.2" stroke="#9fc4d8" stroke-width="0.8"/>
<path d="M2923.4 1041.7 L2927.2 1045.3" stroke="#9fc4d8" stroke-width="0.8"/>
<path d="M2932.4 1036.1 L2938.2 1039.9" stroke="#9fc4d8" stroke-width="0.8"/>
<path d="M2942.2 1030.1 L2947.1 1032.8" stroke="#9fc4d8" stroke-width="0.8"/>
<path d="M2951.3 1021.8 L2956.1 1024.7" stroke="#9fc4d8" stroke-width="0.8"/>
<path d="M2907.1,1166.7 L2902.1,1152.8" stroke="#5a5a5a" stroke-width="4" stroke-linecap="round"/>
<path d="M2909.9,1163.6 L2904.5,1150.1" stroke="#5a5a5a" stroke-width="4" stroke-linecap="round"/>
<path d="M2887.8,1164.2 L2907.2,1168.1" stroke="#5a5a5a" stroke-width="4.7" stroke-linecap="round"/>
<path d="M2891.2,1160.4 L2910.7,1164.2" stroke="#5a5a5a" stroke-width="4.7" stroke-linecap="round"/>
<path d="M2919.5,1152.6 L2914.2,1138.8" stroke="#5a5a5a" stroke-width="4" stroke-linecap="round"/>
<path d="M2922.2,1149.4 L2916.5,1136.1" stroke="#5a5a5a" stroke-width="4" stroke-linecap="round"/>
<path d="M2900.1,1150.5 L2919.7,1154" stroke="#5a5a5a" stroke-width="4.7" stroke-linecap="round"/>
<path d="M2903.5,1146.6 L2923.1,1149.9" stroke="#5a5a5a" stroke-width="4.7" stroke-linecap="round"/>
<path d="M2931.6,1138.2 L2926,1124.5" stroke="#5a5a5a" stroke-width="4" stroke-linecap="round"/>
<path d="M2934.2,1135 L2928.2,1121.8" stroke="#5a5a5a" stroke-width="4" stroke-linecap="round"/>
<path d="M2912.2,1136.5 L2931.8,1139.6" stroke="#5a5a5a" stroke-width="4.7" stroke-linecap="round"/>
<path d="M2915.5,1132.6 L2935.1,1135.5" stroke="#5a5a5a" stroke-width="4.7" stroke-linecap="round"/>
<path d="M2943.4,1123.5 L2937.4,1110" stroke="#5a5a5a" stroke-width="4" stroke-linecap="round"/>
<path d="M2945.9,1120.3 L2939.6,1107.2" stroke="#5a5a5a" stroke-width="4" stroke-linecap="round"/>
<path d="M2923.9,1122.3 L2943.6,1124.9" stroke="#5a5a5a" stroke-width="4.7" stroke-linecap="round"/>
<path d="M2927.1,1118.3 L2946.8,1120.8" stroke="#5a5a5a" stroke-width="4.7" stroke-linecap="round"/>
<path d="M2954.8,1108.6 L2948.6,1095.2" stroke="#5a5a5a" stroke-width="4" stroke-linecap="round"/>
<path d="M2957.3,1105.3 L2950.7,1092.4" stroke="#5a5a5a" stroke-width="4" stroke-linecap="round"/>
<path d="M2935.3,1107.9 L2955,1110" stroke="#5a5a5a" stroke-width="4.7" stroke-linecap="round"/>
<path d="M2938.4,1103.8 L2958.2,1105.8" stroke="#5a5a5a" stroke-width="4.7" stroke-linecap="round"/>
<path d="M2965.9,1093.5 L2959.4,1080.2" stroke="#5a5a5a" stroke-width="4" stroke-linecap="round"/>
<path d="M2968.3,1090.1 L2961.4,1077.3" stroke="#5a5a5a" stroke-width="4" stroke-linecap="round"/>
<path d="M2946.4,1093.1 L2966.2,1094.8" stroke="#5a5a5a" stroke-width="4.7" stroke-linecap="round"/>
<path d="M2949.4,1089 L2969.2,1090.5" stroke="#5a5a5a" stroke-width="4.7" stroke-linecap="round"/>
<path d="M2976.6,1078.1 L2969.9,1064.9" stroke="#5a5a5a" stroke-width="4" stroke-linecap="round"/>
<path d="M2979,1074.6 L2971.8,1062" stroke="#5a5a5a" stroke-width="4" stroke-linecap="round"/>
<path d="M2957.1,1078.2 L2976.9,1079.4" stroke="#5a5a5a" stroke-width="4.7" stroke-linecap="round"/>
<path d="M2960.1,1073.9 L2979.9,1075" stroke="#5a5a5a" stroke-width="4.7" stroke-linecap="round"/>
<path d="M2967.6,1062.9 L2987.4,1063.7" stroke="#5a5a5a" stroke-width="4.7" stroke-linecap="round"/>
<path d="M2905.7,1164.2 L2903.2,1155.4" stroke="#9aa" stroke-width="1.2" stroke-linecap="round"/>
<path d="M2908.5,1161.1 L2905.6,1152.8" stroke="#9aa" stroke-width="1.2" stroke-linecap="round"/>
<path d="M2889.1,1164.6 L2904.6,1167.4" stroke="#fff" stroke-width="1.2" stroke-linecap="round"/>
<path d="M2892.8,1165.1 L2904.7,1165.4" stroke="#cfd6d2" stroke-width="1.1" stroke-linecap="round"/>
<path d="M2892.6,1160.8 L2908.1,1163.4" stroke="#fff" stroke-width="1.2" stroke-linecap="round"/>
<path d="M2896.3,1161.3 L2908.2,1161.5" stroke="#cfd6d2" stroke-width="1.1" stroke-linecap="round"/>
<path d="M2918.1,1150.1 L2915.4,1141.4" stroke="#9aa" stroke-width="1.2" stroke-linecap="round"/>
<path d="M2920.8,1147 L2917.7,1138.7" stroke="#9aa" stroke-width="1.2" stroke-linecap="round"/>
<path d="M2901.5,1150.9 L2917,1153.3" stroke="#fff" stroke-width="1.2" stroke-linecap="round"/>
<path d="M2905.2,1151.3 L2917.1,1151.3" stroke="#cfd6d2" stroke-width="1.1" stroke-linecap="round"/>
<path d="M2904.9,1147 L2920.4,1149.3" stroke="#fff" stroke-width="1.2" stroke-linecap="round"/>
<path d="M2908.6,1147.4 L2920.5,1147.3" stroke="#cfd6d2" stroke-width="1.1" stroke-linecap="round"/>
<path d="M2930.1,1135.7 L2927.2,1127.1" stroke="#9aa" stroke-width="1.2" stroke-linecap="round"/>
<path d="M2932.7,1132.6 L2929.4,1124.3" stroke="#9aa" stroke-width="1.2" stroke-linecap="round"/>
<path d="M2913.5,1136.9 L2929.1,1138.9" stroke="#fff" stroke-width="1.2" stroke-linecap="round"/>
<path d="M2917.3,1137.2 L2929.1,1137" stroke="#cfd6d2" stroke-width="1.1" stroke-linecap="round"/>
<path d="M2916.8,1132.9 L2932.4,1134.9" stroke="#fff" stroke-width="1.2" stroke-linecap="round"/>
<path d="M2920.6,1133.2 L2932.4,1132.9" stroke="#cfd6d2" stroke-width="1.1" stroke-linecap="round"/>
<path d="M2941.8,1121.1 L2938.7,1112.5" stroke="#9aa" stroke-width="1.2" stroke-linecap="round"/>
<path d="M2944.3,1117.9 L2940.9,1109.7" stroke="#9aa" stroke-width="1.2" stroke-linecap="round"/>
<path d="M2925.2,1122.6 L2940.8,1124.4" stroke="#fff" stroke-width="1.2" stroke-linecap="round"/>
<path d="M2929,1122.9 L2940.8,1122.4" stroke="#cfd6d2" stroke-width="1.1" stroke-linecap="round"/>
<path d="M2928.5,1118.6 L2944.1,1120.2" stroke="#fff" stroke-width="1.2" stroke-linecap="round"/>
<path d="M2932.2,1118.8 L2944.1,1118.2" stroke="#cfd6d2" stroke-width="1.1" stroke-linecap="round"/>
<path d="M2953.2,1106.3 L2949.9,1097.7" stroke="#9aa" stroke-width="1.2" stroke-linecap="round"/>
<path d="M2955.6,1103 L2952,1094.9" stroke="#9aa" stroke-width="1.2" stroke-linecap="round"/>
<path d="M2936.7,1108.1 L2952.3,1109.5" stroke="#fff" stroke-width="1.2" stroke-linecap="round"/>
<path d="M2940.4,1108.3 L2952.2,1107.5" stroke="#cfd6d2" stroke-width="1.1" stroke-linecap="round"/>
<path d="M2939.8,1104 L2955.4,1105.3" stroke="#fff" stroke-width="1.2" stroke-linecap="round"/>
<path d="M2943.6,1104.2 L2955.4,1103.3" stroke="#cfd6d2" stroke-width="1.1" stroke-linecap="round"/>
<path d="M2964.2,1091.1 L2960.8,1082.7" stroke="#9aa" stroke-width="1.2" stroke-linecap="round"/>
<path d="M2966.6,1087.8 L2962.8,1079.8" stroke="#9aa" stroke-width="1.2" stroke-linecap="round"/>
<path d="M2947.7,1093.4 L2963.4,1094.4" stroke="#fff" stroke-width="1.2" stroke-linecap="round"/>
<path d="M2951.5,1093.5 L2963.3,1092.4" stroke="#cfd6d2" stroke-width="1.1" stroke-linecap="round"/>
<path d="M2950.8,1089.2 L2966.5,1090.1" stroke="#fff" stroke-width="1.2" stroke-linecap="round"/>
<path d="M2954.6,1089.3 L2966.3,1088.1" stroke="#cfd6d2" stroke-width="1.1" stroke-linecap="round"/>
<path d="M2974.9,1075.8 L2971.3,1067.4" stroke="#9aa" stroke-width="1.2" stroke-linecap="round"/>
<path d="M2977.2,1072.3 L2973.3,1064.4" stroke="#9aa" stroke-width="1.2" stroke-linecap="round"/>
<path d="M2958.5,1078.4 L2974.2,1079" stroke="#fff" stroke-width="1.2" stroke-linecap="round"/>
<path d="M2962.3,1078.4 L2974,1077.1" stroke="#cfd6d2" stroke-width="1.1" stroke-linecap="round"/>
<path d="M2961.5,1074.1 L2977.2,1074.7" stroke="#fff" stroke-width="1.2" stroke-linecap="round"/>
<path d="M2965.2,1074.1 L2977,1072.7" stroke="#cfd6d2" stroke-width="1.1" stroke-linecap="round"/>
<path d="M2968.9,1063.1 L2984.6,1063.4" stroke="#fff" stroke-width="1.2" stroke-linecap="round"/>
<path d="M2972.7,1063 L2984.5,1061.4" stroke="#cfd6d2" stroke-width="1.1" stroke-linecap="round"/>
<g transform="translate(2930.8 1255) scale(0.45 0.65) translate(-2930.8 -1255)"><path d="M2979.2 1264.8C2976.6 1277.5 2976.9 1274.1 2966.5 1282.1C2956.1 1290 2959.6 1283.3 2948 1288.6C2936.5 1293.9 2943.5 1296.1 2931.8 1297.9C2920.2 1299.7 2925.7 1298.1 2913.2 1294C2900.7 1289.9 2903.8 1294.7 2894.3 1285.6C2884.8 1276.5 2886.2 1279.7 2884.7 1266.7C2883.3 1253.8 2885.8 1259.2 2889.9 1246.7C2894 1234.2 2890.3 1240.3 2896.9 1229.3C2903.5 1218.3 2898.8 1218.9 2909.7 1213.8C2920.7 1208.8 2916.8 1213.8 2929.8 1214.2C2942.9 1214.6 2937.5 1210.6 2948.9 1215C2960.2 1219.4 2955.2 1217.8 2963.8 1227.4C2972.3 1237 2969.3 1231.4 2974.5 1243.9C2979.6 1256.4 2981.9 1252.1 2979.2 1264.8Z" fill="#f3a762"/>
<g clip-path="url(#o2930_1255)">
<path d="M2980 1268.5C2977 1281.4 2979.4 1276.4 2971.4 1286.8C2963.3 1297.2 2967.6 1295.1 2955.9 1299.8C2944.1 1304.4 2949.9 1299.2 2936.2 1300.8C2922.5 1302.5 2927.2 1308.4 2914.7 1304.8C2902.2 1301.2 2908 1301 2898.8 1289.9C2889.5 1278.9 2889.9 1284.9 2887 1271.6C2884.1 1258.4 2885.2 1262.9 2890 1250.2C2894.7 1237.6 2892.6 1243.1 2901.3 1233.7C2910 1224.3 2905.1 1229.8 2916 1222C2926.9 1214.1 2921.4 1211.5 2934 1210.2C2946.6 1208.9 2940.7 1212.4 2953.9 1218C2967.1 1223.7 2964.8 1217.2 2973.6 1227.2C2982.4 1237.2 2978.1 1234.2 2980.2 1248C2982.3 1261.7 2982.9 1255.5 2980 1268.5Z" fill="none" stroke="#e98b30" stroke-width="9.7"/>
<path d="M2961.7 1254.4C2958.1 1266.4 2960.5 1260.3 2953.9 1271.1C2947.3 1281.9 2952.5 1278.5 2942 1286.9C2931.4 1295.3 2935.1 1296.9 2922.3 1296.3C2909.5 1295.7 2916.2 1291.5 2903.6 1285.1C2890.9 1278.7 2892.4 1286.5 2884.3 1277.1C2876.1 1267.7 2881.1 1270 2879.2 1256.9C2877.2 1243.7 2876.2 1250 2878.5 1237.6C2880.8 1225.1 2878.4 1229.5 2886 1219.6C2893.7 1209.6 2890.1 1213.3 2901.4 1207.8C2912.8 1202.3 2906.3 1206.1 2920.1 1203.1C2933.8 1200 2930.9 1193.7 2942.7 1198.5C2954.4 1203.4 2948 1205.3 2955.4 1217.5C2962.7 1229.7 2962.6 1222.8 2964.7 1235.1C2966.9 1247.4 2965.3 1242.4 2961.7 1254.4Z" fill="none" stroke="#f8caa2" stroke-width="13.2"/>
<path d="M2961.5 1261.2C2958.2 1269.3 2958 1264.7 2952.3 1271.3C2946.5 1277.9 2951 1275.1 2944.1 1281.1C2937.3 1287 2940.8 1287.3 2931.6 1289.1C2922.5 1290.9 2925 1291 2916.6 1286.4C2908.2 1281.9 2912.3 1283.3 2906.3 1275.5C2900.4 1267.8 2900.2 1271.9 2898.7 1263.2C2897.2 1254.4 2899.5 1258.2 2901.9 1249.1C2904.3 1240.1 2900.9 1243.1 2905.9 1236.1C2910.9 1229.1 2909 1231.7 2917 1228.1C2925.1 1224.5 2920.9 1226.6 2930.1 1225.4C2939.2 1224.3 2934.9 1222.7 2944.5 1224.8C2954 1226.8 2952.9 1224.1 2958.7 1231.6C2964.6 1239 2961.1 1237.2 2962 1247.1C2962.9 1257 2964.7 1253.1 2961.5 1261.2Z" fill="none" stroke="#f6b57a" stroke-width="4.4"/>
</g>
<path d="M2956.4 1261.3C2953.8 1270.2 2956.9 1267.9 2951.1 1273.7C2945.3 1279.5 2947.2 1275.8 2939 1278.6C2930.8 1281.5 2935.7 1281.8 2926.4 1282.2C2917.2 1282.6 2918.2 1285.5 2911.2 1279.9C2904.2 1274.3 2907.1 1274.9 2905.4 1265.3C2903.7 1255.8 2902.8 1259 2906.1 1251.1C2909.4 1243.2 2909.5 1248.3 2915.3 1241.6C2921.1 1235 2916.1 1235.7 2923.4 1231.2C2930.8 1226.6 2928.7 1226.5 2937.4 1228.1C2946.1 1229.6 2942.4 1229.5 2949.6 1235.8C2956.7 1242.1 2956.6 1238.5 2958.8 1247C2961.1 1255.5 2959 1252.4 2956.4 1261.3Z" fill="#fff"/>
<g clip-path="url(#on2930_1255)">
<path d="M2951.7 1260.4C2949.5 1267.7 2952.3 1266 2947.5 1270.5C2942.8 1275.1 2944.2 1271.8 2937.5 1274.1C2930.8 1276.4 2935.1 1276.8 2927.4 1277.5C2919.7 1278.1 2920.2 1280.8 2914.4 1276.2C2908.6 1271.6 2911.2 1271.8 2910 1263.8C2908.8 1255.7 2907.8 1258.4 2910.8 1252.1C2913.7 1245.7 2914.1 1250.2 2918.8 1244.8C2923.5 1239.3 2919.1 1239.7 2924.9 1235.7C2930.8 1231.7 2929.3 1231.6 2936.4 1232.8C2943.6 1234.1 2940.5 1234.2 2946.4 1239.4C2952.4 1244.7 2952.5 1241.6 2954.3 1248.6C2956.1 1255.5 2954 1253.1 2951.7 1260.4Z" fill="#0893b6"/>
<path d="M2935.3 1256.8C2932.7 1264.2 2931.7 1261.9 2926.6 1265.1C2921.4 1268.3 2925.8 1261.9 2919.9 1266.3C2914.1 1270.7 2913.9 1279 2909.1 1278.3C2904.2 1277.7 2905.3 1273.2 2905.4 1264.3C2905.5 1255.3 2907 1259.2 2909.4 1251.5C2911.7 1243.8 2909.1 1248.3 2912.4 1241.2C2915.8 1234.2 2915.1 1230.9 2919.6 1230.4C2924.1 1229.9 2920.9 1235.5 2925.9 1239.6C2930.8 1243.8 2931.3 1237.1 2934.4 1242.8C2937.5 1248.6 2937.9 1249.4 2935.3 1256.8Z" fill="#007c9f"/>
<path d="M2943.1 1257.9C2940.7 1263 2938.1 1256.5 2933.5 1262.3C2928.9 1268.2 2932.5 1274.4 2929.2 1275.5C2925.9 1276.6 2927.6 1270 2923.6 1265.6C2919.6 1261.2 2919.5 1266.7 2917.2 1262.3C2914.9 1258 2916.5 1260.4 2916.6 1252.6C2916.8 1244.8 2913.8 1240.7 2917.7 1238.9C2921.6 1237.2 2922.4 1246.9 2928.2 1247.3C2934.1 1247.8 2931.2 1240.3 2935.4 1240.3C2939.5 1240.2 2938.1 1241.2 2940.6 1247.1C2943.2 1253 2945.4 1252.8 2943.1 1257.9Z" fill="#0893b6"/>
<path d="M2950.9 1270.1C2953 1276.1 2958.5 1281.1 2956.1 1283.1C2953.6 1285.2 2950 1277.7 2943.6 1276.2C2937.3 1274.7 2939.7 1280.2 2937 1278.7C2934.3 1277.2 2937.9 1276 2935.6 1271.8C2933.2 1267.5 2929.5 1269 2930.1 1265.8C2930.6 1262.7 2933.7 1267.7 2937.2 1262.2C2940.7 1256.8 2937.6 1249.5 2940.7 1249.4C2943.8 1249.2 2943.4 1256.5 2946.5 1261.7C2949.6 1266.9 2948.5 1262.2 2950 1265C2951.5 1267.8 2948.9 1264 2950.9 1270.1Z" fill="#7fc3d9"/>
<path d="M2942.9 1264C2942.2 1266.9 2944.5 1265.7 2943.3 1268.6C2942.2 1271.5 2942.2 1272.5 2939.3 1272.7C2936.5 1272.9 2938.4 1270.9 2934.9 1269.1C2931.4 1267.4 2930.3 1270 2928.8 1267.5C2927.3 1264.9 2928.1 1263.9 2930.4 1261.4C2932.6 1258.9 2933.1 1261.7 2935.5 1259.9C2937.9 1258.2 2934.4 1259.1 2937.5 1256.2C2940.7 1253.3 2942.3 1249.9 2944.9 1251.1C2947.5 1252.3 2946 1255.5 2945.3 1259.8C2944.6 1264 2943.5 1261 2942.9 1264Z" fill="#3fa9c8"/>
</g>
<path d="M2979.2 1264.8C2976.6 1277.5 2976.9 1274.1 2966.5 1282.1C2956.1 1290 2959.6 1283.3 2948 1288.6C2936.5 1293.9 2943.5 1296.1 2931.8 1297.9C2920.2 1299.7 2925.7 1298.1 2913.2 1294C2900.7 1289.9 2903.8 1294.7 2894.3 1285.6C2884.8 1276.5 2886.2 1279.7 2884.7 1266.7C2883.3 1253.8 2885.8 1259.2 2889.9 1246.7C2894 1234.2 2890.3 1240.3 2896.9 1229.3C2903.5 1218.3 2898.8 1218.9 2909.7 1213.8C2920.7 1208.8 2916.8 1213.8 2929.8 1214.2C2942.9 1214.6 2937.5 1210.6 2948.9 1215C2960.2 1219.4 2955.2 1217.8 2963.8 1227.4C2972.3 1237 2969.3 1231.4 2974.5 1243.9C2979.6 1256.4 2981.9 1252.1 2979.2 1264.8Z" fill="none" stroke="#000" stroke-width="5" stroke-linejoin="round"/></g>
<path d="M613.2 1343 V1564 H604 L616.5 1588 L629 1564 H619.8 V1343 Z" fill="#2b3e52"/>
<path d="M849.8 1290 V1511 H840.5 L853 1535 L865.5 1511 H856.2 V1290 Z" fill="#2b3e52"/>
<path d="M1112 1179.5 V1399 H1102.8 L1115.3 1423 L1127.8 1399 H1118.5 V1179.5 Z" fill="#2b3e52"/>
<path d="M1538.2 1129 V1350 H1529 L1541.5 1374 L1554 1350 H1544.8 V1129 Z" fill="#2b3e52"/>
<path d="M1772.2 1000.5 V1221 H1762.9 L1775.4 1245 L1787.9 1221 H1778.7 V1000.5 Z" fill="#2b3e52"/>
<path d="M983.4,1051.7 1162,861.2 1168.7,867.6 1176,841.5 1150.5,850.5 1157.2,856.8 978.6,1047.3Z" fill="#2b3e52"/>
<text x="1109.8" y="726.8" font-size="53" font-weight="normal" fill="#000" textLength="311.6" lengthAdjust="spacingAndGlyphs">Apoptotic or</text>
<text x="1118.4" y="800.9" font-size="53" font-weight="normal" fill="#000" textLength="292" lengthAdjust="spacingAndGlyphs">necrotic cell</text>
<text x="575" y="1677.7" font-size="56" font-weight="normal" fill="#000" textLength="94" lengthAdjust="spacingAndGlyphs">CTC</text>
<text x="777.5" y="1609.3" font-size="55" font-weight="normal" fill="#000" textLength="157" lengthAdjust="spacingAndGlyphs">ctDNA</text>
<text x="1011.4" y="1506" font-size="53" font-weight="normal" fill="#000" textLength="239" lengthAdjust="spacingAndGlyphs">Exosomes</text>
<text x="1437.5" y="1462.1" font-size="55" font-weight="normal" fill="#000" textLength="181.3" lengthAdjust="spacingAndGlyphs">ccfDNA</text>
<text x="1672.3" y="1333.6" font-size="55" font-weight="normal" fill="#000" textLength="175.4" lengthAdjust="spacingAndGlyphs">ccfRNA</text>
<g transform="translate(569.5 763.8) rotate(-31.1)"><text x="0" y="0" font-size="53" font-weight="normal" fill="#000" textLength="152" lengthAdjust="spacingAndGlyphs">Tumor</text></g>
<path d="M2384 613H2601V593L2662.5 623.5L2601 654V633.5H2384Z" fill="#0071b9"/>
<text x="2608.5" y="145.2" font-size="97.5" font-weight="bold" fill="#0071b9" textLength="662.5" lengthAdjust="spacingAndGlyphs">LIQUID BIOPSY</text>
</svg>
</body></html>
